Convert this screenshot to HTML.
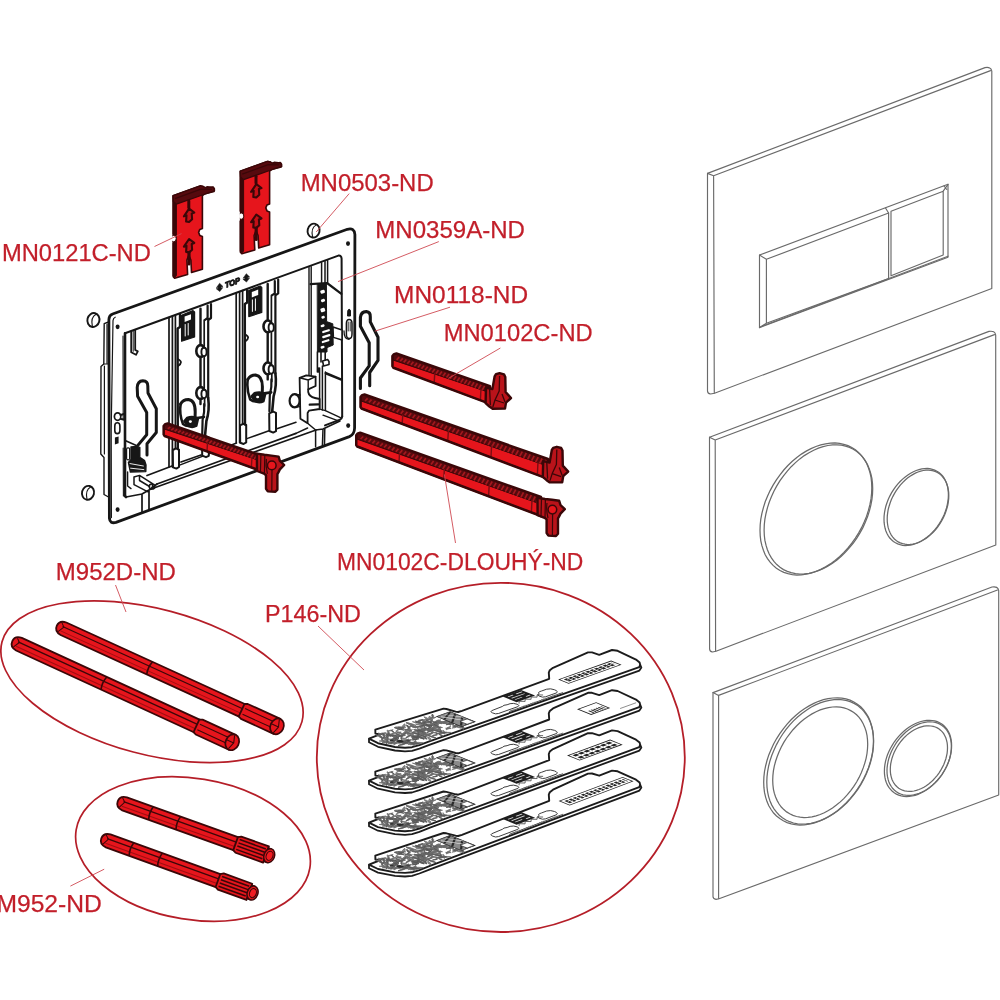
<!DOCTYPE html>
<html lang="cs"><head><meta charset="utf-8"><title>Spare parts</title>
<style>
html,body{margin:0;padding:0;background:#fff;}
body{width:1000px;height:1000px;overflow:hidden;}
svg{display:block;will-change:transform;filter:blur(0.45px)}
text{font-family:"Liberation Sans",sans-serif;}
</style></head><body>
<svg width="1000" height="1000" viewBox="0 0 1000 1000">
<rect width="1000" height="1000" fill="#fff"/>
<!-- sec_plates -->

<g fill="none" stroke="#6a6a6a" stroke-width="1.15" stroke-linejoin="round" stroke-linecap="round">
<path d="M707.5 173.4 L985 67.6 Q991 66.5 991.8 71 L991.8 288.5 L714.5 393.2 L710.5 394 Q707.5 393.5 707.5 391 Z"/>
<path d="M713.6 175.7 L990.5 70.6 M713.6 175.7 L714.3 393 M707.5 173.4 L713.6 175.7"/>
<path d="M759.5 255 L948 184.3 L948 257.2 L759.5 327.6 Z"/>
<path d="M759.5 255 L766.4 259.3 L766.4 323.3 L759.5 327.6 M766.4 259.3 L888.6 213 L888.6 278.6 L766.4 323.3"/>
<path d="M762.5 326 L948 256.2"/>
<path d="M885.5 208 L888.6 213 M891 211.2 L943.2 191.2 L943.2 255 L891 275.8 Z M943.2 191.2 L948 184.3 M944 186 L946.8 189.5"/>
<path d="M709.5 437.2 L989 331.4 Q995 330.4 995.7 335 L995.8 545 L716 651.2 L712.5 652 Q709.6 651.5 709.6 649 Z"/>
<path d="M715.2 440 L994.5 334.6 M715.2 440 L715.6 651 M709.5 437.2 L715.2 440"/>
<path d="M713 692.6 L992 587 Q998 586 998.7 590.5 L998.7 795 L719 898.8 L716 899.4 Q713 899 713 896.5 Z"/>
<path d="M718.6 695.4 L997.5 590 M718.6 695.4 L718.6 898.6 M713 692.6 L718.6 695.4"/>
</g>
<path d="M871.8 487.8 L871.6 493.3 L871.0 498.9 L869.9 504.7 L868.4 510.4 L866.6 516.2 L864.3 521.8 L861.7 527.4 L858.7 532.9 L855.4 538.2 L851.8 543.2 L848.0 548.0 L843.9 552.5 L839.5 556.7 L835.0 560.5 L830.4 563.9 L825.6 566.9 L820.8 569.4 L815.9 571.5 L811.0 573.1 L806.2 574.2 L801.4 574.9 L796.8 575.0 L792.3 574.6 L788.0 573.7 L783.8 572.4 L780.0 570.5 L776.4 568.2 L773.1 565.4 L770.1 562.2 L767.5 558.6 L765.2 554.7 L763.4 550.3 L761.9 545.7 L760.8 540.8 L760.2 535.6 L760.0 530.2 L760.2 524.7 L760.8 519.1 L761.9 513.3 L763.4 507.6 L765.2 501.8 L767.5 496.2 L770.1 490.6 L773.1 485.1 L776.4 479.8 L780.0 474.8 L783.8 470.0 L787.9 465.5 L792.3 461.3 L796.8 457.5 L801.4 454.1 L806.2 451.1 L811.0 448.6 L815.9 446.5 L820.8 444.9 L825.6 443.8 L830.4 443.1 L835.0 443.0 L839.5 443.4 L843.8 444.3 L848.0 445.6 L851.8 447.5 L855.4 449.8 L858.7 452.6 L861.7 455.8 L864.3 459.4 L866.6 463.3 L868.4 467.7 L869.9 472.3 L871.0 477.2 L871.6 482.4 Z" fill="none" stroke="#6a6a6a" stroke-width="1.25"/>
<path d="M872.7 488.8 L872.5 494.2 L871.9 499.7 L870.8 505.3 L869.4 510.9 L867.6 516.6 L865.4 522.1 L862.9 527.6 L860.0 532.9 L856.8 538.1 L853.3 543.0 L849.5 547.7 L845.5 552.1 L841.3 556.2 L837.0 559.9 L832.5 563.2 L827.8 566.1 L823.1 568.6 L818.4 570.6 L813.7 572.2 L809.0 573.3 L804.3 573.9 L799.8 574.0 L795.5 573.6 L791.2 572.7 L787.3 571.4 L783.5 569.6 L780.0 567.3 L776.8 564.6 L773.9 561.4 L771.4 557.9 L769.2 554.0 L767.4 549.7 L766.0 545.2 L764.9 540.4 L764.3 535.3 L764.1 530.0 L764.3 524.6 L764.9 519.1 L766.0 513.5 L767.4 507.9 L769.2 502.2 L771.4 496.7 L773.9 491.2 L776.8 485.9 L780.0 480.7 L783.5 475.8 L787.3 471.1 L791.2 466.7 L795.5 462.6 L799.8 458.9 L804.3 455.6 L809.0 452.7 L813.7 450.2 L818.4 448.2 L823.1 446.6 L827.8 445.5 L832.5 444.9 L837.0 444.8 L841.3 445.2 L845.5 446.1 L849.5 447.4 L853.3 449.2 L856.8 451.5 L860.0 454.2 L862.9 457.4 L865.4 460.9 L867.6 464.8 L869.4 469.1 L870.8 473.6 L871.9 478.4 L872.5 483.5 Z" fill="none" stroke="#6a6a6a" stroke-width="1.25"/>
<path d="M948.4 494.8 L948.3 498.0 L947.9 501.3 L947.3 504.6 L946.5 508.0 L945.4 511.3 L944.1 514.7 L942.6 517.9 L940.9 521.1 L939.0 524.2 L936.9 527.1 L934.7 529.9 L932.3 532.5 L929.8 534.9 L927.2 537.1 L924.5 539.1 L921.8 540.8 L919.0 542.3 L916.2 543.5 L913.4 544.4 L910.6 545.1 L907.9 545.4 L905.2 545.5 L902.6 545.3 L900.1 544.7 L897.7 543.9 L895.5 542.8 L893.4 541.5 L891.5 539.8 L889.8 538.0 L888.3 535.8 L887.0 533.5 L885.9 531.0 L885.1 528.3 L884.5 525.4 L884.1 522.4 L884.0 519.2 L884.1 516.0 L884.5 512.7 L885.1 509.4 L885.9 506.0 L887.0 502.7 L888.3 499.3 L889.8 496.1 L891.5 492.9 L893.4 489.8 L895.5 486.9 L897.7 484.1 L900.1 481.5 L902.6 479.1 L905.2 476.9 L907.9 474.9 L910.6 473.2 L913.4 471.7 L916.2 470.5 L919.0 469.6 L921.8 468.9 L924.5 468.6 L927.2 468.5 L929.8 468.7 L932.3 469.3 L934.7 470.1 L936.9 471.2 L939.0 472.5 L940.9 474.2 L942.6 476.0 L944.1 478.2 L945.4 480.5 L946.5 483.0 L947.3 485.7 L947.9 488.6 L948.3 491.6 Z" fill="none" stroke="#6a6a6a" stroke-width="1.25"/>
<path d="M948.8 495.6 L948.7 498.7 L948.3 501.9 L947.8 505.1 L946.9 508.4 L945.9 511.6 L944.7 514.8 L943.2 518.0 L941.6 521.0 L939.8 524.0 L937.8 526.8 L935.7 529.5 L933.4 532.0 L931.0 534.4 L928.5 536.5 L926.0 538.4 L923.3 540.0 L920.7 541.5 L918.0 542.6 L915.3 543.5 L912.7 544.1 L910.0 544.4 L907.5 544.5 L905.0 544.2 L902.6 543.7 L900.3 542.9 L898.2 541.9 L896.2 540.5 L894.4 539.0 L892.8 537.1 L891.3 535.1 L890.1 532.8 L889.1 530.4 L888.2 527.7 L887.7 525.0 L887.3 522.0 L887.2 519.0 L887.3 515.9 L887.7 512.7 L888.2 509.5 L889.1 506.2 L890.1 503.0 L891.3 499.8 L892.8 496.6 L894.4 493.6 L896.2 490.6 L898.2 487.8 L900.3 485.1 L902.6 482.6 L905.0 480.2 L907.5 478.1 L910.0 476.2 L912.7 474.6 L915.3 473.1 L918.0 472.0 L920.7 471.1 L923.3 470.5 L926.0 470.2 L928.5 470.1 L931.0 470.4 L933.4 470.9 L935.7 471.7 L937.8 472.7 L939.8 474.1 L941.6 475.6 L943.2 477.5 L944.7 479.5 L945.9 481.8 L946.9 484.2 L947.8 486.9 L948.3 489.6 L948.7 492.6 Z" fill="none" stroke="#6a6a6a" stroke-width="1.25"/>
<path d="M873.5 740.5 L873.3 745.9 L872.7 751.3 L871.6 756.8 L870.2 762.3 L868.4 767.9 L866.1 773.4 L863.6 778.8 L860.7 784.0 L857.4 789.1 L853.9 794.0 L850.1 798.6 L846.1 803.0 L841.8 807.0 L837.4 810.7 L832.8 814.0 L828.1 816.9 L823.4 819.4 L818.6 821.5 L813.8 823.1 L809.1 824.2 L804.4 824.8 L799.8 825.0 L795.4 824.7 L791.2 823.9 L787.1 822.6 L783.3 820.8 L779.8 818.6 L776.5 816.0 L773.6 813.0 L771.1 809.5 L768.8 805.7 L767.0 801.6 L765.6 797.1 L764.5 792.4 L763.9 787.4 L763.7 782.3 L763.9 776.9 L764.5 771.5 L765.6 766.0 L767.0 760.5 L768.8 754.9 L771.1 749.4 L773.6 744.0 L776.5 738.8 L779.8 733.7 L783.3 728.8 L787.1 724.2 L791.1 719.8 L795.4 715.8 L799.8 712.1 L804.4 708.8 L809.1 705.9 L813.8 703.4 L818.6 701.3 L823.4 699.7 L828.1 698.6 L832.8 698.0 L837.4 697.8 L841.8 698.1 L846.0 698.9 L850.1 700.2 L853.9 702.0 L857.4 704.2 L860.7 706.8 L863.6 709.8 L866.1 713.3 L868.4 717.1 L870.2 721.2 L871.6 725.7 L872.7 730.4 L873.3 735.4 Z" fill="none" stroke="#6a6a6a" stroke-width="1.25"/>
<path d="M873.6 741.5 L873.4 746.7 L872.8 752.0 L871.8 757.4 L870.4 762.9 L868.6 768.3 L866.4 773.7 L863.9 779.0 L861.1 784.1 L858.0 789.1 L854.5 793.9 L850.8 798.4 L846.9 802.7 L842.8 806.6 L838.5 810.2 L834.0 813.4 L829.5 816.3 L824.9 818.7 L820.2 820.7 L815.5 822.2 L810.9 823.3 L806.4 823.9 L801.9 824.1 L797.6 823.8 L793.5 823.0 L789.6 821.7 L785.9 820.0 L782.4 817.8 L779.3 815.2 L776.5 812.2 L774.0 808.8 L771.8 805.1 L770.0 801.0 L768.6 796.6 L767.6 792.0 L767.0 787.1 L766.8 782.1 L767.0 776.9 L767.6 771.6 L768.6 766.2 L770.0 760.7 L771.8 755.3 L774.0 749.9 L776.5 744.6 L779.3 739.5 L782.4 734.5 L785.9 729.7 L789.6 725.2 L793.5 720.9 L797.6 717.0 L801.9 713.4 L806.4 710.2 L810.9 707.3 L815.5 704.9 L820.2 702.9 L824.9 701.4 L829.5 700.3 L834.0 699.7 L838.5 699.5 L842.8 699.8 L846.9 700.6 L850.8 701.9 L854.5 703.6 L858.0 705.8 L861.1 708.4 L863.9 711.4 L866.4 714.8 L868.6 718.5 L870.4 722.6 L871.8 727.0 L872.8 731.6 L873.4 736.5 Z" fill="none" stroke="#6a6a6a" stroke-width="1.25"/>
<path d="M867.7 744.2 L867.5 748.8 L867.0 753.5 L866.1 758.3 L864.8 763.1 L863.2 767.9 L861.3 772.7 L859.1 777.4 L856.6 782.0 L853.8 786.4 L850.7 790.6 L847.4 794.7 L844.0 798.4 L840.3 801.9 L836.4 805.1 L832.5 808.0 L828.4 810.5 L824.3 812.7 L820.2 814.5 L816.1 815.8 L812.0 816.8 L807.9 817.4 L804.0 817.5 L800.1 817.2 L796.5 816.5 L793.0 815.4 L789.7 813.8 L786.6 811.9 L783.8 809.6 L781.3 807.0 L779.1 804.0 L777.2 800.6 L775.6 797.0 L774.3 793.2 L773.4 789.1 L772.9 784.7 L772.7 780.2 L772.9 775.6 L773.4 770.9 L774.3 766.1 L775.6 761.3 L777.2 756.5 L779.1 751.7 L781.3 747.0 L783.8 742.4 L786.6 738.0 L789.7 733.8 L793.0 729.7 L796.5 726.0 L800.1 722.5 L804.0 719.3 L807.9 716.4 L812.0 713.9 L816.1 711.7 L820.2 709.9 L824.3 708.6 L828.4 707.6 L832.5 707.0 L836.4 706.9 L840.3 707.2 L844.0 707.9 L847.4 709.0 L850.7 710.6 L853.8 712.5 L856.6 714.8 L859.1 717.4 L861.3 720.4 L863.2 723.8 L864.8 727.4 L866.1 731.2 L867.0 735.3 L867.5 739.7 Z" fill="none" stroke="#6a6a6a" stroke-width="1.25"/>
<path d="M951.6 745.6 L951.5 748.8 L951.1 752.1 L950.5 755.4 L949.6 758.7 L948.5 762.0 L947.1 765.3 L945.5 768.5 L943.7 771.7 L941.8 774.8 L939.6 777.7 L937.3 780.5 L934.8 783.1 L932.2 785.5 L929.5 787.8 L926.7 789.8 L923.8 791.5 L920.9 793.0 L918.0 794.3 L915.1 795.3 L912.2 796.0 L909.3 796.4 L906.5 796.5 L903.8 796.3 L901.2 795.9 L898.7 795.1 L896.4 794.1 L894.2 792.8 L892.3 791.3 L890.5 789.4 L888.9 787.4 L887.5 785.1 L886.4 782.7 L885.5 780.0 L884.9 777.2 L884.5 774.2 L884.4 771.2 L884.5 768.0 L884.9 764.7 L885.5 761.4 L886.4 758.1 L887.5 754.8 L888.9 751.5 L890.5 748.3 L892.3 745.1 L894.2 742.0 L896.4 739.1 L898.7 736.3 L901.2 733.7 L903.8 731.3 L906.5 729.0 L909.3 727.0 L912.2 725.3 L915.1 723.8 L918.0 722.5 L920.9 721.5 L923.8 720.8 L926.7 720.4 L929.5 720.3 L932.2 720.5 L934.8 720.9 L937.3 721.7 L939.6 722.7 L941.8 724.0 L943.7 725.5 L945.5 727.4 L947.1 729.4 L948.5 731.7 L949.6 734.1 L950.5 736.8 L951.1 739.6 L951.5 742.6 Z" fill="none" stroke="#6a6a6a" stroke-width="1.25"/>
<path d="M951.4 746.4 L951.3 749.4 L950.9 752.6 L950.3 755.8 L949.5 759.0 L948.4 762.2 L947.1 765.4 L945.6 768.5 L943.9 771.5 L942.0 774.5 L939.9 777.3 L937.7 780.0 L935.3 782.5 L932.8 784.9 L930.2 787.0 L927.5 789.0 L924.8 790.7 L922.0 792.1 L919.2 793.3 L916.4 794.2 L913.6 794.9 L910.9 795.3 L908.2 795.4 L905.6 795.2 L903.1 794.8 L900.7 794.0 L898.5 793.1 L896.4 791.8 L894.5 790.3 L892.8 788.5 L891.3 786.5 L890.0 784.4 L888.9 782.0 L888.1 779.4 L887.5 776.7 L887.1 773.8 L887.0 770.8 L887.1 767.8 L887.5 764.6 L888.1 761.4 L888.9 758.2 L890.0 755.0 L891.3 751.8 L892.8 748.7 L894.5 745.7 L896.4 742.7 L898.5 739.9 L900.7 737.2 L903.1 734.7 L905.6 732.3 L908.2 730.2 L910.9 728.2 L913.6 726.5 L916.4 725.1 L919.2 723.9 L922.0 723.0 L924.8 722.3 L927.5 721.9 L930.2 721.8 L932.8 722.0 L935.3 722.4 L937.7 723.2 L939.9 724.1 L942.0 725.4 L943.9 726.9 L945.6 728.7 L947.1 730.7 L948.4 732.8 L949.5 735.2 L950.3 737.8 L950.9 740.5 L951.3 743.4 Z" fill="none" stroke="#6a6a6a" stroke-width="1.25"/>
<path d="M947.5 747.7 L947.4 750.5 L947.1 753.3 L946.5 756.1 L945.8 759.0 L944.8 761.8 L943.7 764.7 L942.3 767.4 L940.8 770.2 L939.1 772.8 L937.3 775.3 L935.3 777.7 L933.2 780.0 L931.0 782.1 L928.7 784.0 L926.3 785.7 L923.9 787.2 L921.4 788.5 L918.9 789.5 L916.4 790.4 L913.9 791.0 L911.5 791.3 L909.1 791.4 L906.8 791.2 L904.6 790.8 L902.5 790.2 L900.5 789.3 L898.7 788.2 L897.0 786.8 L895.5 785.3 L894.1 783.5 L893.0 781.5 L892.0 779.4 L891.3 777.1 L890.7 774.7 L890.4 772.1 L890.3 769.5 L890.4 766.7 L890.7 763.9 L891.3 761.1 L892.0 758.2 L893.0 755.4 L894.1 752.5 L895.5 749.8 L897.0 747.0 L898.7 744.4 L900.5 741.9 L902.5 739.5 L904.6 737.2 L906.8 735.1 L909.1 733.2 L911.5 731.5 L913.9 730.0 L916.4 728.7 L918.9 727.7 L921.4 726.8 L923.9 726.2 L926.3 725.9 L928.7 725.8 L931.0 726.0 L933.2 726.4 L935.3 727.0 L937.3 727.9 L939.1 729.0 L940.8 730.4 L942.3 731.9 L943.7 733.7 L944.8 735.7 L945.8 737.8 L946.5 740.1 L947.1 742.5 L947.4 745.1 Z" fill="none" stroke="#6a6a6a" stroke-width="1.25"/>
<!-- sec_frame -->
<g fill="none" stroke="#161616" stroke-width="1.5" stroke-linecap="round" stroke-linejoin="round">
<path d="M108.5 322 L104.2 323.6 L103.8 364 L101 366.5 L100.8 454 L104 457.5 L104 494.5 L108.5 497" stroke-width="1.4"/>
<path d="M107 324.4 L107 363 M103.8 364 L108 364 M104.4 366 L104.4 454" stroke-width="1.2"/>
<path d="M113 320.6 Q113.2 318 115.2 317.2 M113 320.6 L111.2 430 L111.4 517.6" stroke-width="1.2"/>
<path d="M147 475.5 L172 466 M181 462 L201 455 M157 484 L296 433.4 M151 489 L316 430" stroke-width="1.7"/>
<path d="M142 494 L142 511.4 M149 490 L149 509 M142 494 L149 490 L157 484 M149 490 L151 489 M126 497 L142 494" stroke-width="1.7"/>
<path d="M179 465.4 L236.6 443 M247.6 438.4 L269 430.8 M276.2 429 L296 422.2"/>
<path d="M125 333.2 L338.4 255.6 Q341.4 255.2 341.6 258.6 L342.2 416.4" stroke-width="2"/>
<path d="M125 333.2 L125 496 L126 497" stroke-width="2.6"/>
<path d="M123 336 L123.2 420 M123.2 448 L123.4 496" stroke-width="1.1"/>
<path d="M131.2 331.5 L131.2 352.3 L136 354.8 L137.8 351.4 L135.2 350 L135.2 330" stroke-width="1.8"/>
<path d="M133.2 331 L133.2 351.4" stroke-width="1"/>
<path d="M169.0 317.6 L169.0 467.0 M172.4 316.4 L172.4 467.0 M175.4 315.2 L175.4 449.0" stroke-width="1.7"/>
<path d="M172.8 450.0 L173.0 467.4 L176.4 468.6 L179.0 467.0 L179.0 449.6 L176.0 448.4 Z" fill="#fff" stroke-width="2"/>
<path d="M180.0 315.0 L180.0 327.0 L177.6 328.6 L177.8 449.0" stroke-width="2.4"/>
<path d="M177.8 359.0 Q184.0 362.0 178.0 366.0" stroke-width="1.8"/>
<path d="M181.5 315.2 L193.0 310.6 L194.6 312.0 L194.6 337.0 L181.6 341.2 Z" fill="#161616" stroke-width="1.2"/>
<path d="M184.6 316.6 L191.0 314.2 L191.0 319.6 L184.6 322.0 Z" fill="#fff" stroke="none"/>
<path d="M185.2 324.5 L185.2 336.0 M188.2 323.5 L188.2 335.0" stroke="#fff" stroke-width="1"/>
<path d="M200.5 308.6 L200.5 345.0 M200.5 357.5 L200.5 387.0 M200.5 399.5 L200.5 404.0" stroke-width="2.4"/>
<path d="M204.2 320.0 L204.2 346.0 M204.2 357.5 L204.2 388.0 M204.6 399.0 L204.6 406.0" stroke-width="1.7"/>
<path d="M207.6 305.6 L207.6 318.0 L205.0 319.8 M211.0 304.2 L211.0 318.0 L208.2 320.0 L208.2 398.0" stroke-width="2.2"/>
<ellipse cx="200.6" cy="351.0" rx="4.3" ry="5.9" fill="#fff" stroke-width="2.6"/>
<ellipse cx="204.0" cy="352.0" rx="2.6" ry="4.2" fill="#fff" stroke-width="1.9"/>
<ellipse cx="200.6" cy="393.0" rx="4.3" ry="5.9" fill="#fff" stroke-width="2.6"/>
<ellipse cx="204.0" cy="394.0" rx="2.6" ry="4.2" fill="#fff" stroke-width="1.9"/>
<path d="M180.6 404.0 Q183.0 399.6 188.4 399.6 Q195.4 400.6 195.2 412.0 L195.0 420.0" stroke-width="3"/>
<path d="M180.6 404.0 Q179.0 414.0 183.0 424.0 Q188.0 428.0 194.0 424.0 L197.0 418.0 L204.0 417.0" stroke-width="2.6"/>
<path d="M184.0 421.0 Q189.0 430.0 196.6 426.0 L198.4 418.4 Q193.0 415.4 187.0 417.6 Z" fill="#161616" stroke-width="1.8"/>
<ellipse cx="190.4" cy="421.6" rx="1.5" ry="1.3" fill="#fff" stroke="none"/>
<path d="M208.2 398.0 Q209.8 410.0 206.4 421.0 L205.0 436.0" stroke-width="2.6"/>
<path d="M204.2 404.0 Q204.8 412.0 202.6 420.0 L202.2 436.0" stroke-width="2.2"/>
<path d="M202.0 438.0 L202.2 455.6 L206.0 457.2 L208.8 455.8 L208.8 437.4 L206.0 436.2 Z" fill="#fff" stroke-width="2"/>
<path d="M236.2 293.0 L236.2 442.4 M239.6 291.8 L239.6 442.4 M242.6 290.6 L242.6 424.4" stroke-width="1.7"/>
<path d="M240.0 425.4 L240.2 442.8 L243.6 444.0 L246.2 442.4 L246.2 425.0 L243.2 423.8 Z" fill="#fff" stroke-width="2"/>
<path d="M247.2 290.4 L247.2 302.4 L244.8 304.0 L245.0 424.4" stroke-width="2.4"/>
<path d="M245.0 334.4 Q251.2 337.4 245.2 341.4" stroke-width="1.8"/>
<path d="M248.7 290.6 L260.2 286.0 L261.8 287.4 L261.8 312.4 L248.8 316.6 Z" fill="#161616" stroke-width="1.2"/>
<path d="M251.8 292.0 L258.2 289.6 L258.2 295.0 L251.8 297.4 Z" fill="#fff" stroke="none"/>
<path d="M252.4 299.9 L252.4 311.4 M255.4 298.9 L255.4 310.4" stroke="#fff" stroke-width="1"/>
<path d="M267.7 284.0 L267.7 320.4 M267.7 332.9 L267.7 362.4 M267.7 374.9 L267.7 379.4" stroke-width="2.4"/>
<path d="M271.4 295.4 L271.4 321.4 M271.4 332.9 L271.4 363.4 M271.8 374.4 L271.8 381.4" stroke-width="1.7"/>
<path d="M274.8 281.0 L274.8 293.4 L272.2 295.2 M278.2 279.6 L278.2 293.4 L275.4 295.4 L275.4 373.4" stroke-width="2.2"/>
<ellipse cx="267.8" cy="326.4" rx="4.3" ry="5.9" fill="#fff" stroke-width="2.6"/>
<ellipse cx="271.2" cy="327.4" rx="2.6" ry="4.2" fill="#fff" stroke-width="1.9"/>
<ellipse cx="267.8" cy="368.4" rx="4.3" ry="5.9" fill="#fff" stroke-width="2.6"/>
<ellipse cx="271.2" cy="369.4" rx="2.6" ry="4.2" fill="#fff" stroke-width="1.9"/>
<path d="M247.8 379.4 Q250.2 375.0 255.6 375.0 Q262.6 376.0 262.4 387.4 L262.2 395.4" stroke-width="3"/>
<path d="M247.8 379.4 Q246.2 389.4 250.2 399.4 Q255.2 403.4 261.2 399.4 L264.2 393.4 L271.2 392.4" stroke-width="2.6"/>
<path d="M251.2 396.4 Q256.2 405.4 263.8 401.4 L265.6 393.8 Q260.2 390.8 254.2 393.0 Z" fill="#161616" stroke-width="1.8"/>
<ellipse cx="257.6" cy="397.0" rx="1.5" ry="1.3" fill="#fff" stroke="none"/>
<path d="M275.4 373.4 Q277.0 385.4 273.6 396.4 L272.2 411.4" stroke-width="2.6"/>
<path d="M271.4 379.4 Q272.0 387.4 269.8 395.4 L269.4 411.4" stroke-width="2.2"/>
<path d="M269.2 413.4 L269.4 431.0 L273.2 432.6 L276.0 431.2 L276.0 412.8 L273.2 411.6 Z" fill="#fff" stroke-width="2"/>
<path d="M309 267.4 L309 376 M311.2 266.6 L311.2 375.4" stroke-width="1.4"/>
<path d="M321.6 262.8 L321.6 283 M325 261.6 L325 283 M327.6 260.6 L327.6 283.4" stroke-width="1.5"/>
<path d="M310.6 284.2 L327 283 L341.4 293.8" stroke-width="2.2"/>
<path d="M317.6 284 L326.4 283.4 L326.6 321.6 L332.8 323.8 L333.2 345 L327 347.6 L327 352 L317.8 352 Z" fill="#161616" stroke-width="1"/>
<rect x="320.4" y="290" width="4.4" height="3.4" rx="1" fill="#fff" stroke="none" transform="rotate(-18 322.59999999999997 291.7)"/>
<rect x="321" y="299" width="4" height="3" rx="1" fill="#fff" stroke="none" transform="rotate(-18 323.0 300.5)"/>
<rect x="320.6" y="308" width="4.4" height="4" rx="1" fill="#fff" stroke="none" transform="rotate(-18 322.8 310.0)"/>
<rect x="321.4" y="316" width="3.4" height="2.6" rx="1" fill="#fff" stroke="none" transform="rotate(-18 323.09999999999997 317.3)"/>
<rect x="320.6" y="324.6" width="4" height="2.4" rx="1" fill="#fff" stroke="none" transform="rotate(-18 322.6 325.8)"/>
<rect x="322" y="330" width="8" height="2.2" rx="1" fill="#fff" stroke="none" transform="rotate(-18 326.0 331.1)"/>
<rect x="322" y="335" width="8.6" height="2.2" rx="1" fill="#fff" stroke="none" transform="rotate(-18 326.3 336.1)"/>
<rect x="321.6" y="340" width="8" height="2.2" rx="1" fill="#fff" stroke="none" transform="rotate(-18 325.6 341.1)"/>
<rect x="320.6" y="346" width="4" height="2.4" rx="1" fill="#fff" stroke="none" transform="rotate(-18 322.6 347.2)"/>
<path d="M317.4 352 L317.4 372 M321 352 L321 362 M325.2 352 L325.2 360" stroke-width="1.6"/>
<path d="M333 327 L342 330 L342 340 L333.4 337.4 Z" fill="#fff" stroke-width="1.5"/>
<path d="M322.6 361 L327.6 359.6 L329 361.4 L329 364.6 L323.6 366 Z" fill="#fff" stroke-width="1.6"/>
<path d="M318.4 368 L318.4 372 M319.6 368 L319.6 409.4 M322.4 366 L322.4 410 M325.4 372 L325.4 410.6" stroke-width="1.5"/>
<path d="M325.9 373.2 L341.4 379.6" stroke-width="2.6"/>
<path d="M325.4 410.6 L340.4 417.6 M323 415.2 L339 421.2 M320.7 409.4 L325.4 410.6" stroke-width="1.4"/>
<path d="M347.9 310.4 Q349.2 307.6 350.5 310.4 L350.5 316 L347.9 316 Z" fill="#161616" stroke-width="1"/>
<path d="M346.4 323.6 Q346.4 319.4 349.2 319.4 Q352 319.4 352 323.6 L352 334 Q352 338.6 349.2 338.6 Q346.4 338.6 346.4 334 Z" stroke-width="1.5"/>
<path d="M348.2 322 L348.2 331 M350.2 322 L350.2 331" stroke-width="0.9"/>
<path d="M344 331 Q344 339 349 339.4" stroke-width="1.3"/>
<ellipse cx="117.6" cy="416.6" rx="3.2" ry="3.8" stroke-width="1.7"/><path d="M120.6 415 L124 414 M120.8 419 L124 419.6" stroke-width="2"/>
<path d="M114.8 426 Q114.8 422.8 117.3 422.8 Q119.9 422.8 119.9 426 L119.9 430.4 Q119.9 433.6 117.3 433.6 Q114.8 433.6 114.8 430.4 Z" stroke-width="1.6"/>
<path d="M114.9 437.4 L118.6 436.4 L118.6 443.2 L114.9 444.4 Z" fill="#161616" stroke="none"/>
<path d="M126.2 440.9 L135.8 445.2 L136 447" stroke-width="1.6"/>
<path d="M131 447 L136 446.4 L139.8 447.4 L139.8 457.4 L144.6 460.6 L146 465 L145.8 471.6 L130.4 472 L128.4 462.4 L131 459.6 Z" fill="#161616" stroke-width="1.4"/>
<path d="M130 463.6 L143.4 466 M130.6 468.2 L143.8 469.6" stroke="#fff" stroke-width="0.9"/>
<rect x="126.6" y="447.8" width="3" height="12" rx="1.2" fill="#fff" stroke-width="1.2"/>
<path d="M127.6 472 L127.6 486 L131 488.6" stroke-width="1.4"/>
<path d="M134 477 L139.5 475.4 L152.5 483.6 L152.5 488 M134 477 L134 484.6 L148 491.8 M139.5 475.4 L139.5 480.5 L149.5 486.5" />
<ellipse cx="152" cy="486.5" rx="2.8" ry="2.6"/>
<path d="M299.6 377.8 L306.3 375.4 L315.6 376.6 L315.6 386 L308.2 389.4 L308.2 392 Q309 396.6 315 398 L319.6 399 L319.6 409 L309 410.6 L307.6 413 L307.6 423.2 L300.4 418.8 Z" fill="#fff" stroke-width="1.8"/>
<path d="M299.6 377.8 L308.2 380 L315.6 376.6 M308.2 380 L308.2 389.4" stroke-width="1.4"/>
<path d="M309.8 404.6 L318.4 404.4" stroke-width="2.4"/>
<ellipse cx="294.6" cy="400.8" rx="5" ry="6.6" fill="#fff" stroke-width="2.2"/><path d="M294.6 394.2 L300 395 M294.6 407.4 L300 406.6" stroke-width="1.4"/>
<path d="M342.2 416.4 Q342 418.8 340 419.6 L325 425.4" stroke-width="2"/>
<path d="M315.6 430 L315.6 446.8 M323 429 L322.4 445.8 M324.8 428.4 L324.5 445.4 M307.6 423.2 L315.6 430 L323 429 L340 421"/>
<path d="M296 433.4 L307.6 428"/>
</g>
<path d="M108.9 319.5 Q109 315.4 112.6 314 L347.4 229.3 Q354.4 227.4 354.9 234.5 L354.6 428 Q354.4 434.6 349.4 436.6 L116 522.4 Q109.9 524 109.4 518.4 Z" fill="none" stroke="#161616" stroke-width="2.8" stroke-linejoin="round"/>
<ellipse cx="117.6" cy="326.8" rx="2" ry="2.4" fill="#161616"/>
<ellipse cx="348" cy="243.6" rx="2" ry="2.4" fill="#161616"/>
<ellipse cx="348.2" cy="425.6" rx="2" ry="2.4" fill="#161616"/>
<ellipse cx="117.6" cy="509.6" rx="2" ry="2.4" fill="#161616"/>
<ellipse cx="93.4" cy="320" rx="6" ry="7" fill="none" stroke="#161616" stroke-width="1.9" transform="rotate(14 93.4 320)"/>
<path d="M94.60000000000001 313.8 Q89.80000000000001 318 94.0 326.6" fill="none" stroke="#161616" stroke-width="1.1" transform="rotate(14 93.4 320)"/>
<ellipse cx="313.6" cy="230.6" rx="6" ry="7" fill="none" stroke="#161616" stroke-width="1.9" transform="rotate(14 313.6 230.6)"/>
<path d="M314.8 224.4 Q310.0 228.6 314.20000000000005 237.2" fill="none" stroke="#161616" stroke-width="1.1" transform="rotate(14 313.6 230.6)"/>
<ellipse cx="88" cy="492.8" rx="6" ry="7" fill="none" stroke="#161616" stroke-width="1.9" transform="rotate(14 88 492.8)"/>
<path d="M89.2 486.6 Q84.4 490.8 88.6 499.40000000000003" fill="none" stroke="#161616" stroke-width="1.1" transform="rotate(14 88 492.8)"/>
<text x="0" y="0" font-size="7.8" font-weight="700" font-style="italic" fill="#161616" stroke="#161616" stroke-width="0.9" stroke-linejoin="round" text-anchor="middle" transform="translate(232.9 285.4) rotate(-20) skewX(-10)">TOP</text>
<path d="M219.6 283.2 L223.0 286.5 L221.0 287.0 L221.2 288.0 L222.79999999999998 287.59999999999997 L219.79999999999998 291.59999999999997 L216.2 288.7 L218.2 288.29999999999995 L218.0 287.2 L216.4 287.7 Z" fill="#161616" stroke="#161616" stroke-width="0.5" stroke-linejoin="round"/>
<path d="M246.3 273.7 L249.70000000000002 277.0 L247.70000000000002 277.5 L247.9 278.5 L249.5 278.09999999999997 L246.5 282.09999999999997 L242.9 279.2 L244.9 278.79999999999995 L244.70000000000002 277.7 L243.10000000000002 278.2 Z" fill="#161616" stroke="#161616" stroke-width="0.5" stroke-linejoin="round"/>
<path d="M360.4 388.5 L360.4 378 L369.2 365.9 L369.2 342.8 L360.4 326.3 L360.4 317.5 Q361 311.5 366.4 311.6 Q370.6 312 370.3 317 L370.3 321.9 L378 337.3 L378 360.4 L369.7 372.5 L369.7 385.7" fill="none" stroke="#161616" stroke-width="3.1" stroke-linecap="round" stroke-linejoin="round"/>
<path d="M137 446.4 L146.7 434.8 L146.7 412.5 L137.6 396.2 L137.2 387.5 Q137.6 381 142.8 380.8 Q148 381.2 147.8 386 L148 393 L156.3 408.8 L156.3 432.5 L147 443.8 L147 455" fill="none" stroke="#161616" stroke-width="3" stroke-linecap="round" stroke-linejoin="round"/>
<!-- sec_red -->
<path d="M173.2 195.8 L199.7 186.2 L203.0 186.4 L205.0 188.2 L207.0 186.8 L213.6 187.6 L214.4 189.0 L214.0 191.4 L205.0 193.7 L202.4 195.6 L202.4 228.4 L199.8 229.4 L198.6 232.4 L199.8 235.4 L202.4 236.4 L202.4 269.2 L191.5 272.4 L190.9 260.0 L188.8 255.4 L186.9 260.0 L187.6 274.4 L174.6 278.2 L173.2 276.8 Z" fill="#e6151c" stroke="#3a0708" stroke-width="1.6" stroke-linejoin="round"/>
<path d="M173.0 195.6 L176.4 197.6 L176.4 275.6 L174.7 277.4 L173.0 276.0 Z" fill="#3a0708" stroke="#3a0708" stroke-width="1"/>
<path d="M173.0 195.6 L200.6 185.7 L206.2 187.8 L213.2 187.0 L214.6 190.8 L206.2 193.6 L202.4 195.0 L176.4 204.2 L173.4 201.6 Z" fill="#560a0e" stroke="#3a0708" stroke-width="1.3" stroke-linejoin="round"/>
<path d="M175 198.6 L201 189.2 L212 189.4" fill="none" stroke="#3a0708" stroke-width="1.2"/>
<ellipse cx="173.6" cy="238.6" rx="2.6" ry="3.2" fill="#fff" stroke="#3a0708" stroke-width="1"/>
<rect x="169" y="234.1" width="3.2" height="9" fill="#fff"/>
<path d="M189.1 208.6 L194.3 212.5 L191.7 213.5 L192.1 219.3 L189.1 222.0 L186.1 221.5 L186.5 215.3 L183.9 216.3 Z" fill="#c40f16" stroke="#3a0708" stroke-width="2.1" stroke-linejoin="round"/>
<path d="M189.1 239.0 L194.3 242.9 L191.7 243.9 L192.1 249.7 L189.1 252.4 L186.1 251.9 L186.5 245.7 L183.9 246.7 Z" fill="#c40f16" stroke="#3a0708" stroke-width="2.1" stroke-linejoin="round"/>
<path d="M188.8 200.8 L188.8 207.5" stroke="#3a0708" stroke-width="3" stroke-linecap="round"/>
<path d="M189 252.5 L189 264" stroke="#3a0708" stroke-width="3.2" stroke-linecap="round"/>
<path d="M240.4 171.3 L266.9 161.7 L270.2 161.9 L272.2 163.7 L274.2 162.3 L280.8 163.1 L281.6 164.5 L281.2 166.9 L272.2 169.2 L269.6 171.1 L269.6 203.9 L267.0 204.9 L265.8 207.9 L267.0 210.9 L269.6 211.9 L269.6 244.7 L258.7 247.9 L258.1 235.5 L256.0 230.9 L254.1 235.5 L254.8 249.9 L241.8 253.7 L240.4 252.3 Z" fill="#e6151c" stroke="#3a0708" stroke-width="1.6" stroke-linejoin="round"/>
<path d="M240.2 171.1 L243.6 173.1 L243.6 251.1 L241.9 252.9 L240.2 251.5 Z" fill="#3a0708" stroke="#3a0708" stroke-width="1"/>
<path d="M240.2 171.1 L267.8 161.2 L273.4 163.3 L280.4 162.5 L281.8 166.3 L273.4 169.1 L269.6 170.5 L243.6 179.7 L240.6 177.1 Z" fill="#560a0e" stroke="#3a0708" stroke-width="1.3" stroke-linejoin="round"/>
<path d="M242.2 174.1 L268.2 164.7 L279.2 164.9" fill="none" stroke="#3a0708" stroke-width="1.2"/>
<ellipse cx="241.20000000000002" cy="216.1" rx="2.6" ry="3.2" fill="#fff" stroke="#3a0708" stroke-width="1"/>
<rect x="236.60000000000002" y="211.6" width="3.2" height="9" fill="#fff"/>
<path d="M256.3 184.1 L261.5 188.0 L258.9 189.0 L259.3 194.8 L256.3 197.5 L253.3 197.0 L253.7 190.8 L251.1 191.8 Z" fill="#c40f16" stroke="#3a0708" stroke-width="2.1" stroke-linejoin="round"/>
<path d="M256.3 214.5 L261.5 218.4 L258.9 219.4 L259.3 225.2 L256.3 227.9 L253.3 227.4 L253.7 221.2 L251.1 222.2 Z" fill="#c40f16" stroke="#3a0708" stroke-width="2.1" stroke-linejoin="round"/>
<path d="M256.0 176.3 L256.0 183.0" stroke="#3a0708" stroke-width="3" stroke-linecap="round"/>
<path d="M256.2 228.0 L256.2 239.5" stroke="#3a0708" stroke-width="3.2" stroke-linecap="round"/>
<path d="M392.4 356.0 L394.0 354.1 L396.4 353.5 L490.0 386.2 L490.0 404.0 L393.4 367.8 L392.4 366.2 Z" fill="#560a0e" stroke="#3a0708" stroke-width="2.4" stroke-linejoin="round"/>
<path d="M393.4 360.2 L490.0 393.0 L490.0 403.2 L393.4 366.8 Z" fill="#e6151c"/>
<path d="M392.4 359.8 L490 392.6" stroke="#3a0708" stroke-width="1" fill="none"/>
<path d="M399.2 357.1 L396.6 359.9 M402.8 358.3 L400.2 361.1 M406.3 359.5 L403.7 362.4 M409.9 360.7 L407.3 363.7 M413.4 361.9 L410.8 364.9 M417.0 363.1 L414.4 366.2 M420.6 364.3 L418.0 367.5 M424.1 365.5 L421.5 368.7 M427.7 366.7 L425.1 370.0 M431.2 367.9 L428.6 371.2 M434.8 369.1 L432.2 372.5 M438.4 370.3 L435.8 373.8 M441.9 371.5 L439.3 375.0 M445.5 372.7 L442.9 376.3 M449.1 373.9 L446.5 377.5 M452.6 375.1 L450.0 378.8 M456.2 376.3 L453.6 380.1 M459.7 377.5 L457.1 381.3 M463.3 378.7 L460.7 382.6 M466.9 379.9 L464.3 383.9 M470.4 381.1 L467.8 385.1 M474.0 382.3 L471.4 386.4 M477.5 383.5 L474.9 387.6 M481.1 384.7 L478.5 388.9 M484.7 385.9 L482.1 390.2 M488.2 387.1 L485.6 391.4 " stroke="#a3181e" stroke-width="1.7" fill="none"/>
<path d="M434.8 373.0 L434.2 382.4" stroke="#7a0e13" stroke-width="1.4"/>
<path d="M481 388.6 L480.4 399.8" stroke="#7a0e13" stroke-width="1.4"/>
<path d="M392.7 356.5 L392.7 366.7" stroke="#3a0708" stroke-width="1.8"/>
<path d="M393.4 367.4 L490 403.6" stroke="#3a0708" stroke-width="2"/>
<path d="M486.0 387.5 L492.4 389.0 L494.6 376.4 L496.0 374.2 L499.6 373.2 L504.0 374.4 L505.3 377.0 L505.6 392.0 L511.0 398.0 L506.0 402.6 L505.0 408.6 L492.6 408.8 L489.4 406.6 L485.6 403.2 Z" fill="#b9131a" stroke="#3a0708" stroke-width="2.4" stroke-linejoin="round"/>
<path d="M499.6 376 L499.2 391 L495 400 L492.8 407 M489.6 389 L490.4 405 M502 394 L505 402 M495 400 L504 403" fill="none" stroke="#3a0708" stroke-width="1.3" stroke-linejoin="round"/>
<path d="M360.5 397.0 L362.1 395.1 L364.5 394.5 L548.0 459.0 L548.0 479.0 L361.5 408.6 L360.5 407.0 Z" fill="#560a0e" stroke="#3a0708" stroke-width="2.4" stroke-linejoin="round"/>
<path d="M361.5 401.2 L548.0 466.6 L548.0 478.2 L361.5 407.6 Z" fill="#e6151c"/>
<path d="M360.5 400.8 L548 466.2" stroke="#3a0708" stroke-width="1" fill="none"/>
<path d="M367.6 398.3 L365.0 401.0 M371.5 399.6 L368.9 402.4 M375.5 401.0 L372.9 403.8 M379.5 402.4 L376.9 405.3 M383.4 403.7 L380.8 406.7 M387.4 405.1 L384.8 408.1 M391.4 406.5 L388.8 409.5 M395.3 407.8 L392.7 410.9 M399.3 409.2 L396.7 412.4 M403.3 410.6 L400.7 413.8 M407.3 412.0 L404.7 415.2 M411.2 413.3 L408.6 416.6 M415.2 414.7 L412.6 418.1 M419.2 416.1 L416.6 419.5 M423.1 417.4 L420.5 420.9 M427.1 418.8 L424.5 422.3 M431.1 420.2 L428.5 423.7 M435.0 421.5 L432.4 425.2 M439.0 422.9 L436.4 426.6 M443.0 424.3 L440.4 428.0 M446.9 425.7 L444.3 429.4 M450.9 427.0 L448.3 430.9 M454.9 428.4 L452.3 432.3 M458.8 429.8 L456.2 433.7 M462.8 431.1 L460.2 435.1 M466.8 432.5 L464.2 436.5 M470.7 433.9 L468.1 438.0 M474.7 435.2 L472.1 439.4 M478.7 436.6 L476.1 440.8 M482.6 438.0 L480.0 442.2 M486.6 439.3 L484.0 443.6 M490.6 440.7 L488.0 445.1 M494.5 442.1 L491.9 446.5 M498.5 443.5 L495.9 447.9 M502.5 444.8 L499.9 449.3 M506.4 446.2 L503.8 450.8 M510.4 447.6 L507.8 452.2 M514.4 448.9 L511.8 453.6 M518.3 450.3 L515.7 455.0 M522.3 451.7 L519.7 456.4 M526.3 453.0 L523.7 457.9 M530.2 454.4 L527.6 459.3 M534.2 455.8 L531.6 460.7 M538.2 457.2 L535.6 462.1 M542.1 458.5 L539.5 463.6 M546.1 459.9 L543.5 465.0 " stroke="#a3181e" stroke-width="1.7" fill="none"/>
<path d="M402.8 414.6 L402.2 423.2" stroke="#7a0e13" stroke-width="1.4"/>
<path d="M448.4 430.5 L447.79999999999995 440.5" stroke="#7a0e13" stroke-width="1.4"/>
<path d="M491.6 445.5 L491.0 456.8" stroke="#7a0e13" stroke-width="1.4"/>
<path d="M538 461.7 L537.4 474.4" stroke="#7a0e13" stroke-width="1.4"/>
<path d="M360.8 397.5 L360.8 407.5" stroke="#3a0708" stroke-width="1.8"/>
<path d="M361.5 408.2 L548 478.6" stroke="#3a0708" stroke-width="2"/>
<path d="M543.2 461.1 L549.6 462.6 L551.8 450.0 L553.2 447.8 L556.8 446.8 L561.2 448.0 L562.5 450.6 L562.8 465.6 L568.2 471.6 L563.2 476.2 L562.2 482.2 L549.8 482.4 L546.6 480.2 L542.8 476.8 Z" fill="#b9131a" stroke="#3a0708" stroke-width="2.4" stroke-linejoin="round"/>
<path d="M556.8000000000001 449.6 L556.4 464.6 L552.2 473.6 L550.0 480.6 M546.8000000000001 462.6 L547.6 478.6 M559.2 467.6 L562.2 475.6 M552.2 473.6 L561.2 476.6" fill="none" stroke="#3a0708" stroke-width="1.3" stroke-linejoin="round"/>
<path d="M356.2 435.2 L357.8 433.3 L360.2 432.7 L541.0 497.0 L541.0 516.2 L357.2 446.6 L356.2 445.0 Z" fill="#560a0e" stroke="#3a0708" stroke-width="2.4" stroke-linejoin="round"/>
<path d="M357.2 439.2 L541.0 504.6 L541.0 515.4 L357.2 445.6 Z" fill="#e6151c"/>
<path d="M356.2 438.8 L541 504.2" stroke="#3a0708" stroke-width="1" fill="none"/>
<path d="M363.2 436.5 L360.6 439.0 M367.1 437.8 L364.5 440.4 M371.1 439.2 L368.5 441.8 M375.0 440.6 L372.4 443.3 M378.9 441.9 L376.3 444.7 M382.8 443.3 L380.2 446.1 M386.7 444.6 L384.1 447.5 M390.6 446.0 L388.0 448.9 M394.5 447.4 L391.9 450.4 M398.4 448.7 L395.8 451.8 M402.3 450.1 L399.7 453.2 M406.2 451.5 L403.6 454.6 M410.1 452.8 L407.5 456.1 M414.0 454.2 L411.4 457.5 M418.0 455.6 L415.4 458.9 M421.9 456.9 L419.3 460.3 M425.8 458.3 L423.2 461.7 M429.7 459.7 L427.1 463.2 M433.6 461.0 L431.0 464.6 M437.5 462.4 L434.9 466.0 M441.4 463.8 L438.8 467.4 M445.3 465.1 L442.7 468.9 M449.2 466.5 L446.6 470.3 M453.1 467.9 L450.5 471.7 M457.0 469.2 L454.4 473.1 M461.0 470.6 L458.4 474.5 M464.9 472.0 L462.3 476.0 M468.8 473.3 L466.2 477.4 M472.7 474.7 L470.1 478.8 M476.6 476.0 L474.0 480.2 M480.5 477.4 L477.9 481.6 M484.4 478.8 L481.8 483.1 M488.3 480.1 L485.7 484.5 M492.2 481.5 L489.6 485.9 M496.1 482.9 L493.5 487.3 M500.0 484.2 L497.4 488.8 M503.9 485.6 L501.3 490.2 M507.9 487.0 L505.3 491.6 M511.8 488.3 L509.2 493.0 M515.7 489.7 L513.1 494.4 M519.6 491.1 L517.0 495.9 M523.5 492.4 L520.9 497.3 M527.4 493.8 L524.8 498.7 M531.3 495.2 L528.7 500.1 M535.2 496.5 L532.6 501.6 M539.1 497.9 L536.5 503.0 " stroke="#a3181e" stroke-width="1.7" fill="none"/>
<path d="M399.6 453.2 L399.0 461.7" stroke="#7a0e13" stroke-width="1.4"/>
<path d="M444.4 469.0 L443.79999999999995 478.7" stroke="#7a0e13" stroke-width="1.4"/>
<path d="M489.2 484.9 L488.59999999999997 495.7" stroke="#7a0e13" stroke-width="1.4"/>
<path d="M532 500.0 L531.4 512.0" stroke="#7a0e13" stroke-width="1.4"/>
<path d="M356.5 435.7 L356.5 445.5" stroke="#3a0708" stroke-width="1.8"/>
<path d="M357.2 446.2 L541 515.8000000000001" stroke="#3a0708" stroke-width="2"/>
<path d="M537.5 497.8 L545.0 499.0 L552.0 499.8 L559.2 500.8 L560.5 505.0 L564.8 509.2 L560.5 513.6 L559.0 516.6 L558.0 518.4 L558.0 533.8 L556.0 536.0 L548.4 535.6 L546.6 533.0 L546.6 519.4 L544.6 517.8 L537.6 515.2 Z" fill="#b9131a" stroke="#3a0708" stroke-width="2.4" stroke-linejoin="round"/>
<circle cx="552.4" cy="509.6" r="4.3" fill="#e6151c" stroke="#3a0708" stroke-width="1.5"/>
<path d="M541.5 499 L541 516.5 M545.4 499.6 L545 517.6 M552.6 514 L552.4 535 M547 503 Q546 510 548 518" fill="none" stroke="#3a0708" stroke-width="1.2"/>
<path d="M163.6 426.0 L165.2 424.1 L167.6 423.5 L258.5 454.5 L258.5 470.2 L164.6 436.0 L163.6 434.4 Z" fill="#560a0e" stroke="#3a0708" stroke-width="2.4" stroke-linejoin="round"/>
<path d="M164.6 429.2 L258.5 460.6 L258.5 469.4 L164.6 435.0 Z" fill="#e6151c"/>
<path d="M163.6 428.8 L258.5 460.2" stroke="#3a0708" stroke-width="1" fill="none"/>
<path d="M170.3 427.1 L167.7 428.8 M173.8 428.2 L171.2 430.1 M177.2 429.4 L174.6 431.3 M180.7 430.5 L178.1 432.5 M184.2 431.6 L181.6 433.7 M187.6 432.8 L185.0 434.9 M191.1 433.9 L188.5 436.1 M194.5 435.0 L191.9 437.3 M198.0 436.2 L195.4 438.5 M201.4 437.3 L198.8 439.7 M204.9 438.4 L202.3 440.9 M208.4 439.6 L205.8 442.1 M211.8 440.7 L209.2 443.3 M215.3 441.8 L212.7 444.5 M218.7 443.0 L216.1 445.8 M222.2 444.1 L219.6 447.0 M225.6 445.2 L223.0 448.2 M229.1 446.4 L226.5 449.4 M232.6 447.5 L230.0 450.6 M236.0 448.7 L233.4 451.8 M239.5 449.8 L236.9 453.0 M242.9 450.9 L240.3 454.2 M246.4 452.1 L243.8 455.4 M249.8 453.2 L247.2 456.6 M253.3 454.3 L250.7 457.8 M256.8 455.5 L254.2 459.0 " stroke="#a3181e" stroke-width="1.7" fill="none"/>
<path d="M207.6 442.4 L207.0 450.7" stroke="#7a0e13" stroke-width="1.4"/>
<path d="M252 457.0 L251.4 467.0" stroke="#7a0e13" stroke-width="1.4"/>
<path d="M163.9 426.5 L163.9 434.9" stroke="#3a0708" stroke-width="1.8"/>
<path d="M164.6 435.59999999999997 L258.5 469.8" stroke="#3a0708" stroke-width="2"/>
<path d="M256.9 453.6 L264.4 454.8 L271.4 455.6 L278.6 456.6 L279.9 460.8 L284.2 465.0 L279.9 469.4 L278.4 472.4 L277.4 474.2 L277.4 489.6 L275.4 491.8 L267.8 491.4 L266.0 488.8 L266.0 475.2 L264.0 473.6 L257.0 471.0 Z" fill="#b9131a" stroke="#3a0708" stroke-width="2.4" stroke-linejoin="round"/>
<circle cx="271.79999999999995" cy="465.40000000000003" r="4.3" fill="#e6151c" stroke="#3a0708" stroke-width="1.5"/>
<path d="M260.9 454.8 L260.4 472.3 M264.79999999999995 455.40000000000003 L264.4 473.40000000000003 M272.0 469.8 L271.79999999999995 490.8 M266.4 458.8 Q265.4 465.8 267.4 473.8" fill="none" stroke="#3a0708" stroke-width="1.2"/>
<!-- sec_rods -->
<ellipse cx="152" cy="681.7" rx="155.2" ry="72.8" transform="rotate(14.9 152 681.7)" fill="none" stroke="#b51e28" stroke-width="1.7"/>
<ellipse cx="193" cy="849" rx="118.4" ry="70.6" transform="rotate(9.3 193 849)" fill="none" stroke="#b51e28" stroke-width="1.7"/>
<g transform="translate(60 627.2) rotate(24.56)" stroke-linejoin="round">
<path d="M3.8 -6.9 L201.20423494797518 -6.9 L201.20423494797518 6.9 L3.8 6.9 Q-3.5 6.2 -3.5 0 Q-3.5 -6.2 3.8 -6.9 Z" fill="#e6151c" stroke="#3a0708" stroke-width="1.8"/>
<path d="M2.1 -1.7 L201.20423494797518 -1.7" stroke="#3a0708" stroke-width="1.3" fill="none"/>
<path d="M2.1 3.1 L201.20423494797518 3.1" stroke="#a00d12" stroke-width="1" fill="none"/>
<path d="M0 -4.8 L3.5 -1.7 L0 4.8" stroke="#3a0708" stroke-width="1" fill="none"/>
<path d="M98.5131117559485 -6.9 Q96.3131117559485 0 98.5131117559485 6.9" stroke="#3a0708" stroke-width="1.6" fill="none"/>
<path d="M199.70423494797518 -6.9 L202.70423494797518 -8.2 L238.58644253393777 -8.2 L238.58644253393777 8.2 L202.70423494797518 8.2 L199.70423494797518 6.9 Z" fill="#e6151c" stroke="#3a0708" stroke-width="1.8"/>
<path d="M202.20423494797518 -2.9 L238.58644253393777 -2.9 M202.20423494797518 3.3 L238.58644253393777 3.3" stroke="#3a0708" stroke-width="1.1" fill="none"/>
<ellipse cx="238.58644253393777" cy="0" rx="6.6" ry="8.2" fill="#e6151c" stroke="#3a0708" stroke-width="1.7"/>
<path d="M232.4 0 L240.2 0 M237.8 -7.4 L240.2 0 L237.8 7.4" stroke="#3a0708" stroke-width="1.1" fill="none"/>
</g>
<g transform="translate(15.5 642.6) rotate(24.70)" stroke-linejoin="round">
<path d="M3.8 -6.9 L200.6544966011228 -6.9 L200.6544966011228 6.9 L3.8 6.9 Q-3.5 6.2 -3.5 0 Q-3.5 -6.2 3.8 -6.9 Z" fill="#e6151c" stroke="#3a0708" stroke-width="1.8"/>
<path d="M2.1 -1.7 L200.6544966011228 -1.7" stroke="#3a0708" stroke-width="1.3" fill="none"/>
<path d="M2.1 3.1 L200.6544966011228 3.1" stroke="#a00d12" stroke-width="1" fill="none"/>
<path d="M0 -4.8 L3.5 -1.7 L0 4.8" stroke="#3a0708" stroke-width="1" fill="none"/>
<path d="M97.30368739287324 -6.9 Q95.10368739287324 0 97.30368739287324 6.9" stroke="#3a0708" stroke-width="1.6" fill="none"/>
<path d="M199.1544966011228 -6.9 L202.1544966011228 -8.2 L238.58644253393777 -8.2 L238.58644253393777 8.2 L202.1544966011228 8.2 L199.1544966011228 6.9 Z" fill="#e6151c" stroke="#3a0708" stroke-width="1.8"/>
<path d="M201.6544966011228 -2.9 L238.58644253393777 -2.9 M201.6544966011228 3.3 L238.58644253393777 3.3" stroke="#3a0708" stroke-width="1.1" fill="none"/>
<ellipse cx="238.58644253393777" cy="0" rx="6.6" ry="8.2" fill="#e6151c" stroke="#3a0708" stroke-width="1.7"/>
<path d="M232.4 0 L240.2 0 M237.8 -7.4 L240.2 0 L237.8 7.4" stroke="#3a0708" stroke-width="1.1" fill="none"/>
</g>
<g transform="translate(121 802.6) rotate(19.70)" stroke-linejoin="round">
<path d="M3.8 -6.9 L123.20947522004954 -6.9 L123.20947522004954 6.9 L3.8 6.9 Q-3.5 6.2 -3.5 0 Q-3.5 -6.2 3.8 -6.9 Z" fill="#e6151c" stroke="#3a0708" stroke-width="1.8"/>
<path d="M2.1 -1.7 L123.20947522004954 -1.7" stroke="#3a0708" stroke-width="1.3" fill="none"/>
<path d="M2.1 3.1 L123.20947522004954 3.1" stroke="#a00d12" stroke-width="1" fill="none"/>
<path d="M0 -4.8 L3.5 -1.7 L0 4.8" stroke="#3a0708" stroke-width="1" fill="none"/>
<path d="M31.864519453461085 -6.9 Q29.664519453461086 0 31.864519453461085 6.9" stroke="#3a0708" stroke-width="1.6" fill="none"/>
<path d="M60.86123215611069 -6.9 Q58.661232156110685 0 60.86123215611069 6.9" stroke="#3a0708" stroke-width="1.6" fill="none"/>
<path d="M121.70947522004954 -6.9 L124.70947522004954 -8.6 L154.01184402506192 -8.6 L154.01184402506192 8.6 L124.70947522004954 8.6 L121.70947522004954 6.9 Z" fill="#e6151c" stroke="#3a0708" stroke-width="1.8"/>
<path d="M124.20947522004954 -5.2 L152.01184402506192 -5.2 M124.20947522004954 -1.7 L152.01184402506192 -1.7 M124.20947522004954 1.7 L152.01184402506192 1.7 M124.20947522004954 5.2 L152.01184402506192 5.2 " stroke="#3a0708" stroke-width="1.5" fill="none"/>
<path d="M154.01184402506192 -7.1 L157.01184402506192 -7.1 L157.01184402506192 7.1 L154.01184402506192 7.1 Z" fill="#e6151c" stroke="#3a0708" stroke-width="1.5"/>
<ellipse cx="157.41184402506192" cy="0" rx="5.3" ry="7.2" fill="#e6151c" stroke="#3a0708" stroke-width="1.5"/>
<ellipse cx="157.81184402506193" cy="0" rx="3.3" ry="4.7" fill="#f01c22" stroke="#3a0708" stroke-width="1"/>
</g>
<g transform="translate(104.6 839.6) rotate(19.85)" stroke-linejoin="round">
<path d="M3.8 -6.9 L122.04110950675597 -6.9 L122.04110950675597 6.9 L3.8 6.9 Q-3.5 6.2 -3.5 0 Q-3.5 -6.2 3.8 -6.9 Z" fill="#e6151c" stroke="#3a0708" stroke-width="1.8"/>
<path d="M2.1 -1.7 L122.04110950675597 -1.7" stroke="#3a0708" stroke-width="1.3" fill="none"/>
<path d="M2.1 3.1 L122.04110950675597 3.1" stroke="#a00d12" stroke-width="1" fill="none"/>
<path d="M0 -4.8 L3.5 -1.7 L0 4.8" stroke="#3a0708" stroke-width="1" fill="none"/>
<path d="M28.571852443270114 -6.9 Q26.371852443270114 0 28.571852443270114 6.9" stroke="#3a0708" stroke-width="1.6" fill="none"/>
<path d="M58.94936098890301 -6.9 Q56.74936098890301 0 58.94936098890301 6.9" stroke="#3a0708" stroke-width="1.6" fill="none"/>
<path d="M120.54110950675597 -6.9 L123.54110950675597 -8.6 L153.90562896021706 -8.6 L153.90562896021706 8.6 L123.54110950675597 8.6 L120.54110950675597 6.9 Z" fill="#e6151c" stroke="#3a0708" stroke-width="1.8"/>
<path d="M123.04110950675597 -5.2 L151.90562896021706 -5.2 M123.04110950675597 -1.7 L151.90562896021706 -1.7 M123.04110950675597 1.7 L151.90562896021706 1.7 M123.04110950675597 5.2 L151.90562896021706 5.2 " stroke="#3a0708" stroke-width="1.5" fill="none"/>
<path d="M153.90562896021706 -7.1 L156.90562896021706 -7.1 L156.90562896021706 7.1 L153.90562896021706 7.1 Z" fill="#e6151c" stroke="#3a0708" stroke-width="1.5"/>
<ellipse cx="157.30562896021706" cy="0" rx="5.3" ry="7.2" fill="#e6151c" stroke="#3a0708" stroke-width="1.5"/>
<ellipse cx="157.70562896021707" cy="0" rx="3.3" ry="4.7" fill="#f01c22" stroke="#3a0708" stroke-width="1"/>
</g>
<!-- sec_cards -->
<ellipse cx="500.8" cy="757.4" rx="184" ry="174.6" fill="none" stroke="#b51e28" stroke-width="1.8"/>
<path d="M369.0 738.7 L369.0 742.3 L378.0 746.8 L395.0 750.5 L405.0 751.3 L412.0 750.8 L419.4 748.6 L430.0 744.6 L639.4 670.6 L641.4 667.6 L640.2 665.0" fill="#fff" stroke="#1c1c1c" stroke-width="1.8" stroke-linejoin="round"/>
<path d="M375.3 729.7 L443.5 708.6 L446.4 709.0 L455.6 711.6 L458.2 712.0 L462.0 710.8 L549.2 678.8 L548.8 672.6 L549.8 670.2 L553.0 667.8 L588.0 652.4 L592.0 652.4 L599.2 654.8 L612.0 650.0 L617.6 650.8 L636.0 659.6 L639.6 662.6 L640.2 665.0 L639.2 667.2 L430.0 741.2 L419.4 745.2 L412.0 747.2 L405.0 747.7 L395.0 747.0 L378.0 743.2 L369.0 738.7 L380.6 734.2 L375.4 733.6 Z" fill="#fff" stroke="#1c1c1c" stroke-width="1.9" stroke-linejoin="round"/>
<g transform="matrix(1 -0.3550 1 0.404 399.1 752.2)">
<path d="M33.2 -20.2 Q31.6 -16.0 34.0 -12.2 Q35.6 -16.4 33.2 -20.2 Z M37.1 -17.6 Q35.9 -15.4 36.9 -13.1 Q38.1 -15.3 37.1 -17.6 Z M43.2 -10.9 Q43.6 -8.6 45.6 -7.6 Q45.2 -9.8 43.2 -10.9 Z M8.1 -9.2 Q11.3 -7.0 15.0 -8.3 Q11.8 -10.4 8.1 -9.2 Z M67.1 -7.2 Q64.3 -4.7 64.7 -0.9 Q67.5 -3.5 67.1 -7.2 Z M12.6 -33.1 Q15.3 -31.0 18.6 -32.0 Q15.9 -34.1 12.6 -33.1 Z M17.4 -27.6 Q16.7 -25.6 17.8 -23.9 Q18.5 -25.8 17.4 -27.6 Z M34.2 -10.5 Q31.5 -8.4 31.6 -5.0 Q34.2 -7.1 34.2 -10.5 Z M34.6 -15.3 Q35.4 -12.2 38.3 -10.9 Q37.6 -14.1 34.6 -15.3 Z M69.2 -6.2 Q65.3 -4.3 64.5 -0.1 Q68.4 -2.0 69.2 -6.2 Z M22.8 -26.7 Q25.0 -24.9 27.7 -25.6 Q25.5 -27.3 22.8 -26.7 Z M51.4 -24.6 Q50.9 -20.3 54.1 -17.4 Q54.5 -21.7 51.4 -24.6 Z M63.0 -8.7 Q63.9 -6.9 65.9 -6.5 Q65.0 -8.3 63.0 -8.7 Z M60.2 -22.8 Q59.6 -18.2 62.8 -15.0 Q63.5 -19.6 60.2 -22.8 Z M8.0 -16.9 Q9.1 -12.9 12.9 -11.4 Q11.8 -15.3 8.0 -16.9 Z M14.3 -25.9 Q9.9 -24.5 8.3 -20.2 Q12.7 -21.5 14.3 -25.9 Z M11.2 -26.0 Q13.0 -24.6 15.2 -25.2 Q13.4 -26.6 11.2 -26.0 Z M54.1 -30.8 Q53.1 -27.4 55.1 -24.6 Q56.2 -27.9 54.1 -30.8 Z M18.6 -12.9 Q16.7 -11.5 16.7 -9.1 Q18.6 -10.6 18.6 -12.9 Z M11.6 -22.1 Q12.2 -19.6 14.6 -18.6 Q14.0 -21.1 11.6 -22.1 Z M67.6 -9.8 Q64.8 -10.1 62.9 -8.0 Q65.7 -7.7 67.6 -9.8 Z M20.5 -24.6 Q17.1 -22.0 17.2 -17.7 Q20.6 -20.3 20.5 -24.6 Z M17.1 -28.4 Q17.4 -24.3 20.9 -22.1 Q20.6 -26.2 17.1 -28.4 Z M24.6 -32.7 Q23.1 -31.1 23.6 -28.8 Q25.1 -30.5 24.6 -32.7 Z M20.4 -17.6 Q19.5 -14.8 21.2 -12.3 Q22.2 -15.2 20.4 -17.6 Z M67.4 -19.8 Q63.9 -19.9 61.6 -17.2 Q65.2 -17.0 67.4 -19.8 Z M20.5 -30.5 Q16.1 -30.0 13.8 -26.2 Q18.2 -26.7 20.5 -30.5 Z M24.7 -28.0 Q20.9 -29.1 17.7 -26.6 Q21.6 -25.5 24.7 -28.0 Z M19.2 -8.2 Q16.1 -5.1 16.7 -0.8 Q19.8 -3.9 19.2 -8.2 Z M33.6 -30.1 Q31.6 -30.8 29.8 -29.7 Q31.8 -28.9 33.6 -30.1 Z M22.6 -13.1 Q19.9 -12.9 18.5 -10.6 Q21.2 -10.8 22.6 -13.1 Z M43.8 -25.9 Q41.5 -24.9 41.0 -22.5 Q43.2 -23.5 43.8 -25.9 Z M13.0 -27.6 Q9.5 -27.6 7.4 -24.7 Q10.9 -24.7 13.0 -27.6 Z M40.3 -27.0 Q42.3 -23.0 46.7 -22.2 Q44.7 -26.2 40.3 -27.0 Z M32.3 -33.2 Q32.2 -30.7 34.1 -29.1 Q34.2 -31.6 32.3 -33.2 Z M43.4 -29.9 Q40.5 -30.3 38.4 -28.2 Q41.4 -27.8 43.4 -29.9 Z M66.7 -16.6 Q64.1 -13.7 64.9 -10.0 Q67.5 -12.8 66.7 -16.6 Z M16.3 -32.5 Q14.3 -32.8 12.8 -31.4 Q14.8 -31.1 16.3 -32.5 Z M49.5 -5.8 Q47.9 -4.5 48.0 -2.4 Q49.6 -3.7 49.5 -5.8 Z M38.0 -11.1 Q35.4 -12.4 32.9 -11.1 Q35.4 -9.8 38.0 -11.1 Z M14.0 -17.7 Q10.0 -18.3 7.2 -15.5 Q11.1 -14.9 14.0 -17.7 Z M54.5 -12.9 Q50.5 -13.7 47.4 -10.9 Q51.5 -10.1 54.5 -12.9 Z M31.1 -14.0 Q26.7 -14.3 23.8 -10.9 Q28.2 -10.6 31.1 -14.0 Z M32.3 -13.1 Q29.6 -9.7 30.6 -5.5 Q33.3 -8.8 32.3 -13.1 Z M45.2 -24.5 Q42.6 -22.1 43.0 -18.5 Q45.6 -21.0 45.2 -24.5 Z M14.8 -15.4 Q10.1 -15.8 7.0 -12.3 Q11.7 -11.9 14.8 -15.4 Z M51.3 -24.8 Q48.7 -21.8 49.5 -17.9 Q52.1 -20.9 51.3 -24.8 Z M34.3 -9.3 Q32.2 -8.6 31.5 -6.4 Q33.6 -7.1 34.3 -9.3 Z M5.6 -16.9 Q6.8 -13.9 10.0 -13.0 Q8.8 -16.1 5.6 -16.9 Z M51.8 -18.9 Q48.2 -19.7 45.4 -17.3 Q49.0 -16.5 51.8 -18.9 Z M22.9 -34.8 Q20.5 -33.3 20.3 -30.5 Q22.7 -32.0 22.9 -34.8 Z M20.3 -31.4 Q16.6 -28.9 16.4 -24.4 Q20.1 -27.0 20.3 -31.4 Z M34.2 -8.5 Q31.8 -6.9 31.7 -4.0 Q34.1 -5.6 34.2 -8.5 Z M21.7 -21.1 Q17.6 -21.9 14.5 -19.1 Q18.6 -18.3 21.7 -21.1 Z M58.0 -24.1 Q58.4 -20.6 61.4 -18.8 Q61.0 -22.3 58.0 -24.1 Z M17.7 -19.8 Q13.4 -19.8 10.9 -16.4 Q15.2 -16.4 17.7 -19.8 Z M47.3 -5.7 Q48.8 -3.4 51.5 -3.3 Q50.0 -5.6 47.3 -5.7 Z M32.9 -27.0 Q32.4 -24.4 34.1 -22.5 Q34.6 -25.1 32.9 -27.0 Z M46.4 -19.4 Q43.6 -19.3 41.9 -16.9 Q44.8 -17.1 46.4 -19.4 Z M63.9 -19.6 Q65.8 -18.4 67.9 -19.2 Q66.0 -20.4 63.9 -19.6 Z M60.0 -35.2 Q57.5 -32.1 58.5 -28.3 Q61.0 -31.4 60.0 -35.2 Z M23.2 -10.0 Q24.5 -8.4 26.5 -8.5 Q25.2 -10.1 23.2 -10.0 Z M31.0 -34.8 Q32.5 -30.9 36.5 -29.7 Q35.0 -33.7 31.0 -34.8 Z M14.0 -34.9 Q13.0 -31.3 15.1 -28.3 Q16.2 -31.9 14.0 -34.9 Z M48.1 -13.8 Q44.2 -15.2 40.7 -12.9 Q44.7 -11.5 48.1 -13.8 Z M45.3 -28.6 Q47.0 -25.8 50.2 -25.5 Q48.5 -28.3 45.3 -28.6 Z M3.7 -20.7 Q5.7 -17.3 9.6 -17.0 Q7.6 -20.3 3.7 -20.7 Z M22.8 -26.1 Q20.9 -22.7 22.4 -19.2 Q24.3 -22.5 22.8 -26.1 Z M45.7 -12.0 Q42.6 -11.4 41.3 -8.6 Q44.3 -9.2 45.7 -12.0 Z M63.9 -33.5 Q59.7 -31.7 58.7 -27.3 Q62.8 -29.1 63.9 -33.5 Z M17.1 -20.3 Q13.5 -21.0 10.8 -18.5 Q14.4 -17.8 17.1 -20.3 Z M32.1 -18.3 Q27.8 -17.5 25.8 -13.6 Q30.2 -14.4 32.1 -18.3 Z M60.9 -21.1 Q62.6 -17.7 66.3 -17.1 Q64.6 -20.4 60.9 -21.1 Z M52.1 -11.0 Q48.7 -9.5 47.9 -5.9 Q51.3 -7.4 52.1 -11.0 Z M23.2 -6.3 Q18.9 -8.1 14.9 -5.7 Q19.2 -3.9 23.2 -6.3 Z M41.2 -10.0 Q38.4 -10.5 36.3 -8.6 Q39.1 -8.0 41.2 -10.0 Z M57.8 -24.5 Q57.2 -22.4 58.6 -20.6 Q59.2 -22.7 57.8 -24.5 Z M36.6 -10.2 Q39.4 -8.5 42.5 -9.7 Q39.7 -11.4 36.6 -10.2 Z M52.2 -33.0 Q54.4 -29.5 58.5 -29.2 Q56.3 -32.7 52.2 -33.0 Z M24.5 -10.3 Q26.0 -8.4 28.3 -8.4 Q26.9 -10.3 24.5 -10.3 Z M39.6 -14.5 Q35.9 -12.4 35.4 -8.1 Q39.1 -10.2 39.6 -14.5 Z M59.8 -19.3 Q63.1 -16.3 67.6 -17.1 Q64.2 -20.2 59.8 -19.3 Z M21.2 -19.1 Q18.6 -18.0 17.9 -15.3 Q20.4 -16.4 21.2 -19.1 Z M45.7 -21.1 Q43.1 -17.7 44.3 -13.6 Q46.8 -17.0 45.7 -21.1 Z M28.7 -22.7 Q24.4 -23.4 21.4 -20.4 Q25.6 -19.7 28.7 -22.7 Z M19.0 -11.6 Q16.6 -7.6 18.4 -3.4 Q20.8 -7.3 19.0 -11.6 Z M41.0 -30.1 Q39.4 -27.0 40.9 -23.9 Q42.5 -27.0 41.0 -30.1 Z M43.1 -36.3 Q40.9 -32.3 42.7 -28.0 Q45.0 -32.1 43.1 -36.3 Z M30.3 -12.1 Q28.9 -8.9 30.5 -5.8 Q32.0 -9.0 30.3 -12.1 Z M47.3 -34.0 Q46.7 -30.6 49.0 -28.0 Q49.6 -31.4 47.3 -34.0 Z M64.2 -7.7 Q63.2 -5.2 64.6 -2.9 Q65.6 -5.4 64.2 -7.7 Z M17.3 -21.1 Q13.2 -21.8 10.2 -18.8 Q14.3 -18.2 17.3 -21.1 Z M35.9 -25.6 Q34.0 -23.9 34.3 -21.4 Q36.1 -23.1 35.9 -25.6 Z M58.8 -29.4 Q62.3 -27.3 66.1 -28.9 Q62.6 -30.9 58.8 -29.4 Z M16.0 -29.1 Q16.4 -25.3 19.7 -23.3 Q19.3 -27.1 16.0 -29.1 Z M29.0 -15.9 Q26.9 -15.1 26.3 -12.9 Q28.4 -13.7 29.0 -15.9 Z M11.5 -19.1 Q12.8 -16.7 15.4 -16.3 Q14.2 -18.7 11.5 -19.1 Z M37.6 -22.5 Q37.1 -19.5 39.1 -17.3 Q39.7 -20.3 37.6 -22.5 Z M39.2 -30.3 Q37.2 -28.7 37.4 -26.1 Q39.3 -27.7 39.2 -30.3 Z M46.3 -20.7 Q43.1 -17.8 43.6 -13.5 Q46.8 -16.5 46.3 -20.7 Z M61.2 -28.0 Q57.3 -27.5 55.3 -24.0 Q59.3 -24.5 61.2 -28.0 Z M63.5 -24.1 Q60.8 -24.8 58.6 -22.9 Q61.4 -22.3 63.5 -24.1 Z M15.7 -4.7 Q18.5 -1.3 22.9 -1.4 Q20.1 -4.8 15.7 -4.7 Z M18.3 -11.9 Q20.2 -10.0 22.9 -10.5 Q21.0 -12.4 18.3 -11.9 Z M53.4 -21.8 Q56.0 -18.6 60.2 -18.9 Q57.5 -22.1 53.4 -21.8 Z M29.1 -13.5 Q30.0 -11.7 32.1 -11.4 Q31.1 -13.2 29.1 -13.5 Z M43.8 -7.1 Q46.9 -3.7 51.5 -4.2 Q48.4 -7.6 43.8 -7.1 Z M38.5 -12.8 Q35.6 -11.1 35.2 -7.7 Q38.1 -9.4 38.5 -12.8 Z M15.5 -31.1 Q17.4 -29.9 19.6 -30.6 Q17.6 -31.9 15.5 -31.1 Z M36.8 -19.0 Q38.9 -16.1 42.5 -16.1 Q40.4 -19.0 36.8 -19.0 Z M21.1 -27.0 Q17.2 -28.8 13.4 -26.8 Q17.3 -25.0 21.1 -27.0 Z M64.5 -30.4 Q62.4 -31.1 60.6 -29.8 Q62.7 -29.2 64.5 -30.4 Z M33.9 -12.6 Q32.9 -9.9 34.5 -7.5 Q35.5 -10.2 33.9 -12.6 Z M34.2 -20.2 Q37.4 -18.5 40.7 -20.0 Q37.5 -21.7 34.2 -20.2 Z M48.4 -9.9 Q47.7 -7.5 49.1 -5.5 Q49.9 -7.8 48.4 -9.9 Z M49.1 -22.0 Q50.5 -19.9 53.1 -19.7 Q51.7 -21.8 49.1 -22.0 Z M40.5 -34.8 Q36.1 -34.1 34.1 -30.2 Q38.4 -30.9 40.5 -34.8 Z M48.0 -10.3 Q47.4 -6.7 50.0 -4.0 Q50.6 -7.7 48.0 -10.3 Z M46.0 -20.3 Q41.4 -19.6 39.2 -15.5 Q43.8 -16.2 46.0 -20.3 Z M24.5 -8.0 Q20.6 -7.0 19.0 -3.4 Q22.9 -4.3 24.5 -8.0 Z M59.4 -22.3 Q55.0 -22.7 52.0 -19.4 Q56.4 -19.0 59.4 -22.3 Z M47.3 -13.5 Q46.6 -9.5 49.4 -6.5 Q50.1 -10.5 47.3 -13.5 Z M49.8 -33.5 Q48.8 -30.8 50.3 -28.3 Q51.4 -31.0 49.8 -33.5 Z M7.9 -25.4 Q5.1 -23.0 5.4 -19.2 Q8.2 -21.7 7.9 -25.4 Z M18.5 -7.6 Q18.7 -3.8 21.8 -1.7 Q21.6 -5.5 18.5 -7.6 Z M45.2 -18.8 Q44.8 -15.4 47.3 -13.0 Q47.7 -16.4 45.2 -18.8 Z M69.5 -16.1 Q65.8 -15.0 64.4 -11.4 Q68.2 -12.5 69.5 -16.1 Z M68.0 -34.7 Q64.6 -33.4 63.6 -29.9 Q67.0 -31.2 68.0 -34.7 Z M20.1 -22.1 Q21.1 -20.2 23.2 -19.8 Q22.2 -21.7 20.1 -22.1 Z M31.2 -30.7 Q28.6 -31.2 26.6 -29.3 Q29.3 -28.9 31.2 -30.7 Z M40.4 -21.8 Q37.5 -18.2 38.7 -13.7 Q41.6 -17.3 40.4 -21.8 Z M63.1 -14.7 Q66.3 -12.0 70.3 -13.0 Q67.1 -15.7 63.1 -14.7 Z M44.3 -10.6 Q42.2 -11.2 40.6 -9.8 Q42.7 -9.3 44.3 -10.6 Z M15.7 -21.1 Q14.7 -18.8 15.8 -16.6 Q16.9 -18.9 15.7 -21.1 Z M42.3 -35.2 Q41.3 -30.7 44.3 -27.3 Q45.3 -31.7 42.3 -35.2 Z M36.5 -17.2 Q37.1 -14.2 39.8 -13.0 Q39.2 -15.9 36.5 -17.2 Z M47.5 -18.1 Q45.0 -17.0 44.4 -14.3 Q46.9 -15.4 47.5 -18.1 Z M21.7 -32.9 Q23.9 -31.4 26.4 -32.3 Q24.2 -33.8 21.7 -32.9 Z M18.1 -11.2 Q15.1 -11.7 13.0 -9.5 Q16.0 -9.1 18.1 -11.2 Z M55.8 -32.2 Q51.3 -33.6 47.5 -30.8 Q52.0 -29.4 55.8 -32.2 Z M29.2 -21.5 Q30.8 -17.2 35.2 -15.8 Q33.6 -20.2 29.2 -21.5 Z M37.6 -8.4 Q36.2 -4.7 38.3 -1.4 Q39.7 -5.1 37.6 -8.4 Z M62.7 -9.6 Q65.1 -7.0 68.7 -7.3 Q66.3 -10.0 62.7 -9.6 Z M41.8 -19.7 Q43.9 -18.2 46.3 -19.0 Q44.3 -20.5 41.8 -19.7 Z M39.7 -31.7 Q37.0 -30.0 36.8 -26.8 Q39.5 -28.5 39.7 -31.7 Z M33.0 -28.2 Q32.2 -24.7 34.6 -22.0 Q35.3 -25.5 33.0 -28.2 Z M57.6 -17.7 Q53.1 -19.2 49.3 -16.5 Q53.8 -15.0 57.6 -17.7 Z M52.7 -26.5 Q50.4 -26.8 48.8 -25.2 Q51.1 -24.9 52.7 -26.5 Z M52.1 -16.3 Q52.8 -13.4 55.6 -12.2 Q54.8 -15.1 52.1 -16.3 Z M49.1 -19.0 Q46.3 -16.7 46.5 -13.1 Q49.3 -15.4 49.1 -19.0 Z M54.3 -27.5 Q51.9 -28.5 49.6 -27.2 Q52.0 -26.1 54.3 -27.5 Z M60.0 -7.0 Q61.7 -5.7 63.7 -6.3 Q62.0 -7.6 60.0 -7.0 Z M19.4 -21.3 Q22.0 -18.7 25.7 -19.2 Q23.0 -21.8 19.4 -21.3 Z M40.1 -32.5 Q38.2 -31.4 38.0 -29.1 Q39.9 -30.3 40.1 -32.5 Z M39.4 -16.8 Q38.2 -14.0 39.8 -11.4 Q40.9 -14.2 39.4 -16.8 Z M22.0 -24.4 Q18.0 -24.3 15.7 -20.9 Q19.7 -21.1 22.0 -24.4 Z M12.0 -32.9 Q8.8 -30.1 9.1 -25.9 Q12.3 -28.7 12.0 -32.9 Z M51.0 -28.6 Q51.9 -25.6 54.8 -24.6 Q53.9 -27.6 51.0 -28.6 Z M58.8 -22.0 Q55.3 -23.6 52.0 -21.8 Q55.5 -20.2 58.8 -22.0 Z M29.3 -17.4 Q25.4 -18.3 22.4 -15.7 Q26.3 -14.8 29.3 -17.4 Z M34.0 -22.7 Q31.7 -22.9 30.2 -21.1 Q32.5 -21.0 34.0 -22.7 Z M10.6 -33.7 Q9.2 -30.4 10.9 -27.4 Q12.4 -30.6 10.6 -33.7 Z M44.2 -24.9 Q47.4 -22.3 51.4 -23.2 Q48.2 -25.8 44.2 -24.9 Z M17.9 -14.8 Q18.2 -12.6 20.2 -11.5 Q19.8 -13.7 17.9 -14.8 Z M48.0 -13.3 Q49.7 -11.1 52.5 -11.1 Q50.8 -13.3 48.0 -13.3 Z M25.3 -12.2 Q27.3 -10.0 30.3 -10.3 Q28.3 -12.5 25.3 -12.2 Z M53.2 -16.7 Q48.9 -17.9 45.3 -15.2 Q49.6 -14.0 53.2 -16.7 Z M59.6 -22.9 Q60.2 -18.8 63.9 -16.8 Q63.2 -20.9 59.6 -22.9 Z M29.2 -22.3 Q24.7 -22.9 21.6 -19.7 Q26.0 -19.1 29.2 -22.3 Z M20.0 -24.6 Q19.9 -21.6 22.3 -19.7 Q22.4 -22.7 20.0 -24.6 Z M30.6 -23.6 Q29.0 -21.6 29.7 -19.2 Q31.2 -21.1 30.6 -23.6 Z M55.4 -20.5 Q52.8 -17.2 53.9 -13.0 Q56.5 -16.4 55.4 -20.5 Z M14.3 -13.3 Q15.3 -9.0 19.3 -7.2 Q18.3 -11.5 14.3 -13.3 Z M8.0 -20.6 Q5.8 -17.9 6.7 -14.5 Q8.9 -17.2 8.0 -20.6 Z M61.3 -14.2 Q64.6 -11.6 68.6 -12.7 Q65.3 -15.3 61.3 -14.2 Z M37.4 -9.9 Q39.1 -8.4 41.3 -8.9 Q39.6 -10.3 37.4 -9.9 Z M51.8 -7.9 Q50.0 -6.4 50.1 -4.2 Q51.9 -5.6 51.8 -7.9 Z M12.4 -13.0 Q13.6 -9.4 17.2 -8.3 Q15.9 -11.8 12.4 -13.0 Z M21.7 -12.1 Q18.4 -11.2 17.2 -8.0 Q20.5 -8.9 21.7 -12.1 Z M32.2 -26.4 Q28.3 -23.9 27.9 -19.3 Q31.8 -21.8 32.2 -26.4 Z M38.3 -19.7 Q34.7 -18.0 34.0 -14.1 Q37.5 -15.8 38.3 -19.7 Z M63.7 -24.0 Q60.2 -21.6 59.9 -17.4 Q63.5 -19.7 63.7 -24.0 Z M61.6 -10.1 Q57.4 -10.6 54.5 -7.5 Q58.7 -7.0 61.6 -10.1 Z M66.3 -16.2 Q63.2 -14.7 62.6 -11.4 Q65.6 -12.9 66.3 -16.2 Z M52.4 -21.6 Q54.3 -19.1 57.5 -19.1 Q55.6 -21.6 52.4 -21.6 Z M48.9 -4.6 Q50.5 -2.1 53.6 -1.9 Q51.9 -4.4 48.9 -4.6 Z M21.0 -20.5 Q18.3 -21.5 16.0 -20.0 Q18.6 -19.0 21.0 -20.5 Z M10.5 -25.6 Q8.7 -24.2 8.7 -21.9 Q10.5 -23.3 10.5 -25.6 Z M53.1 -29.6 Q52.4 -27.5 53.6 -25.7 Q54.3 -27.7 53.1 -29.6 Z M39.8 -6.4 Q41.3 -4.8 43.4 -5.1 Q41.9 -6.6 39.8 -6.4 Z M18.7 -28.3 Q16.3 -27.2 15.8 -24.6 Q18.2 -25.7 18.7 -28.3 Z M40.9 -28.0 Q41.4 -25.6 43.7 -24.5 Q43.1 -27.0 40.9 -28.0 Z M16.9 -12.8 Q15.3 -10.5 16.1 -7.8 Q17.8 -10.1 16.9 -12.8 Z M58.1 -19.5 Q55.4 -19.8 53.6 -17.8 Q56.3 -17.5 58.1 -19.5 Z M64.9 -23.2 Q61.6 -24.3 58.7 -22.3 Q62.0 -21.2 64.9 -23.2 Z M37.3 -26.7 Q35.3 -27.3 33.5 -26.1 Q35.6 -25.4 37.3 -26.7 Z M55.0 -24.5 Q53.4 -21.5 54.7 -18.4 Q56.4 -21.4 55.0 -24.5 Z M20.3 -5.6 Q21.6 -2.1 25.2 -1.0 Q23.9 -4.5 20.3 -5.6 Z M8.8 -20.4 Q5.9 -19.9 4.5 -17.2 Q7.5 -17.7 8.8 -20.4 Z M47.6 -15.8 Q49.0 -13.9 51.4 -13.8 Q50.0 -15.8 47.6 -15.8 Z M25.8 -29.1 Q23.7 -25.3 25.4 -21.3 Q27.6 -25.1 25.8 -29.1 Z M45.1 -5.6 Q43.6 -3.3 44.6 -0.8 Q46.1 -3.1 45.1 -5.6 Z M16.7 -10.8 Q14.7 -10.7 13.7 -8.9 Q15.7 -9.1 16.7 -10.8 Z M56.3 -9.8 Q56.9 -7.7 58.9 -6.8 Q58.4 -9.0 56.3 -9.8 Z M49.4 -33.0 Q48.2 -29.9 50.0 -27.1 Q51.2 -30.2 49.4 -33.0 Z M62.1 -18.5 Q62.7 -14.3 66.5 -12.3 Q65.9 -16.5 62.1 -18.5 Z M50.3 -21.6 Q53.6 -18.6 58.0 -19.4 Q54.7 -22.4 50.3 -21.6 Z M56.7 -29.8 Q54.9 -26.9 56.2 -23.7 Q58.0 -26.6 56.7 -29.8 Z M14.2 -10.1 Q14.6 -7.3 17.0 -5.9 Q16.7 -8.8 14.2 -10.1 Z M12.5 -26.1 Q9.5 -24.7 8.8 -21.5 Q11.8 -22.9 12.5 -26.1 Z M27.3 -14.3 Q27.0 -12.1 28.6 -10.4 Q28.9 -12.7 27.3 -14.3 Z M35.9 -7.3 Q32.5 -4.9 32.4 -0.6 Q35.8 -3.1 35.9 -7.3 Z M4.2 -24.1 Q5.6 -20.4 9.3 -19.3 Q7.9 -23.0 4.2 -24.1 Z M42.2 -19.3 Q40.4 -20.2 38.6 -19.2 Q40.4 -18.3 42.2 -19.3 Z M52.8 -29.4 Q53.5 -25.8 56.8 -24.2 Q56.1 -27.8 52.8 -29.4 Z M27.7 -19.0 Q27.8 -16.2 30.2 -14.6 Q30.0 -17.4 27.7 -19.0 Z M28.0 -14.4 Q29.2 -12.0 31.9 -11.6 Q30.6 -14.0 28.0 -14.4 Z M51.4 -27.1 Q48.6 -23.5 49.8 -19.1 Q52.6 -22.7 51.4 -27.1 Z M46.5 -24.1 Q49.6 -21.2 53.8 -22.0 Q50.7 -24.9 46.5 -24.1 Z M16.7 -32.9 Q13.2 -31.2 12.5 -27.4 Q15.9 -29.1 16.7 -32.9 Z M18.1 -24.6 Q15.1 -21.5 15.9 -17.3 Q18.8 -20.4 18.1 -24.6 Z M9.5 -27.0 Q11.1 -25.2 13.5 -25.4 Q11.9 -27.2 9.5 -27.0 Z M29.9 -34.7 Q28.9 -30.4 31.7 -26.9 Q32.8 -31.3 29.9 -34.7 Z M40.3 -15.5 Q36.2 -15.1 34.1 -11.6 Q38.2 -12.0 40.3 -15.5 Z M26.8 -23.2 Q29.5 -21.7 32.3 -22.9 Q29.6 -24.5 26.8 -23.2 Z M33.7 -14.6 Q29.2 -13.6 27.2 -9.5 Q31.7 -10.4 33.7 -14.6 Z M45.3 -16.3 Q45.5 -14.3 47.2 -13.2 Q47.1 -15.2 45.3 -16.3 Z " fill="#8e8e8e" stroke="#6a6a6a" stroke-width="0.6"/>
<path d="M33.2 -20.2 L34.0 -12.2 M8.1 -9.2 L15.0 -8.3 M17.4 -27.6 L17.8 -23.9 M69.2 -6.2 L64.5 -0.1 M63.0 -8.7 L65.9 -6.5 M14.3 -25.9 L8.3 -20.2 M18.6 -12.9 L16.7 -9.1 M20.5 -24.6 L17.2 -17.7 M24.6 -32.7 L23.6 -28.8 M20.5 -30.5 L13.8 -26.2 M33.6 -30.1 L29.8 -29.7 M13.0 -27.6 L7.4 -24.7 M32.3 -33.2 L34.1 -29.1 M16.3 -32.5 L12.8 -31.4 M14.0 -17.7 L7.2 -15.5 M32.3 -13.1 L30.6 -5.5 M51.3 -24.8 L49.5 -17.9 M51.8 -18.9 L45.4 -17.3 M34.2 -8.5 L31.7 -4.0 M17.7 -19.8 L10.9 -16.4 M46.4 -19.4 L41.9 -16.9 M23.2 -10.0 L26.5 -8.5 M48.1 -13.8 L40.7 -12.9 M22.8 -26.1 L22.4 -19.2 M17.1 -20.3 L10.8 -18.5 M52.1 -11.0 L47.9 -5.9 M57.8 -24.5 L58.6 -20.6 M24.5 -10.3 L28.3 -8.4 M21.2 -19.1 L17.9 -15.3 M19.0 -11.6 L18.4 -3.4 M30.3 -12.1 L30.5 -5.8 M17.3 -21.1 L10.2 -18.8 M16.0 -29.1 L19.7 -23.3 M37.6 -22.5 L39.1 -17.3 M61.2 -28.0 L55.3 -24.0 M18.3 -11.9 L22.9 -10.5 M43.8 -7.1 L51.5 -4.2 M36.8 -19.0 L42.5 -16.1 M33.9 -12.6 L34.5 -7.5 M49.1 -22.0 L53.1 -19.7 M46.0 -20.3 L39.2 -15.5 M47.3 -13.5 L49.4 -6.5 M18.5 -7.6 L21.8 -1.7 M68.0 -34.7 L63.6 -29.9 M40.4 -21.8 L38.7 -13.7 M15.7 -21.1 L15.8 -16.6 M47.5 -18.1 L44.4 -14.3 M55.8 -32.2 L47.5 -30.8 M37.6 -8.4 L38.3 -1.4 M39.7 -31.7 L36.8 -26.8 M52.7 -26.5 L48.8 -25.2 M54.3 -27.5 L49.6 -27.2 M40.1 -32.5 L38.0 -29.1 M12.0 -32.9 L9.1 -25.9 M29.3 -17.4 L22.4 -15.7 M44.2 -24.9 L51.4 -23.2 M25.3 -12.2 L30.3 -10.3 M29.2 -22.3 L21.6 -19.7 M55.4 -20.5 L53.9 -13.0 M61.3 -14.2 L68.6 -12.7 M12.4 -13.0 L17.2 -8.3 M38.3 -19.7 L34.0 -14.1 M66.3 -16.2 L62.6 -11.4 M21.0 -20.5 L16.0 -20.0 M39.8 -6.4 L43.4 -5.1 M16.9 -12.8 L16.1 -7.8 M37.3 -26.7 L33.5 -26.1 M8.8 -20.4 L4.5 -17.2 M45.1 -5.6 L44.6 -0.8 M49.4 -33.0 L50.0 -27.1 M56.7 -29.8 L56.2 -23.7 M27.3 -14.3 L28.6 -10.4 M42.2 -19.3 L38.6 -19.2 M28.0 -14.4 L31.9 -11.6 M16.7 -32.9 L12.5 -27.4 M29.9 -34.7 L31.7 -26.9 M33.7 -14.6 L27.2 -9.5 " fill="none" stroke="#555" stroke-width="0.7"/>
<path d="M40 -30 L46 -6 M30 -20 L56 -14 M34 -10 L52 -26 M33 -27 L53 -8" stroke="#666" stroke-width="0.9" fill="none"/>
<circle cx="15" cy="-14" r="2.4" fill="#2a2a2a"/><circle cx="11.5" cy="-19" r="1.5" fill="#333"/><circle cx="20" cy="-11" r="1.3" fill="#444"/>
<path d="M67 -29.5 L80.5 -29.5 L80.5 -4.5 L67 -4.5 Z" fill="#8a8a8a" stroke="#222" stroke-width="0.9"/>
<path d="M67 -22 L80 -29 M67 -14 L80 -24 M68 -6 L80 -17 M72 -5 L80 -11" stroke="#2a2a2a" stroke-width="1.6" fill="none"/>
<path d="M69 -27 L78 -8 M74 -28 L80 -16" stroke="#eee" stroke-width="0.9" fill="none"/>
<path d="M73 -12 L80 -12 L80 -5 L73 -5 Z" fill="#fff" stroke="#333" stroke-width="0.6"/>
<path d="M104 -4.5 q-3 0 -2.5 -3.5 q0 -3.5 4 -3.5 l10 -0.5 q2 -1.5 4.5 0 l3 0 q3 0.5 3 4 q0 3.5 -3.5 3.5 Z" fill="#fff" stroke="#333" stroke-width="0.8"/>
<path d="M151 -4.5 q-3 0 -2.5 -4 q0 -3 3 -3 q1 -3 5 -2.5 l5 0 q3.5 0.5 3.5 4.5 q0 4.5 -3.5 5 Z" fill="#fff" stroke="#333" stroke-width="0.8"/>
<path d="M128.5 -25 L147 -25 L147 -11 L128.5 -11 Z" fill="#1e1e1e"/>
<path d="M131 -22 L136 -22 M139 -22 L145 -22 M131 -18.5 L144 -18.5 M131 -15 L138 -15 M141 -14 L145 -14" stroke="#e4e4e4" stroke-width="1.1"/>
<path d="M128 -8 l3 -3 l3 3 l3 -3 l3 3 l3 -3 l3 3 l3 -3 l3 3 M112 -2 L166 -2" stroke="#444" stroke-width="0.7" fill="none"/>
<path d="M114 -2.2 L164 -2.2" stroke="#444" stroke-width="1.6" stroke-dasharray="0.6 1.6" fill="none"/>
<path d="M181 -21 L233 -21 L233 -11.5 L181 -11.5 Z" fill="#fff" stroke="#222" stroke-width="1"/>
<path d="M183.5 -16.2 L231 -16.2" stroke="#222" stroke-width="5.4" stroke-dasharray="3 1.3"/>
<path d="M183.5 -16.2 L231 -16.2" stroke="#fff" stroke-width="1.2" stroke-dasharray="0.9 3.4" stroke-dashoffset="-1"/>
</g>
<path d="M369.0 780.7 L369.0 784.3 L378.0 788.7 L395.0 792.3 L405.0 793.0 L412.0 792.5 L419.4 790.2 L430.0 786.2 L639.4 710.6 L641.4 707.6 L640.2 705.0" fill="#fff" stroke="#1c1c1c" stroke-width="1.8" stroke-linejoin="round"/>
<path d="M375.3 771.7 L443.5 750.1 L446.4 750.4 L455.6 753.0 L458.2 753.3 L462.0 752.1 L549.2 719.5 L548.8 713.3 L549.8 710.9 L553.0 708.4 L588.0 692.8 L592.0 692.8 L599.2 695.1 L612.0 690.2 L617.6 691.0 L636.0 699.6 L639.6 702.6 L640.2 705.0 L639.2 707.2 L430.0 782.8 L419.4 786.8 L412.0 788.9 L405.0 789.4 L395.0 788.8 L378.0 785.1 L369.0 780.7 L380.6 776.1 L375.4 775.6 Z" fill="#fff" stroke="#1c1c1c" stroke-width="1.9" stroke-linejoin="round"/>
<g transform="matrix(1 -0.3624 1 0.404 399.1 794.0)">
<path d="M33.2 -20.2 Q31.6 -16.0 34.0 -12.2 Q35.6 -16.4 33.2 -20.2 Z M37.1 -17.6 Q35.9 -15.4 36.9 -13.1 Q38.1 -15.3 37.1 -17.6 Z M43.2 -10.9 Q43.6 -8.6 45.6 -7.6 Q45.2 -9.8 43.2 -10.9 Z M8.1 -9.2 Q11.3 -7.0 15.0 -8.3 Q11.8 -10.4 8.1 -9.2 Z M67.1 -7.2 Q64.3 -4.7 64.7 -0.9 Q67.5 -3.5 67.1 -7.2 Z M12.6 -33.1 Q15.3 -31.0 18.6 -32.0 Q15.9 -34.1 12.6 -33.1 Z M17.4 -27.6 Q16.7 -25.6 17.8 -23.9 Q18.5 -25.8 17.4 -27.6 Z M34.2 -10.5 Q31.5 -8.4 31.6 -5.0 Q34.2 -7.1 34.2 -10.5 Z M34.6 -15.3 Q35.4 -12.2 38.3 -10.9 Q37.6 -14.1 34.6 -15.3 Z M69.2 -6.2 Q65.3 -4.3 64.5 -0.1 Q68.4 -2.0 69.2 -6.2 Z M22.8 -26.7 Q25.0 -24.9 27.7 -25.6 Q25.5 -27.3 22.8 -26.7 Z M51.4 -24.6 Q50.9 -20.3 54.1 -17.4 Q54.5 -21.7 51.4 -24.6 Z M63.0 -8.7 Q63.9 -6.9 65.9 -6.5 Q65.0 -8.3 63.0 -8.7 Z M60.2 -22.8 Q59.6 -18.2 62.8 -15.0 Q63.5 -19.6 60.2 -22.8 Z M8.0 -16.9 Q9.1 -12.9 12.9 -11.4 Q11.8 -15.3 8.0 -16.9 Z M14.3 -25.9 Q9.9 -24.5 8.3 -20.2 Q12.7 -21.5 14.3 -25.9 Z M11.2 -26.0 Q13.0 -24.6 15.2 -25.2 Q13.4 -26.6 11.2 -26.0 Z M54.1 -30.8 Q53.1 -27.4 55.1 -24.6 Q56.2 -27.9 54.1 -30.8 Z M18.6 -12.9 Q16.7 -11.5 16.7 -9.1 Q18.6 -10.6 18.6 -12.9 Z M11.6 -22.1 Q12.2 -19.6 14.6 -18.6 Q14.0 -21.1 11.6 -22.1 Z M67.6 -9.8 Q64.8 -10.1 62.9 -8.0 Q65.7 -7.7 67.6 -9.8 Z M20.5 -24.6 Q17.1 -22.0 17.2 -17.7 Q20.6 -20.3 20.5 -24.6 Z M17.1 -28.4 Q17.4 -24.3 20.9 -22.1 Q20.6 -26.2 17.1 -28.4 Z M24.6 -32.7 Q23.1 -31.1 23.6 -28.8 Q25.1 -30.5 24.6 -32.7 Z M20.4 -17.6 Q19.5 -14.8 21.2 -12.3 Q22.2 -15.2 20.4 -17.6 Z M67.4 -19.8 Q63.9 -19.9 61.6 -17.2 Q65.2 -17.0 67.4 -19.8 Z M20.5 -30.5 Q16.1 -30.0 13.8 -26.2 Q18.2 -26.7 20.5 -30.5 Z M24.7 -28.0 Q20.9 -29.1 17.7 -26.6 Q21.6 -25.5 24.7 -28.0 Z M19.2 -8.2 Q16.1 -5.1 16.7 -0.8 Q19.8 -3.9 19.2 -8.2 Z M33.6 -30.1 Q31.6 -30.8 29.8 -29.7 Q31.8 -28.9 33.6 -30.1 Z M22.6 -13.1 Q19.9 -12.9 18.5 -10.6 Q21.2 -10.8 22.6 -13.1 Z M43.8 -25.9 Q41.5 -24.9 41.0 -22.5 Q43.2 -23.5 43.8 -25.9 Z M13.0 -27.6 Q9.5 -27.6 7.4 -24.7 Q10.9 -24.7 13.0 -27.6 Z M40.3 -27.0 Q42.3 -23.0 46.7 -22.2 Q44.7 -26.2 40.3 -27.0 Z M32.3 -33.2 Q32.2 -30.7 34.1 -29.1 Q34.2 -31.6 32.3 -33.2 Z M43.4 -29.9 Q40.5 -30.3 38.4 -28.2 Q41.4 -27.8 43.4 -29.9 Z M66.7 -16.6 Q64.1 -13.7 64.9 -10.0 Q67.5 -12.8 66.7 -16.6 Z M16.3 -32.5 Q14.3 -32.8 12.8 -31.4 Q14.8 -31.1 16.3 -32.5 Z M49.5 -5.8 Q47.9 -4.5 48.0 -2.4 Q49.6 -3.7 49.5 -5.8 Z M38.0 -11.1 Q35.4 -12.4 32.9 -11.1 Q35.4 -9.8 38.0 -11.1 Z M14.0 -17.7 Q10.0 -18.3 7.2 -15.5 Q11.1 -14.9 14.0 -17.7 Z M54.5 -12.9 Q50.5 -13.7 47.4 -10.9 Q51.5 -10.1 54.5 -12.9 Z M31.1 -14.0 Q26.7 -14.3 23.8 -10.9 Q28.2 -10.6 31.1 -14.0 Z M32.3 -13.1 Q29.6 -9.7 30.6 -5.5 Q33.3 -8.8 32.3 -13.1 Z M45.2 -24.5 Q42.6 -22.1 43.0 -18.5 Q45.6 -21.0 45.2 -24.5 Z M14.8 -15.4 Q10.1 -15.8 7.0 -12.3 Q11.7 -11.9 14.8 -15.4 Z M51.3 -24.8 Q48.7 -21.8 49.5 -17.9 Q52.1 -20.9 51.3 -24.8 Z M34.3 -9.3 Q32.2 -8.6 31.5 -6.4 Q33.6 -7.1 34.3 -9.3 Z M5.6 -16.9 Q6.8 -13.9 10.0 -13.0 Q8.8 -16.1 5.6 -16.9 Z M51.8 -18.9 Q48.2 -19.7 45.4 -17.3 Q49.0 -16.5 51.8 -18.9 Z M22.9 -34.8 Q20.5 -33.3 20.3 -30.5 Q22.7 -32.0 22.9 -34.8 Z M20.3 -31.4 Q16.6 -28.9 16.4 -24.4 Q20.1 -27.0 20.3 -31.4 Z M34.2 -8.5 Q31.8 -6.9 31.7 -4.0 Q34.1 -5.6 34.2 -8.5 Z M21.7 -21.1 Q17.6 -21.9 14.5 -19.1 Q18.6 -18.3 21.7 -21.1 Z M58.0 -24.1 Q58.4 -20.6 61.4 -18.8 Q61.0 -22.3 58.0 -24.1 Z M17.7 -19.8 Q13.4 -19.8 10.9 -16.4 Q15.2 -16.4 17.7 -19.8 Z M47.3 -5.7 Q48.8 -3.4 51.5 -3.3 Q50.0 -5.6 47.3 -5.7 Z M32.9 -27.0 Q32.4 -24.4 34.1 -22.5 Q34.6 -25.1 32.9 -27.0 Z M46.4 -19.4 Q43.6 -19.3 41.9 -16.9 Q44.8 -17.1 46.4 -19.4 Z M63.9 -19.6 Q65.8 -18.4 67.9 -19.2 Q66.0 -20.4 63.9 -19.6 Z M60.0 -35.2 Q57.5 -32.1 58.5 -28.3 Q61.0 -31.4 60.0 -35.2 Z M23.2 -10.0 Q24.5 -8.4 26.5 -8.5 Q25.2 -10.1 23.2 -10.0 Z M31.0 -34.8 Q32.5 -30.9 36.5 -29.7 Q35.0 -33.7 31.0 -34.8 Z M14.0 -34.9 Q13.0 -31.3 15.1 -28.3 Q16.2 -31.9 14.0 -34.9 Z M48.1 -13.8 Q44.2 -15.2 40.7 -12.9 Q44.7 -11.5 48.1 -13.8 Z M45.3 -28.6 Q47.0 -25.8 50.2 -25.5 Q48.5 -28.3 45.3 -28.6 Z M3.7 -20.7 Q5.7 -17.3 9.6 -17.0 Q7.6 -20.3 3.7 -20.7 Z M22.8 -26.1 Q20.9 -22.7 22.4 -19.2 Q24.3 -22.5 22.8 -26.1 Z M45.7 -12.0 Q42.6 -11.4 41.3 -8.6 Q44.3 -9.2 45.7 -12.0 Z M63.9 -33.5 Q59.7 -31.7 58.7 -27.3 Q62.8 -29.1 63.9 -33.5 Z M17.1 -20.3 Q13.5 -21.0 10.8 -18.5 Q14.4 -17.8 17.1 -20.3 Z M32.1 -18.3 Q27.8 -17.5 25.8 -13.6 Q30.2 -14.4 32.1 -18.3 Z M60.9 -21.1 Q62.6 -17.7 66.3 -17.1 Q64.6 -20.4 60.9 -21.1 Z M52.1 -11.0 Q48.7 -9.5 47.9 -5.9 Q51.3 -7.4 52.1 -11.0 Z M23.2 -6.3 Q18.9 -8.1 14.9 -5.7 Q19.2 -3.9 23.2 -6.3 Z M41.2 -10.0 Q38.4 -10.5 36.3 -8.6 Q39.1 -8.0 41.2 -10.0 Z M57.8 -24.5 Q57.2 -22.4 58.6 -20.6 Q59.2 -22.7 57.8 -24.5 Z M36.6 -10.2 Q39.4 -8.5 42.5 -9.7 Q39.7 -11.4 36.6 -10.2 Z M52.2 -33.0 Q54.4 -29.5 58.5 -29.2 Q56.3 -32.7 52.2 -33.0 Z M24.5 -10.3 Q26.0 -8.4 28.3 -8.4 Q26.9 -10.3 24.5 -10.3 Z M39.6 -14.5 Q35.9 -12.4 35.4 -8.1 Q39.1 -10.2 39.6 -14.5 Z M59.8 -19.3 Q63.1 -16.3 67.6 -17.1 Q64.2 -20.2 59.8 -19.3 Z M21.2 -19.1 Q18.6 -18.0 17.9 -15.3 Q20.4 -16.4 21.2 -19.1 Z M45.7 -21.1 Q43.1 -17.7 44.3 -13.6 Q46.8 -17.0 45.7 -21.1 Z M28.7 -22.7 Q24.4 -23.4 21.4 -20.4 Q25.6 -19.7 28.7 -22.7 Z M19.0 -11.6 Q16.6 -7.6 18.4 -3.4 Q20.8 -7.3 19.0 -11.6 Z M41.0 -30.1 Q39.4 -27.0 40.9 -23.9 Q42.5 -27.0 41.0 -30.1 Z M43.1 -36.3 Q40.9 -32.3 42.7 -28.0 Q45.0 -32.1 43.1 -36.3 Z M30.3 -12.1 Q28.9 -8.9 30.5 -5.8 Q32.0 -9.0 30.3 -12.1 Z M47.3 -34.0 Q46.7 -30.6 49.0 -28.0 Q49.6 -31.4 47.3 -34.0 Z M64.2 -7.7 Q63.2 -5.2 64.6 -2.9 Q65.6 -5.4 64.2 -7.7 Z M17.3 -21.1 Q13.2 -21.8 10.2 -18.8 Q14.3 -18.2 17.3 -21.1 Z M35.9 -25.6 Q34.0 -23.9 34.3 -21.4 Q36.1 -23.1 35.9 -25.6 Z M58.8 -29.4 Q62.3 -27.3 66.1 -28.9 Q62.6 -30.9 58.8 -29.4 Z M16.0 -29.1 Q16.4 -25.3 19.7 -23.3 Q19.3 -27.1 16.0 -29.1 Z M29.0 -15.9 Q26.9 -15.1 26.3 -12.9 Q28.4 -13.7 29.0 -15.9 Z M11.5 -19.1 Q12.8 -16.7 15.4 -16.3 Q14.2 -18.7 11.5 -19.1 Z M37.6 -22.5 Q37.1 -19.5 39.1 -17.3 Q39.7 -20.3 37.6 -22.5 Z M39.2 -30.3 Q37.2 -28.7 37.4 -26.1 Q39.3 -27.7 39.2 -30.3 Z M46.3 -20.7 Q43.1 -17.8 43.6 -13.5 Q46.8 -16.5 46.3 -20.7 Z M61.2 -28.0 Q57.3 -27.5 55.3 -24.0 Q59.3 -24.5 61.2 -28.0 Z M63.5 -24.1 Q60.8 -24.8 58.6 -22.9 Q61.4 -22.3 63.5 -24.1 Z M15.7 -4.7 Q18.5 -1.3 22.9 -1.4 Q20.1 -4.8 15.7 -4.7 Z M18.3 -11.9 Q20.2 -10.0 22.9 -10.5 Q21.0 -12.4 18.3 -11.9 Z M53.4 -21.8 Q56.0 -18.6 60.2 -18.9 Q57.5 -22.1 53.4 -21.8 Z M29.1 -13.5 Q30.0 -11.7 32.1 -11.4 Q31.1 -13.2 29.1 -13.5 Z M43.8 -7.1 Q46.9 -3.7 51.5 -4.2 Q48.4 -7.6 43.8 -7.1 Z M38.5 -12.8 Q35.6 -11.1 35.2 -7.7 Q38.1 -9.4 38.5 -12.8 Z M15.5 -31.1 Q17.4 -29.9 19.6 -30.6 Q17.6 -31.9 15.5 -31.1 Z M36.8 -19.0 Q38.9 -16.1 42.5 -16.1 Q40.4 -19.0 36.8 -19.0 Z M21.1 -27.0 Q17.2 -28.8 13.4 -26.8 Q17.3 -25.0 21.1 -27.0 Z M64.5 -30.4 Q62.4 -31.1 60.6 -29.8 Q62.7 -29.2 64.5 -30.4 Z M33.9 -12.6 Q32.9 -9.9 34.5 -7.5 Q35.5 -10.2 33.9 -12.6 Z M34.2 -20.2 Q37.4 -18.5 40.7 -20.0 Q37.5 -21.7 34.2 -20.2 Z M48.4 -9.9 Q47.7 -7.5 49.1 -5.5 Q49.9 -7.8 48.4 -9.9 Z M49.1 -22.0 Q50.5 -19.9 53.1 -19.7 Q51.7 -21.8 49.1 -22.0 Z M40.5 -34.8 Q36.1 -34.1 34.1 -30.2 Q38.4 -30.9 40.5 -34.8 Z M48.0 -10.3 Q47.4 -6.7 50.0 -4.0 Q50.6 -7.7 48.0 -10.3 Z M46.0 -20.3 Q41.4 -19.6 39.2 -15.5 Q43.8 -16.2 46.0 -20.3 Z M24.5 -8.0 Q20.6 -7.0 19.0 -3.4 Q22.9 -4.3 24.5 -8.0 Z M59.4 -22.3 Q55.0 -22.7 52.0 -19.4 Q56.4 -19.0 59.4 -22.3 Z M47.3 -13.5 Q46.6 -9.5 49.4 -6.5 Q50.1 -10.5 47.3 -13.5 Z M49.8 -33.5 Q48.8 -30.8 50.3 -28.3 Q51.4 -31.0 49.8 -33.5 Z M7.9 -25.4 Q5.1 -23.0 5.4 -19.2 Q8.2 -21.7 7.9 -25.4 Z M18.5 -7.6 Q18.7 -3.8 21.8 -1.7 Q21.6 -5.5 18.5 -7.6 Z M45.2 -18.8 Q44.8 -15.4 47.3 -13.0 Q47.7 -16.4 45.2 -18.8 Z M69.5 -16.1 Q65.8 -15.0 64.4 -11.4 Q68.2 -12.5 69.5 -16.1 Z M68.0 -34.7 Q64.6 -33.4 63.6 -29.9 Q67.0 -31.2 68.0 -34.7 Z M20.1 -22.1 Q21.1 -20.2 23.2 -19.8 Q22.2 -21.7 20.1 -22.1 Z M31.2 -30.7 Q28.6 -31.2 26.6 -29.3 Q29.3 -28.9 31.2 -30.7 Z M40.4 -21.8 Q37.5 -18.2 38.7 -13.7 Q41.6 -17.3 40.4 -21.8 Z M63.1 -14.7 Q66.3 -12.0 70.3 -13.0 Q67.1 -15.7 63.1 -14.7 Z M44.3 -10.6 Q42.2 -11.2 40.6 -9.8 Q42.7 -9.3 44.3 -10.6 Z M15.7 -21.1 Q14.7 -18.8 15.8 -16.6 Q16.9 -18.9 15.7 -21.1 Z M42.3 -35.2 Q41.3 -30.7 44.3 -27.3 Q45.3 -31.7 42.3 -35.2 Z M36.5 -17.2 Q37.1 -14.2 39.8 -13.0 Q39.2 -15.9 36.5 -17.2 Z M47.5 -18.1 Q45.0 -17.0 44.4 -14.3 Q46.9 -15.4 47.5 -18.1 Z M21.7 -32.9 Q23.9 -31.4 26.4 -32.3 Q24.2 -33.8 21.7 -32.9 Z M18.1 -11.2 Q15.1 -11.7 13.0 -9.5 Q16.0 -9.1 18.1 -11.2 Z M55.8 -32.2 Q51.3 -33.6 47.5 -30.8 Q52.0 -29.4 55.8 -32.2 Z M29.2 -21.5 Q30.8 -17.2 35.2 -15.8 Q33.6 -20.2 29.2 -21.5 Z M37.6 -8.4 Q36.2 -4.7 38.3 -1.4 Q39.7 -5.1 37.6 -8.4 Z M62.7 -9.6 Q65.1 -7.0 68.7 -7.3 Q66.3 -10.0 62.7 -9.6 Z M41.8 -19.7 Q43.9 -18.2 46.3 -19.0 Q44.3 -20.5 41.8 -19.7 Z M39.7 -31.7 Q37.0 -30.0 36.8 -26.8 Q39.5 -28.5 39.7 -31.7 Z M33.0 -28.2 Q32.2 -24.7 34.6 -22.0 Q35.3 -25.5 33.0 -28.2 Z M57.6 -17.7 Q53.1 -19.2 49.3 -16.5 Q53.8 -15.0 57.6 -17.7 Z M52.7 -26.5 Q50.4 -26.8 48.8 -25.2 Q51.1 -24.9 52.7 -26.5 Z M52.1 -16.3 Q52.8 -13.4 55.6 -12.2 Q54.8 -15.1 52.1 -16.3 Z M49.1 -19.0 Q46.3 -16.7 46.5 -13.1 Q49.3 -15.4 49.1 -19.0 Z M54.3 -27.5 Q51.9 -28.5 49.6 -27.2 Q52.0 -26.1 54.3 -27.5 Z M60.0 -7.0 Q61.7 -5.7 63.7 -6.3 Q62.0 -7.6 60.0 -7.0 Z M19.4 -21.3 Q22.0 -18.7 25.7 -19.2 Q23.0 -21.8 19.4 -21.3 Z M40.1 -32.5 Q38.2 -31.4 38.0 -29.1 Q39.9 -30.3 40.1 -32.5 Z M39.4 -16.8 Q38.2 -14.0 39.8 -11.4 Q40.9 -14.2 39.4 -16.8 Z M22.0 -24.4 Q18.0 -24.3 15.7 -20.9 Q19.7 -21.1 22.0 -24.4 Z M12.0 -32.9 Q8.8 -30.1 9.1 -25.9 Q12.3 -28.7 12.0 -32.9 Z M51.0 -28.6 Q51.9 -25.6 54.8 -24.6 Q53.9 -27.6 51.0 -28.6 Z M58.8 -22.0 Q55.3 -23.6 52.0 -21.8 Q55.5 -20.2 58.8 -22.0 Z M29.3 -17.4 Q25.4 -18.3 22.4 -15.7 Q26.3 -14.8 29.3 -17.4 Z M34.0 -22.7 Q31.7 -22.9 30.2 -21.1 Q32.5 -21.0 34.0 -22.7 Z M10.6 -33.7 Q9.2 -30.4 10.9 -27.4 Q12.4 -30.6 10.6 -33.7 Z M44.2 -24.9 Q47.4 -22.3 51.4 -23.2 Q48.2 -25.8 44.2 -24.9 Z M17.9 -14.8 Q18.2 -12.6 20.2 -11.5 Q19.8 -13.7 17.9 -14.8 Z M48.0 -13.3 Q49.7 -11.1 52.5 -11.1 Q50.8 -13.3 48.0 -13.3 Z M25.3 -12.2 Q27.3 -10.0 30.3 -10.3 Q28.3 -12.5 25.3 -12.2 Z M53.2 -16.7 Q48.9 -17.9 45.3 -15.2 Q49.6 -14.0 53.2 -16.7 Z M59.6 -22.9 Q60.2 -18.8 63.9 -16.8 Q63.2 -20.9 59.6 -22.9 Z M29.2 -22.3 Q24.7 -22.9 21.6 -19.7 Q26.0 -19.1 29.2 -22.3 Z M20.0 -24.6 Q19.9 -21.6 22.3 -19.7 Q22.4 -22.7 20.0 -24.6 Z M30.6 -23.6 Q29.0 -21.6 29.7 -19.2 Q31.2 -21.1 30.6 -23.6 Z M55.4 -20.5 Q52.8 -17.2 53.9 -13.0 Q56.5 -16.4 55.4 -20.5 Z M14.3 -13.3 Q15.3 -9.0 19.3 -7.2 Q18.3 -11.5 14.3 -13.3 Z M8.0 -20.6 Q5.8 -17.9 6.7 -14.5 Q8.9 -17.2 8.0 -20.6 Z M61.3 -14.2 Q64.6 -11.6 68.6 -12.7 Q65.3 -15.3 61.3 -14.2 Z M37.4 -9.9 Q39.1 -8.4 41.3 -8.9 Q39.6 -10.3 37.4 -9.9 Z M51.8 -7.9 Q50.0 -6.4 50.1 -4.2 Q51.9 -5.6 51.8 -7.9 Z M12.4 -13.0 Q13.6 -9.4 17.2 -8.3 Q15.9 -11.8 12.4 -13.0 Z M21.7 -12.1 Q18.4 -11.2 17.2 -8.0 Q20.5 -8.9 21.7 -12.1 Z M32.2 -26.4 Q28.3 -23.9 27.9 -19.3 Q31.8 -21.8 32.2 -26.4 Z M38.3 -19.7 Q34.7 -18.0 34.0 -14.1 Q37.5 -15.8 38.3 -19.7 Z M63.7 -24.0 Q60.2 -21.6 59.9 -17.4 Q63.5 -19.7 63.7 -24.0 Z M61.6 -10.1 Q57.4 -10.6 54.5 -7.5 Q58.7 -7.0 61.6 -10.1 Z M66.3 -16.2 Q63.2 -14.7 62.6 -11.4 Q65.6 -12.9 66.3 -16.2 Z M52.4 -21.6 Q54.3 -19.1 57.5 -19.1 Q55.6 -21.6 52.4 -21.6 Z M48.9 -4.6 Q50.5 -2.1 53.6 -1.9 Q51.9 -4.4 48.9 -4.6 Z M21.0 -20.5 Q18.3 -21.5 16.0 -20.0 Q18.6 -19.0 21.0 -20.5 Z M10.5 -25.6 Q8.7 -24.2 8.7 -21.9 Q10.5 -23.3 10.5 -25.6 Z M53.1 -29.6 Q52.4 -27.5 53.6 -25.7 Q54.3 -27.7 53.1 -29.6 Z M39.8 -6.4 Q41.3 -4.8 43.4 -5.1 Q41.9 -6.6 39.8 -6.4 Z M18.7 -28.3 Q16.3 -27.2 15.8 -24.6 Q18.2 -25.7 18.7 -28.3 Z M40.9 -28.0 Q41.4 -25.6 43.7 -24.5 Q43.1 -27.0 40.9 -28.0 Z M16.9 -12.8 Q15.3 -10.5 16.1 -7.8 Q17.8 -10.1 16.9 -12.8 Z M58.1 -19.5 Q55.4 -19.8 53.6 -17.8 Q56.3 -17.5 58.1 -19.5 Z M64.9 -23.2 Q61.6 -24.3 58.7 -22.3 Q62.0 -21.2 64.9 -23.2 Z M37.3 -26.7 Q35.3 -27.3 33.5 -26.1 Q35.6 -25.4 37.3 -26.7 Z M55.0 -24.5 Q53.4 -21.5 54.7 -18.4 Q56.4 -21.4 55.0 -24.5 Z M20.3 -5.6 Q21.6 -2.1 25.2 -1.0 Q23.9 -4.5 20.3 -5.6 Z M8.8 -20.4 Q5.9 -19.9 4.5 -17.2 Q7.5 -17.7 8.8 -20.4 Z M47.6 -15.8 Q49.0 -13.9 51.4 -13.8 Q50.0 -15.8 47.6 -15.8 Z M25.8 -29.1 Q23.7 -25.3 25.4 -21.3 Q27.6 -25.1 25.8 -29.1 Z M45.1 -5.6 Q43.6 -3.3 44.6 -0.8 Q46.1 -3.1 45.1 -5.6 Z M16.7 -10.8 Q14.7 -10.7 13.7 -8.9 Q15.7 -9.1 16.7 -10.8 Z M56.3 -9.8 Q56.9 -7.7 58.9 -6.8 Q58.4 -9.0 56.3 -9.8 Z M49.4 -33.0 Q48.2 -29.9 50.0 -27.1 Q51.2 -30.2 49.4 -33.0 Z M62.1 -18.5 Q62.7 -14.3 66.5 -12.3 Q65.9 -16.5 62.1 -18.5 Z M50.3 -21.6 Q53.6 -18.6 58.0 -19.4 Q54.7 -22.4 50.3 -21.6 Z M56.7 -29.8 Q54.9 -26.9 56.2 -23.7 Q58.0 -26.6 56.7 -29.8 Z M14.2 -10.1 Q14.6 -7.3 17.0 -5.9 Q16.7 -8.8 14.2 -10.1 Z M12.5 -26.1 Q9.5 -24.7 8.8 -21.5 Q11.8 -22.9 12.5 -26.1 Z M27.3 -14.3 Q27.0 -12.1 28.6 -10.4 Q28.9 -12.7 27.3 -14.3 Z M35.9 -7.3 Q32.5 -4.9 32.4 -0.6 Q35.8 -3.1 35.9 -7.3 Z M4.2 -24.1 Q5.6 -20.4 9.3 -19.3 Q7.9 -23.0 4.2 -24.1 Z M42.2 -19.3 Q40.4 -20.2 38.6 -19.2 Q40.4 -18.3 42.2 -19.3 Z M52.8 -29.4 Q53.5 -25.8 56.8 -24.2 Q56.1 -27.8 52.8 -29.4 Z M27.7 -19.0 Q27.8 -16.2 30.2 -14.6 Q30.0 -17.4 27.7 -19.0 Z M28.0 -14.4 Q29.2 -12.0 31.9 -11.6 Q30.6 -14.0 28.0 -14.4 Z M51.4 -27.1 Q48.6 -23.5 49.8 -19.1 Q52.6 -22.7 51.4 -27.1 Z M46.5 -24.1 Q49.6 -21.2 53.8 -22.0 Q50.7 -24.9 46.5 -24.1 Z M16.7 -32.9 Q13.2 -31.2 12.5 -27.4 Q15.9 -29.1 16.7 -32.9 Z M18.1 -24.6 Q15.1 -21.5 15.9 -17.3 Q18.8 -20.4 18.1 -24.6 Z M9.5 -27.0 Q11.1 -25.2 13.5 -25.4 Q11.9 -27.2 9.5 -27.0 Z M29.9 -34.7 Q28.9 -30.4 31.7 -26.9 Q32.8 -31.3 29.9 -34.7 Z M40.3 -15.5 Q36.2 -15.1 34.1 -11.6 Q38.2 -12.0 40.3 -15.5 Z M26.8 -23.2 Q29.5 -21.7 32.3 -22.9 Q29.6 -24.5 26.8 -23.2 Z M33.7 -14.6 Q29.2 -13.6 27.2 -9.5 Q31.7 -10.4 33.7 -14.6 Z M45.3 -16.3 Q45.5 -14.3 47.2 -13.2 Q47.1 -15.2 45.3 -16.3 Z " fill="#8e8e8e" stroke="#6a6a6a" stroke-width="0.6"/>
<path d="M33.2 -20.2 L34.0 -12.2 M8.1 -9.2 L15.0 -8.3 M17.4 -27.6 L17.8 -23.9 M69.2 -6.2 L64.5 -0.1 M63.0 -8.7 L65.9 -6.5 M14.3 -25.9 L8.3 -20.2 M18.6 -12.9 L16.7 -9.1 M20.5 -24.6 L17.2 -17.7 M24.6 -32.7 L23.6 -28.8 M20.5 -30.5 L13.8 -26.2 M33.6 -30.1 L29.8 -29.7 M13.0 -27.6 L7.4 -24.7 M32.3 -33.2 L34.1 -29.1 M16.3 -32.5 L12.8 -31.4 M14.0 -17.7 L7.2 -15.5 M32.3 -13.1 L30.6 -5.5 M51.3 -24.8 L49.5 -17.9 M51.8 -18.9 L45.4 -17.3 M34.2 -8.5 L31.7 -4.0 M17.7 -19.8 L10.9 -16.4 M46.4 -19.4 L41.9 -16.9 M23.2 -10.0 L26.5 -8.5 M48.1 -13.8 L40.7 -12.9 M22.8 -26.1 L22.4 -19.2 M17.1 -20.3 L10.8 -18.5 M52.1 -11.0 L47.9 -5.9 M57.8 -24.5 L58.6 -20.6 M24.5 -10.3 L28.3 -8.4 M21.2 -19.1 L17.9 -15.3 M19.0 -11.6 L18.4 -3.4 M30.3 -12.1 L30.5 -5.8 M17.3 -21.1 L10.2 -18.8 M16.0 -29.1 L19.7 -23.3 M37.6 -22.5 L39.1 -17.3 M61.2 -28.0 L55.3 -24.0 M18.3 -11.9 L22.9 -10.5 M43.8 -7.1 L51.5 -4.2 M36.8 -19.0 L42.5 -16.1 M33.9 -12.6 L34.5 -7.5 M49.1 -22.0 L53.1 -19.7 M46.0 -20.3 L39.2 -15.5 M47.3 -13.5 L49.4 -6.5 M18.5 -7.6 L21.8 -1.7 M68.0 -34.7 L63.6 -29.9 M40.4 -21.8 L38.7 -13.7 M15.7 -21.1 L15.8 -16.6 M47.5 -18.1 L44.4 -14.3 M55.8 -32.2 L47.5 -30.8 M37.6 -8.4 L38.3 -1.4 M39.7 -31.7 L36.8 -26.8 M52.7 -26.5 L48.8 -25.2 M54.3 -27.5 L49.6 -27.2 M40.1 -32.5 L38.0 -29.1 M12.0 -32.9 L9.1 -25.9 M29.3 -17.4 L22.4 -15.7 M44.2 -24.9 L51.4 -23.2 M25.3 -12.2 L30.3 -10.3 M29.2 -22.3 L21.6 -19.7 M55.4 -20.5 L53.9 -13.0 M61.3 -14.2 L68.6 -12.7 M12.4 -13.0 L17.2 -8.3 M38.3 -19.7 L34.0 -14.1 M66.3 -16.2 L62.6 -11.4 M21.0 -20.5 L16.0 -20.0 M39.8 -6.4 L43.4 -5.1 M16.9 -12.8 L16.1 -7.8 M37.3 -26.7 L33.5 -26.1 M8.8 -20.4 L4.5 -17.2 M45.1 -5.6 L44.6 -0.8 M49.4 -33.0 L50.0 -27.1 M56.7 -29.8 L56.2 -23.7 M27.3 -14.3 L28.6 -10.4 M42.2 -19.3 L38.6 -19.2 M28.0 -14.4 L31.9 -11.6 M16.7 -32.9 L12.5 -27.4 M29.9 -34.7 L31.7 -26.9 M33.7 -14.6 L27.2 -9.5 " fill="none" stroke="#555" stroke-width="0.7"/>
<path d="M40 -30 L46 -6 M30 -20 L56 -14 M34 -10 L52 -26 M33 -27 L53 -8" stroke="#666" stroke-width="0.9" fill="none"/>
<circle cx="15" cy="-14" r="2.4" fill="#2a2a2a"/><circle cx="11.5" cy="-19" r="1.5" fill="#333"/><circle cx="20" cy="-11" r="1.3" fill="#444"/>
<path d="M67 -29.5 L80.5 -29.5 L80.5 -4.5 L67 -4.5 Z" fill="#8a8a8a" stroke="#222" stroke-width="0.9"/>
<path d="M67 -22 L80 -29 M67 -14 L80 -24 M68 -6 L80 -17 M72 -5 L80 -11" stroke="#2a2a2a" stroke-width="1.6" fill="none"/>
<path d="M69 -27 L78 -8 M74 -28 L80 -16" stroke="#eee" stroke-width="0.9" fill="none"/>
<path d="M73 -12 L80 -12 L80 -5 L73 -5 Z" fill="#fff" stroke="#333" stroke-width="0.6"/>
<path d="M104 -4.5 q-3 0 -2.5 -3.5 q0 -3.5 4 -3.5 l10 -0.5 q2 -1.5 4.5 0 l3 0 q3 0.5 3 4 q0 3.5 -3.5 3.5 Z" fill="#fff" stroke="#333" stroke-width="0.8"/>
<path d="M151 -4.5 q-3 0 -2.5 -4 q0 -3 3 -3 q1 -3 5 -2.5 l5 0 q3.5 0.5 3.5 4.5 q0 4.5 -3.5 5 Z" fill="#fff" stroke="#333" stroke-width="0.8"/>
<path d="M128.5 -25 L147 -25 L147 -11 L128.5 -11 Z" fill="#1e1e1e"/>
<path d="M131 -22 L136 -22 M139 -22 L145 -22 M131 -18.5 L144 -18.5 M131 -15 L138 -15 M141 -14 L145 -14" stroke="#e4e4e4" stroke-width="1.1"/>
<path d="M128 -8 l3 -3 l3 3 l3 -3 l3 3 l3 -3 l3 3 l3 -3 l3 3 M112 -2 L166 -2" stroke="#444" stroke-width="0.7" fill="none"/>
<path d="M114 -2.2 L164 -2.2" stroke="#444" stroke-width="1.6" stroke-dasharray="0.6 1.6" fill="none"/>
<path d="M205 -26 L223 -26 L223 -13 L205 -13 Z" fill="#fff" stroke="#222" stroke-width="1.1"/>
<path d="M208 -16.5 L221 -16.5" stroke="#222" stroke-width="5" stroke-dasharray="1.3 1.1"/>
<path d="M228 -7 L244 -7" stroke="#777" stroke-width="0.7"/>
</g>
<path d="M369.0 822.7 L369.0 826.3 L378.0 830.7 L395.0 834.1 L405.0 834.8 L412.0 834.2 L419.4 831.9 L430.0 827.7 L639.4 750.6 L641.4 747.6 L640.2 745.0" fill="#fff" stroke="#1c1c1c" stroke-width="1.8" stroke-linejoin="round"/>
<path d="M375.3 813.6 L443.5 791.5 L446.4 791.9 L455.6 794.3 L458.2 794.7 L462.0 793.4 L549.2 760.1 L548.8 754.0 L549.8 751.5 L553.0 749.1 L588.0 733.2 L592.0 733.1 L599.2 735.4 L612.0 730.4 L617.6 731.1 L636.0 739.7 L639.6 742.6 L640.2 745.0 L639.2 747.2 L430.0 824.3 L419.4 828.5 L412.0 830.6 L405.0 831.2 L395.0 830.6 L378.0 827.1 L369.0 822.7 L380.6 818.0 L375.4 817.5 Z" fill="#fff" stroke="#1c1c1c" stroke-width="1.9" stroke-linejoin="round"/>
<g transform="matrix(1 -0.3698 1 0.404 399.1 835.8)">
<path d="M33.2 -20.2 Q31.6 -16.0 34.0 -12.2 Q35.6 -16.4 33.2 -20.2 Z M37.1 -17.6 Q35.9 -15.4 36.9 -13.1 Q38.1 -15.3 37.1 -17.6 Z M43.2 -10.9 Q43.6 -8.6 45.6 -7.6 Q45.2 -9.8 43.2 -10.9 Z M8.1 -9.2 Q11.3 -7.0 15.0 -8.3 Q11.8 -10.4 8.1 -9.2 Z M67.1 -7.2 Q64.3 -4.7 64.7 -0.9 Q67.5 -3.5 67.1 -7.2 Z M12.6 -33.1 Q15.3 -31.0 18.6 -32.0 Q15.9 -34.1 12.6 -33.1 Z M17.4 -27.6 Q16.7 -25.6 17.8 -23.9 Q18.5 -25.8 17.4 -27.6 Z M34.2 -10.5 Q31.5 -8.4 31.6 -5.0 Q34.2 -7.1 34.2 -10.5 Z M34.6 -15.3 Q35.4 -12.2 38.3 -10.9 Q37.6 -14.1 34.6 -15.3 Z M69.2 -6.2 Q65.3 -4.3 64.5 -0.1 Q68.4 -2.0 69.2 -6.2 Z M22.8 -26.7 Q25.0 -24.9 27.7 -25.6 Q25.5 -27.3 22.8 -26.7 Z M51.4 -24.6 Q50.9 -20.3 54.1 -17.4 Q54.5 -21.7 51.4 -24.6 Z M63.0 -8.7 Q63.9 -6.9 65.9 -6.5 Q65.0 -8.3 63.0 -8.7 Z M60.2 -22.8 Q59.6 -18.2 62.8 -15.0 Q63.5 -19.6 60.2 -22.8 Z M8.0 -16.9 Q9.1 -12.9 12.9 -11.4 Q11.8 -15.3 8.0 -16.9 Z M14.3 -25.9 Q9.9 -24.5 8.3 -20.2 Q12.7 -21.5 14.3 -25.9 Z M11.2 -26.0 Q13.0 -24.6 15.2 -25.2 Q13.4 -26.6 11.2 -26.0 Z M54.1 -30.8 Q53.1 -27.4 55.1 -24.6 Q56.2 -27.9 54.1 -30.8 Z M18.6 -12.9 Q16.7 -11.5 16.7 -9.1 Q18.6 -10.6 18.6 -12.9 Z M11.6 -22.1 Q12.2 -19.6 14.6 -18.6 Q14.0 -21.1 11.6 -22.1 Z M67.6 -9.8 Q64.8 -10.1 62.9 -8.0 Q65.7 -7.7 67.6 -9.8 Z M20.5 -24.6 Q17.1 -22.0 17.2 -17.7 Q20.6 -20.3 20.5 -24.6 Z M17.1 -28.4 Q17.4 -24.3 20.9 -22.1 Q20.6 -26.2 17.1 -28.4 Z M24.6 -32.7 Q23.1 -31.1 23.6 -28.8 Q25.1 -30.5 24.6 -32.7 Z M20.4 -17.6 Q19.5 -14.8 21.2 -12.3 Q22.2 -15.2 20.4 -17.6 Z M67.4 -19.8 Q63.9 -19.9 61.6 -17.2 Q65.2 -17.0 67.4 -19.8 Z M20.5 -30.5 Q16.1 -30.0 13.8 -26.2 Q18.2 -26.7 20.5 -30.5 Z M24.7 -28.0 Q20.9 -29.1 17.7 -26.6 Q21.6 -25.5 24.7 -28.0 Z M19.2 -8.2 Q16.1 -5.1 16.7 -0.8 Q19.8 -3.9 19.2 -8.2 Z M33.6 -30.1 Q31.6 -30.8 29.8 -29.7 Q31.8 -28.9 33.6 -30.1 Z M22.6 -13.1 Q19.9 -12.9 18.5 -10.6 Q21.2 -10.8 22.6 -13.1 Z M43.8 -25.9 Q41.5 -24.9 41.0 -22.5 Q43.2 -23.5 43.8 -25.9 Z M13.0 -27.6 Q9.5 -27.6 7.4 -24.7 Q10.9 -24.7 13.0 -27.6 Z M40.3 -27.0 Q42.3 -23.0 46.7 -22.2 Q44.7 -26.2 40.3 -27.0 Z M32.3 -33.2 Q32.2 -30.7 34.1 -29.1 Q34.2 -31.6 32.3 -33.2 Z M43.4 -29.9 Q40.5 -30.3 38.4 -28.2 Q41.4 -27.8 43.4 -29.9 Z M66.7 -16.6 Q64.1 -13.7 64.9 -10.0 Q67.5 -12.8 66.7 -16.6 Z M16.3 -32.5 Q14.3 -32.8 12.8 -31.4 Q14.8 -31.1 16.3 -32.5 Z M49.5 -5.8 Q47.9 -4.5 48.0 -2.4 Q49.6 -3.7 49.5 -5.8 Z M38.0 -11.1 Q35.4 -12.4 32.9 -11.1 Q35.4 -9.8 38.0 -11.1 Z M14.0 -17.7 Q10.0 -18.3 7.2 -15.5 Q11.1 -14.9 14.0 -17.7 Z M54.5 -12.9 Q50.5 -13.7 47.4 -10.9 Q51.5 -10.1 54.5 -12.9 Z M31.1 -14.0 Q26.7 -14.3 23.8 -10.9 Q28.2 -10.6 31.1 -14.0 Z M32.3 -13.1 Q29.6 -9.7 30.6 -5.5 Q33.3 -8.8 32.3 -13.1 Z M45.2 -24.5 Q42.6 -22.1 43.0 -18.5 Q45.6 -21.0 45.2 -24.5 Z M14.8 -15.4 Q10.1 -15.8 7.0 -12.3 Q11.7 -11.9 14.8 -15.4 Z M51.3 -24.8 Q48.7 -21.8 49.5 -17.9 Q52.1 -20.9 51.3 -24.8 Z M34.3 -9.3 Q32.2 -8.6 31.5 -6.4 Q33.6 -7.1 34.3 -9.3 Z M5.6 -16.9 Q6.8 -13.9 10.0 -13.0 Q8.8 -16.1 5.6 -16.9 Z M51.8 -18.9 Q48.2 -19.7 45.4 -17.3 Q49.0 -16.5 51.8 -18.9 Z M22.9 -34.8 Q20.5 -33.3 20.3 -30.5 Q22.7 -32.0 22.9 -34.8 Z M20.3 -31.4 Q16.6 -28.9 16.4 -24.4 Q20.1 -27.0 20.3 -31.4 Z M34.2 -8.5 Q31.8 -6.9 31.7 -4.0 Q34.1 -5.6 34.2 -8.5 Z M21.7 -21.1 Q17.6 -21.9 14.5 -19.1 Q18.6 -18.3 21.7 -21.1 Z M58.0 -24.1 Q58.4 -20.6 61.4 -18.8 Q61.0 -22.3 58.0 -24.1 Z M17.7 -19.8 Q13.4 -19.8 10.9 -16.4 Q15.2 -16.4 17.7 -19.8 Z M47.3 -5.7 Q48.8 -3.4 51.5 -3.3 Q50.0 -5.6 47.3 -5.7 Z M32.9 -27.0 Q32.4 -24.4 34.1 -22.5 Q34.6 -25.1 32.9 -27.0 Z M46.4 -19.4 Q43.6 -19.3 41.9 -16.9 Q44.8 -17.1 46.4 -19.4 Z M63.9 -19.6 Q65.8 -18.4 67.9 -19.2 Q66.0 -20.4 63.9 -19.6 Z M60.0 -35.2 Q57.5 -32.1 58.5 -28.3 Q61.0 -31.4 60.0 -35.2 Z M23.2 -10.0 Q24.5 -8.4 26.5 -8.5 Q25.2 -10.1 23.2 -10.0 Z M31.0 -34.8 Q32.5 -30.9 36.5 -29.7 Q35.0 -33.7 31.0 -34.8 Z M14.0 -34.9 Q13.0 -31.3 15.1 -28.3 Q16.2 -31.9 14.0 -34.9 Z M48.1 -13.8 Q44.2 -15.2 40.7 -12.9 Q44.7 -11.5 48.1 -13.8 Z M45.3 -28.6 Q47.0 -25.8 50.2 -25.5 Q48.5 -28.3 45.3 -28.6 Z M3.7 -20.7 Q5.7 -17.3 9.6 -17.0 Q7.6 -20.3 3.7 -20.7 Z M22.8 -26.1 Q20.9 -22.7 22.4 -19.2 Q24.3 -22.5 22.8 -26.1 Z M45.7 -12.0 Q42.6 -11.4 41.3 -8.6 Q44.3 -9.2 45.7 -12.0 Z M63.9 -33.5 Q59.7 -31.7 58.7 -27.3 Q62.8 -29.1 63.9 -33.5 Z M17.1 -20.3 Q13.5 -21.0 10.8 -18.5 Q14.4 -17.8 17.1 -20.3 Z M32.1 -18.3 Q27.8 -17.5 25.8 -13.6 Q30.2 -14.4 32.1 -18.3 Z M60.9 -21.1 Q62.6 -17.7 66.3 -17.1 Q64.6 -20.4 60.9 -21.1 Z M52.1 -11.0 Q48.7 -9.5 47.9 -5.9 Q51.3 -7.4 52.1 -11.0 Z M23.2 -6.3 Q18.9 -8.1 14.9 -5.7 Q19.2 -3.9 23.2 -6.3 Z M41.2 -10.0 Q38.4 -10.5 36.3 -8.6 Q39.1 -8.0 41.2 -10.0 Z M57.8 -24.5 Q57.2 -22.4 58.6 -20.6 Q59.2 -22.7 57.8 -24.5 Z M36.6 -10.2 Q39.4 -8.5 42.5 -9.7 Q39.7 -11.4 36.6 -10.2 Z M52.2 -33.0 Q54.4 -29.5 58.5 -29.2 Q56.3 -32.7 52.2 -33.0 Z M24.5 -10.3 Q26.0 -8.4 28.3 -8.4 Q26.9 -10.3 24.5 -10.3 Z M39.6 -14.5 Q35.9 -12.4 35.4 -8.1 Q39.1 -10.2 39.6 -14.5 Z M59.8 -19.3 Q63.1 -16.3 67.6 -17.1 Q64.2 -20.2 59.8 -19.3 Z M21.2 -19.1 Q18.6 -18.0 17.9 -15.3 Q20.4 -16.4 21.2 -19.1 Z M45.7 -21.1 Q43.1 -17.7 44.3 -13.6 Q46.8 -17.0 45.7 -21.1 Z M28.7 -22.7 Q24.4 -23.4 21.4 -20.4 Q25.6 -19.7 28.7 -22.7 Z M19.0 -11.6 Q16.6 -7.6 18.4 -3.4 Q20.8 -7.3 19.0 -11.6 Z M41.0 -30.1 Q39.4 -27.0 40.9 -23.9 Q42.5 -27.0 41.0 -30.1 Z M43.1 -36.3 Q40.9 -32.3 42.7 -28.0 Q45.0 -32.1 43.1 -36.3 Z M30.3 -12.1 Q28.9 -8.9 30.5 -5.8 Q32.0 -9.0 30.3 -12.1 Z M47.3 -34.0 Q46.7 -30.6 49.0 -28.0 Q49.6 -31.4 47.3 -34.0 Z M64.2 -7.7 Q63.2 -5.2 64.6 -2.9 Q65.6 -5.4 64.2 -7.7 Z M17.3 -21.1 Q13.2 -21.8 10.2 -18.8 Q14.3 -18.2 17.3 -21.1 Z M35.9 -25.6 Q34.0 -23.9 34.3 -21.4 Q36.1 -23.1 35.9 -25.6 Z M58.8 -29.4 Q62.3 -27.3 66.1 -28.9 Q62.6 -30.9 58.8 -29.4 Z M16.0 -29.1 Q16.4 -25.3 19.7 -23.3 Q19.3 -27.1 16.0 -29.1 Z M29.0 -15.9 Q26.9 -15.1 26.3 -12.9 Q28.4 -13.7 29.0 -15.9 Z M11.5 -19.1 Q12.8 -16.7 15.4 -16.3 Q14.2 -18.7 11.5 -19.1 Z M37.6 -22.5 Q37.1 -19.5 39.1 -17.3 Q39.7 -20.3 37.6 -22.5 Z M39.2 -30.3 Q37.2 -28.7 37.4 -26.1 Q39.3 -27.7 39.2 -30.3 Z M46.3 -20.7 Q43.1 -17.8 43.6 -13.5 Q46.8 -16.5 46.3 -20.7 Z M61.2 -28.0 Q57.3 -27.5 55.3 -24.0 Q59.3 -24.5 61.2 -28.0 Z M63.5 -24.1 Q60.8 -24.8 58.6 -22.9 Q61.4 -22.3 63.5 -24.1 Z M15.7 -4.7 Q18.5 -1.3 22.9 -1.4 Q20.1 -4.8 15.7 -4.7 Z M18.3 -11.9 Q20.2 -10.0 22.9 -10.5 Q21.0 -12.4 18.3 -11.9 Z M53.4 -21.8 Q56.0 -18.6 60.2 -18.9 Q57.5 -22.1 53.4 -21.8 Z M29.1 -13.5 Q30.0 -11.7 32.1 -11.4 Q31.1 -13.2 29.1 -13.5 Z M43.8 -7.1 Q46.9 -3.7 51.5 -4.2 Q48.4 -7.6 43.8 -7.1 Z M38.5 -12.8 Q35.6 -11.1 35.2 -7.7 Q38.1 -9.4 38.5 -12.8 Z M15.5 -31.1 Q17.4 -29.9 19.6 -30.6 Q17.6 -31.9 15.5 -31.1 Z M36.8 -19.0 Q38.9 -16.1 42.5 -16.1 Q40.4 -19.0 36.8 -19.0 Z M21.1 -27.0 Q17.2 -28.8 13.4 -26.8 Q17.3 -25.0 21.1 -27.0 Z M64.5 -30.4 Q62.4 -31.1 60.6 -29.8 Q62.7 -29.2 64.5 -30.4 Z M33.9 -12.6 Q32.9 -9.9 34.5 -7.5 Q35.5 -10.2 33.9 -12.6 Z M34.2 -20.2 Q37.4 -18.5 40.7 -20.0 Q37.5 -21.7 34.2 -20.2 Z M48.4 -9.9 Q47.7 -7.5 49.1 -5.5 Q49.9 -7.8 48.4 -9.9 Z M49.1 -22.0 Q50.5 -19.9 53.1 -19.7 Q51.7 -21.8 49.1 -22.0 Z M40.5 -34.8 Q36.1 -34.1 34.1 -30.2 Q38.4 -30.9 40.5 -34.8 Z M48.0 -10.3 Q47.4 -6.7 50.0 -4.0 Q50.6 -7.7 48.0 -10.3 Z M46.0 -20.3 Q41.4 -19.6 39.2 -15.5 Q43.8 -16.2 46.0 -20.3 Z M24.5 -8.0 Q20.6 -7.0 19.0 -3.4 Q22.9 -4.3 24.5 -8.0 Z M59.4 -22.3 Q55.0 -22.7 52.0 -19.4 Q56.4 -19.0 59.4 -22.3 Z M47.3 -13.5 Q46.6 -9.5 49.4 -6.5 Q50.1 -10.5 47.3 -13.5 Z M49.8 -33.5 Q48.8 -30.8 50.3 -28.3 Q51.4 -31.0 49.8 -33.5 Z M7.9 -25.4 Q5.1 -23.0 5.4 -19.2 Q8.2 -21.7 7.9 -25.4 Z M18.5 -7.6 Q18.7 -3.8 21.8 -1.7 Q21.6 -5.5 18.5 -7.6 Z M45.2 -18.8 Q44.8 -15.4 47.3 -13.0 Q47.7 -16.4 45.2 -18.8 Z M69.5 -16.1 Q65.8 -15.0 64.4 -11.4 Q68.2 -12.5 69.5 -16.1 Z M68.0 -34.7 Q64.6 -33.4 63.6 -29.9 Q67.0 -31.2 68.0 -34.7 Z M20.1 -22.1 Q21.1 -20.2 23.2 -19.8 Q22.2 -21.7 20.1 -22.1 Z M31.2 -30.7 Q28.6 -31.2 26.6 -29.3 Q29.3 -28.9 31.2 -30.7 Z M40.4 -21.8 Q37.5 -18.2 38.7 -13.7 Q41.6 -17.3 40.4 -21.8 Z M63.1 -14.7 Q66.3 -12.0 70.3 -13.0 Q67.1 -15.7 63.1 -14.7 Z M44.3 -10.6 Q42.2 -11.2 40.6 -9.8 Q42.7 -9.3 44.3 -10.6 Z M15.7 -21.1 Q14.7 -18.8 15.8 -16.6 Q16.9 -18.9 15.7 -21.1 Z M42.3 -35.2 Q41.3 -30.7 44.3 -27.3 Q45.3 -31.7 42.3 -35.2 Z M36.5 -17.2 Q37.1 -14.2 39.8 -13.0 Q39.2 -15.9 36.5 -17.2 Z M47.5 -18.1 Q45.0 -17.0 44.4 -14.3 Q46.9 -15.4 47.5 -18.1 Z M21.7 -32.9 Q23.9 -31.4 26.4 -32.3 Q24.2 -33.8 21.7 -32.9 Z M18.1 -11.2 Q15.1 -11.7 13.0 -9.5 Q16.0 -9.1 18.1 -11.2 Z M55.8 -32.2 Q51.3 -33.6 47.5 -30.8 Q52.0 -29.4 55.8 -32.2 Z M29.2 -21.5 Q30.8 -17.2 35.2 -15.8 Q33.6 -20.2 29.2 -21.5 Z M37.6 -8.4 Q36.2 -4.7 38.3 -1.4 Q39.7 -5.1 37.6 -8.4 Z M62.7 -9.6 Q65.1 -7.0 68.7 -7.3 Q66.3 -10.0 62.7 -9.6 Z M41.8 -19.7 Q43.9 -18.2 46.3 -19.0 Q44.3 -20.5 41.8 -19.7 Z M39.7 -31.7 Q37.0 -30.0 36.8 -26.8 Q39.5 -28.5 39.7 -31.7 Z M33.0 -28.2 Q32.2 -24.7 34.6 -22.0 Q35.3 -25.5 33.0 -28.2 Z M57.6 -17.7 Q53.1 -19.2 49.3 -16.5 Q53.8 -15.0 57.6 -17.7 Z M52.7 -26.5 Q50.4 -26.8 48.8 -25.2 Q51.1 -24.9 52.7 -26.5 Z M52.1 -16.3 Q52.8 -13.4 55.6 -12.2 Q54.8 -15.1 52.1 -16.3 Z M49.1 -19.0 Q46.3 -16.7 46.5 -13.1 Q49.3 -15.4 49.1 -19.0 Z M54.3 -27.5 Q51.9 -28.5 49.6 -27.2 Q52.0 -26.1 54.3 -27.5 Z M60.0 -7.0 Q61.7 -5.7 63.7 -6.3 Q62.0 -7.6 60.0 -7.0 Z M19.4 -21.3 Q22.0 -18.7 25.7 -19.2 Q23.0 -21.8 19.4 -21.3 Z M40.1 -32.5 Q38.2 -31.4 38.0 -29.1 Q39.9 -30.3 40.1 -32.5 Z M39.4 -16.8 Q38.2 -14.0 39.8 -11.4 Q40.9 -14.2 39.4 -16.8 Z M22.0 -24.4 Q18.0 -24.3 15.7 -20.9 Q19.7 -21.1 22.0 -24.4 Z M12.0 -32.9 Q8.8 -30.1 9.1 -25.9 Q12.3 -28.7 12.0 -32.9 Z M51.0 -28.6 Q51.9 -25.6 54.8 -24.6 Q53.9 -27.6 51.0 -28.6 Z M58.8 -22.0 Q55.3 -23.6 52.0 -21.8 Q55.5 -20.2 58.8 -22.0 Z M29.3 -17.4 Q25.4 -18.3 22.4 -15.7 Q26.3 -14.8 29.3 -17.4 Z M34.0 -22.7 Q31.7 -22.9 30.2 -21.1 Q32.5 -21.0 34.0 -22.7 Z M10.6 -33.7 Q9.2 -30.4 10.9 -27.4 Q12.4 -30.6 10.6 -33.7 Z M44.2 -24.9 Q47.4 -22.3 51.4 -23.2 Q48.2 -25.8 44.2 -24.9 Z M17.9 -14.8 Q18.2 -12.6 20.2 -11.5 Q19.8 -13.7 17.9 -14.8 Z M48.0 -13.3 Q49.7 -11.1 52.5 -11.1 Q50.8 -13.3 48.0 -13.3 Z M25.3 -12.2 Q27.3 -10.0 30.3 -10.3 Q28.3 -12.5 25.3 -12.2 Z M53.2 -16.7 Q48.9 -17.9 45.3 -15.2 Q49.6 -14.0 53.2 -16.7 Z M59.6 -22.9 Q60.2 -18.8 63.9 -16.8 Q63.2 -20.9 59.6 -22.9 Z M29.2 -22.3 Q24.7 -22.9 21.6 -19.7 Q26.0 -19.1 29.2 -22.3 Z M20.0 -24.6 Q19.9 -21.6 22.3 -19.7 Q22.4 -22.7 20.0 -24.6 Z M30.6 -23.6 Q29.0 -21.6 29.7 -19.2 Q31.2 -21.1 30.6 -23.6 Z M55.4 -20.5 Q52.8 -17.2 53.9 -13.0 Q56.5 -16.4 55.4 -20.5 Z M14.3 -13.3 Q15.3 -9.0 19.3 -7.2 Q18.3 -11.5 14.3 -13.3 Z M8.0 -20.6 Q5.8 -17.9 6.7 -14.5 Q8.9 -17.2 8.0 -20.6 Z M61.3 -14.2 Q64.6 -11.6 68.6 -12.7 Q65.3 -15.3 61.3 -14.2 Z M37.4 -9.9 Q39.1 -8.4 41.3 -8.9 Q39.6 -10.3 37.4 -9.9 Z M51.8 -7.9 Q50.0 -6.4 50.1 -4.2 Q51.9 -5.6 51.8 -7.9 Z M12.4 -13.0 Q13.6 -9.4 17.2 -8.3 Q15.9 -11.8 12.4 -13.0 Z M21.7 -12.1 Q18.4 -11.2 17.2 -8.0 Q20.5 -8.9 21.7 -12.1 Z M32.2 -26.4 Q28.3 -23.9 27.9 -19.3 Q31.8 -21.8 32.2 -26.4 Z M38.3 -19.7 Q34.7 -18.0 34.0 -14.1 Q37.5 -15.8 38.3 -19.7 Z M63.7 -24.0 Q60.2 -21.6 59.9 -17.4 Q63.5 -19.7 63.7 -24.0 Z M61.6 -10.1 Q57.4 -10.6 54.5 -7.5 Q58.7 -7.0 61.6 -10.1 Z M66.3 -16.2 Q63.2 -14.7 62.6 -11.4 Q65.6 -12.9 66.3 -16.2 Z M52.4 -21.6 Q54.3 -19.1 57.5 -19.1 Q55.6 -21.6 52.4 -21.6 Z M48.9 -4.6 Q50.5 -2.1 53.6 -1.9 Q51.9 -4.4 48.9 -4.6 Z M21.0 -20.5 Q18.3 -21.5 16.0 -20.0 Q18.6 -19.0 21.0 -20.5 Z M10.5 -25.6 Q8.7 -24.2 8.7 -21.9 Q10.5 -23.3 10.5 -25.6 Z M53.1 -29.6 Q52.4 -27.5 53.6 -25.7 Q54.3 -27.7 53.1 -29.6 Z M39.8 -6.4 Q41.3 -4.8 43.4 -5.1 Q41.9 -6.6 39.8 -6.4 Z M18.7 -28.3 Q16.3 -27.2 15.8 -24.6 Q18.2 -25.7 18.7 -28.3 Z M40.9 -28.0 Q41.4 -25.6 43.7 -24.5 Q43.1 -27.0 40.9 -28.0 Z M16.9 -12.8 Q15.3 -10.5 16.1 -7.8 Q17.8 -10.1 16.9 -12.8 Z M58.1 -19.5 Q55.4 -19.8 53.6 -17.8 Q56.3 -17.5 58.1 -19.5 Z M64.9 -23.2 Q61.6 -24.3 58.7 -22.3 Q62.0 -21.2 64.9 -23.2 Z M37.3 -26.7 Q35.3 -27.3 33.5 -26.1 Q35.6 -25.4 37.3 -26.7 Z M55.0 -24.5 Q53.4 -21.5 54.7 -18.4 Q56.4 -21.4 55.0 -24.5 Z M20.3 -5.6 Q21.6 -2.1 25.2 -1.0 Q23.9 -4.5 20.3 -5.6 Z M8.8 -20.4 Q5.9 -19.9 4.5 -17.2 Q7.5 -17.7 8.8 -20.4 Z M47.6 -15.8 Q49.0 -13.9 51.4 -13.8 Q50.0 -15.8 47.6 -15.8 Z M25.8 -29.1 Q23.7 -25.3 25.4 -21.3 Q27.6 -25.1 25.8 -29.1 Z M45.1 -5.6 Q43.6 -3.3 44.6 -0.8 Q46.1 -3.1 45.1 -5.6 Z M16.7 -10.8 Q14.7 -10.7 13.7 -8.9 Q15.7 -9.1 16.7 -10.8 Z M56.3 -9.8 Q56.9 -7.7 58.9 -6.8 Q58.4 -9.0 56.3 -9.8 Z M49.4 -33.0 Q48.2 -29.9 50.0 -27.1 Q51.2 -30.2 49.4 -33.0 Z M62.1 -18.5 Q62.7 -14.3 66.5 -12.3 Q65.9 -16.5 62.1 -18.5 Z M50.3 -21.6 Q53.6 -18.6 58.0 -19.4 Q54.7 -22.4 50.3 -21.6 Z M56.7 -29.8 Q54.9 -26.9 56.2 -23.7 Q58.0 -26.6 56.7 -29.8 Z M14.2 -10.1 Q14.6 -7.3 17.0 -5.9 Q16.7 -8.8 14.2 -10.1 Z M12.5 -26.1 Q9.5 -24.7 8.8 -21.5 Q11.8 -22.9 12.5 -26.1 Z M27.3 -14.3 Q27.0 -12.1 28.6 -10.4 Q28.9 -12.7 27.3 -14.3 Z M35.9 -7.3 Q32.5 -4.9 32.4 -0.6 Q35.8 -3.1 35.9 -7.3 Z M4.2 -24.1 Q5.6 -20.4 9.3 -19.3 Q7.9 -23.0 4.2 -24.1 Z M42.2 -19.3 Q40.4 -20.2 38.6 -19.2 Q40.4 -18.3 42.2 -19.3 Z M52.8 -29.4 Q53.5 -25.8 56.8 -24.2 Q56.1 -27.8 52.8 -29.4 Z M27.7 -19.0 Q27.8 -16.2 30.2 -14.6 Q30.0 -17.4 27.7 -19.0 Z M28.0 -14.4 Q29.2 -12.0 31.9 -11.6 Q30.6 -14.0 28.0 -14.4 Z M51.4 -27.1 Q48.6 -23.5 49.8 -19.1 Q52.6 -22.7 51.4 -27.1 Z M46.5 -24.1 Q49.6 -21.2 53.8 -22.0 Q50.7 -24.9 46.5 -24.1 Z M16.7 -32.9 Q13.2 -31.2 12.5 -27.4 Q15.9 -29.1 16.7 -32.9 Z M18.1 -24.6 Q15.1 -21.5 15.9 -17.3 Q18.8 -20.4 18.1 -24.6 Z M9.5 -27.0 Q11.1 -25.2 13.5 -25.4 Q11.9 -27.2 9.5 -27.0 Z M29.9 -34.7 Q28.9 -30.4 31.7 -26.9 Q32.8 -31.3 29.9 -34.7 Z M40.3 -15.5 Q36.2 -15.1 34.1 -11.6 Q38.2 -12.0 40.3 -15.5 Z M26.8 -23.2 Q29.5 -21.7 32.3 -22.9 Q29.6 -24.5 26.8 -23.2 Z M33.7 -14.6 Q29.2 -13.6 27.2 -9.5 Q31.7 -10.4 33.7 -14.6 Z M45.3 -16.3 Q45.5 -14.3 47.2 -13.2 Q47.1 -15.2 45.3 -16.3 Z " fill="#8e8e8e" stroke="#6a6a6a" stroke-width="0.6"/>
<path d="M33.2 -20.2 L34.0 -12.2 M8.1 -9.2 L15.0 -8.3 M17.4 -27.6 L17.8 -23.9 M69.2 -6.2 L64.5 -0.1 M63.0 -8.7 L65.9 -6.5 M14.3 -25.9 L8.3 -20.2 M18.6 -12.9 L16.7 -9.1 M20.5 -24.6 L17.2 -17.7 M24.6 -32.7 L23.6 -28.8 M20.5 -30.5 L13.8 -26.2 M33.6 -30.1 L29.8 -29.7 M13.0 -27.6 L7.4 -24.7 M32.3 -33.2 L34.1 -29.1 M16.3 -32.5 L12.8 -31.4 M14.0 -17.7 L7.2 -15.5 M32.3 -13.1 L30.6 -5.5 M51.3 -24.8 L49.5 -17.9 M51.8 -18.9 L45.4 -17.3 M34.2 -8.5 L31.7 -4.0 M17.7 -19.8 L10.9 -16.4 M46.4 -19.4 L41.9 -16.9 M23.2 -10.0 L26.5 -8.5 M48.1 -13.8 L40.7 -12.9 M22.8 -26.1 L22.4 -19.2 M17.1 -20.3 L10.8 -18.5 M52.1 -11.0 L47.9 -5.9 M57.8 -24.5 L58.6 -20.6 M24.5 -10.3 L28.3 -8.4 M21.2 -19.1 L17.9 -15.3 M19.0 -11.6 L18.4 -3.4 M30.3 -12.1 L30.5 -5.8 M17.3 -21.1 L10.2 -18.8 M16.0 -29.1 L19.7 -23.3 M37.6 -22.5 L39.1 -17.3 M61.2 -28.0 L55.3 -24.0 M18.3 -11.9 L22.9 -10.5 M43.8 -7.1 L51.5 -4.2 M36.8 -19.0 L42.5 -16.1 M33.9 -12.6 L34.5 -7.5 M49.1 -22.0 L53.1 -19.7 M46.0 -20.3 L39.2 -15.5 M47.3 -13.5 L49.4 -6.5 M18.5 -7.6 L21.8 -1.7 M68.0 -34.7 L63.6 -29.9 M40.4 -21.8 L38.7 -13.7 M15.7 -21.1 L15.8 -16.6 M47.5 -18.1 L44.4 -14.3 M55.8 -32.2 L47.5 -30.8 M37.6 -8.4 L38.3 -1.4 M39.7 -31.7 L36.8 -26.8 M52.7 -26.5 L48.8 -25.2 M54.3 -27.5 L49.6 -27.2 M40.1 -32.5 L38.0 -29.1 M12.0 -32.9 L9.1 -25.9 M29.3 -17.4 L22.4 -15.7 M44.2 -24.9 L51.4 -23.2 M25.3 -12.2 L30.3 -10.3 M29.2 -22.3 L21.6 -19.7 M55.4 -20.5 L53.9 -13.0 M61.3 -14.2 L68.6 -12.7 M12.4 -13.0 L17.2 -8.3 M38.3 -19.7 L34.0 -14.1 M66.3 -16.2 L62.6 -11.4 M21.0 -20.5 L16.0 -20.0 M39.8 -6.4 L43.4 -5.1 M16.9 -12.8 L16.1 -7.8 M37.3 -26.7 L33.5 -26.1 M8.8 -20.4 L4.5 -17.2 M45.1 -5.6 L44.6 -0.8 M49.4 -33.0 L50.0 -27.1 M56.7 -29.8 L56.2 -23.7 M27.3 -14.3 L28.6 -10.4 M42.2 -19.3 L38.6 -19.2 M28.0 -14.4 L31.9 -11.6 M16.7 -32.9 L12.5 -27.4 M29.9 -34.7 L31.7 -26.9 M33.7 -14.6 L27.2 -9.5 " fill="none" stroke="#555" stroke-width="0.7"/>
<path d="M40 -30 L46 -6 M30 -20 L56 -14 M34 -10 L52 -26 M33 -27 L53 -8" stroke="#666" stroke-width="0.9" fill="none"/>
<circle cx="15" cy="-14" r="2.4" fill="#2a2a2a"/><circle cx="11.5" cy="-19" r="1.5" fill="#333"/><circle cx="20" cy="-11" r="1.3" fill="#444"/>
<path d="M67 -29.5 L80.5 -29.5 L80.5 -4.5 L67 -4.5 Z" fill="#8a8a8a" stroke="#222" stroke-width="0.9"/>
<path d="M67 -22 L80 -29 M67 -14 L80 -24 M68 -6 L80 -17 M72 -5 L80 -11" stroke="#2a2a2a" stroke-width="1.6" fill="none"/>
<path d="M69 -27 L78 -8 M74 -28 L80 -16" stroke="#eee" stroke-width="0.9" fill="none"/>
<path d="M73 -12 L80 -12 L80 -5 L73 -5 Z" fill="#fff" stroke="#333" stroke-width="0.6"/>
<path d="M104 -4.5 q-3 0 -2.5 -3.5 q0 -3.5 4 -3.5 l10 -0.5 q2 -1.5 4.5 0 l3 0 q3 0.5 3 4 q0 3.5 -3.5 3.5 Z" fill="#fff" stroke="#333" stroke-width="0.8"/>
<path d="M151 -4.5 q-3 0 -2.5 -4 q0 -3 3 -3 q1 -3 5 -2.5 l5 0 q3.5 0.5 3.5 4.5 q0 4.5 -3.5 5 Z" fill="#fff" stroke="#333" stroke-width="0.8"/>
<path d="M128.5 -25 L147 -25 L147 -11 L128.5 -11 Z" fill="#1e1e1e"/>
<path d="M131 -22 L136 -22 M139 -22 L145 -22 M131 -18.5 L144 -18.5 M131 -15 L138 -15 M141 -14 L145 -14" stroke="#e4e4e4" stroke-width="1.1"/>
<path d="M128 -8 l3 -3 l3 3 l3 -3 l3 3 l3 -3 l3 3 l3 -3 l3 3 M112 -2 L166 -2" stroke="#444" stroke-width="0.7" fill="none"/>
<path d="M114 -2.2 L164 -2.2" stroke="#444" stroke-width="1.6" stroke-dasharray="0.6 1.6" fill="none"/>
<path d="M192 -23 L234 -23 L234 -11.5 L192 -11.5 Z" fill="#fff" stroke="#222" stroke-width="1.1"/>
<path d="M194.5 -19.6 L232 -19.6 M194.5 -14.6 L232 -14.6" stroke="#222" stroke-width="3.2" stroke-dasharray="4 1.5"/>
</g>
<path d="M369.0 864.7 L369.0 868.3 L378.0 872.6 L395.0 875.9 L405.0 876.5 L412.0 875.9 L419.4 873.5 L430.0 869.3 L639.4 790.6 L641.4 787.6 L640.2 785.0" fill="#fff" stroke="#1c1c1c" stroke-width="1.8" stroke-linejoin="round"/>
<path d="M375.3 855.6 L443.5 833.0 L446.4 833.3 L455.6 835.7 L458.2 836.0 L462.0 834.8 L549.2 800.8 L548.8 794.6 L549.8 792.2 L553.0 789.7 L588.0 773.6 L592.0 773.5 L599.2 775.7 L612.0 770.6 L617.6 771.3 L636.0 779.7 L639.6 782.6 L640.2 785.0 L639.2 787.2 L430.0 865.9 L419.4 870.1 L412.0 872.3 L405.0 872.9 L395.0 872.4 L378.0 869.0 L369.0 864.7 L380.6 860.0 L375.4 859.5 Z" fill="#fff" stroke="#1c1c1c" stroke-width="1.9" stroke-linejoin="round"/>
<g transform="matrix(1 -0.3772 1 0.404 399.1 877.6)">
<path d="M33.2 -20.2 Q31.6 -16.0 34.0 -12.2 Q35.6 -16.4 33.2 -20.2 Z M37.1 -17.6 Q35.9 -15.4 36.9 -13.1 Q38.1 -15.3 37.1 -17.6 Z M43.2 -10.9 Q43.6 -8.6 45.6 -7.6 Q45.2 -9.8 43.2 -10.9 Z M8.1 -9.2 Q11.3 -7.0 15.0 -8.3 Q11.8 -10.4 8.1 -9.2 Z M67.1 -7.2 Q64.3 -4.7 64.7 -0.9 Q67.5 -3.5 67.1 -7.2 Z M12.6 -33.1 Q15.3 -31.0 18.6 -32.0 Q15.9 -34.1 12.6 -33.1 Z M17.4 -27.6 Q16.7 -25.6 17.8 -23.9 Q18.5 -25.8 17.4 -27.6 Z M34.2 -10.5 Q31.5 -8.4 31.6 -5.0 Q34.2 -7.1 34.2 -10.5 Z M34.6 -15.3 Q35.4 -12.2 38.3 -10.9 Q37.6 -14.1 34.6 -15.3 Z M69.2 -6.2 Q65.3 -4.3 64.5 -0.1 Q68.4 -2.0 69.2 -6.2 Z M22.8 -26.7 Q25.0 -24.9 27.7 -25.6 Q25.5 -27.3 22.8 -26.7 Z M51.4 -24.6 Q50.9 -20.3 54.1 -17.4 Q54.5 -21.7 51.4 -24.6 Z M63.0 -8.7 Q63.9 -6.9 65.9 -6.5 Q65.0 -8.3 63.0 -8.7 Z M60.2 -22.8 Q59.6 -18.2 62.8 -15.0 Q63.5 -19.6 60.2 -22.8 Z M8.0 -16.9 Q9.1 -12.9 12.9 -11.4 Q11.8 -15.3 8.0 -16.9 Z M14.3 -25.9 Q9.9 -24.5 8.3 -20.2 Q12.7 -21.5 14.3 -25.9 Z M11.2 -26.0 Q13.0 -24.6 15.2 -25.2 Q13.4 -26.6 11.2 -26.0 Z M54.1 -30.8 Q53.1 -27.4 55.1 -24.6 Q56.2 -27.9 54.1 -30.8 Z M18.6 -12.9 Q16.7 -11.5 16.7 -9.1 Q18.6 -10.6 18.6 -12.9 Z M11.6 -22.1 Q12.2 -19.6 14.6 -18.6 Q14.0 -21.1 11.6 -22.1 Z M67.6 -9.8 Q64.8 -10.1 62.9 -8.0 Q65.7 -7.7 67.6 -9.8 Z M20.5 -24.6 Q17.1 -22.0 17.2 -17.7 Q20.6 -20.3 20.5 -24.6 Z M17.1 -28.4 Q17.4 -24.3 20.9 -22.1 Q20.6 -26.2 17.1 -28.4 Z M24.6 -32.7 Q23.1 -31.1 23.6 -28.8 Q25.1 -30.5 24.6 -32.7 Z M20.4 -17.6 Q19.5 -14.8 21.2 -12.3 Q22.2 -15.2 20.4 -17.6 Z M67.4 -19.8 Q63.9 -19.9 61.6 -17.2 Q65.2 -17.0 67.4 -19.8 Z M20.5 -30.5 Q16.1 -30.0 13.8 -26.2 Q18.2 -26.7 20.5 -30.5 Z M24.7 -28.0 Q20.9 -29.1 17.7 -26.6 Q21.6 -25.5 24.7 -28.0 Z M19.2 -8.2 Q16.1 -5.1 16.7 -0.8 Q19.8 -3.9 19.2 -8.2 Z M33.6 -30.1 Q31.6 -30.8 29.8 -29.7 Q31.8 -28.9 33.6 -30.1 Z M22.6 -13.1 Q19.9 -12.9 18.5 -10.6 Q21.2 -10.8 22.6 -13.1 Z M43.8 -25.9 Q41.5 -24.9 41.0 -22.5 Q43.2 -23.5 43.8 -25.9 Z M13.0 -27.6 Q9.5 -27.6 7.4 -24.7 Q10.9 -24.7 13.0 -27.6 Z M40.3 -27.0 Q42.3 -23.0 46.7 -22.2 Q44.7 -26.2 40.3 -27.0 Z M32.3 -33.2 Q32.2 -30.7 34.1 -29.1 Q34.2 -31.6 32.3 -33.2 Z M43.4 -29.9 Q40.5 -30.3 38.4 -28.2 Q41.4 -27.8 43.4 -29.9 Z M66.7 -16.6 Q64.1 -13.7 64.9 -10.0 Q67.5 -12.8 66.7 -16.6 Z M16.3 -32.5 Q14.3 -32.8 12.8 -31.4 Q14.8 -31.1 16.3 -32.5 Z M49.5 -5.8 Q47.9 -4.5 48.0 -2.4 Q49.6 -3.7 49.5 -5.8 Z M38.0 -11.1 Q35.4 -12.4 32.9 -11.1 Q35.4 -9.8 38.0 -11.1 Z M14.0 -17.7 Q10.0 -18.3 7.2 -15.5 Q11.1 -14.9 14.0 -17.7 Z M54.5 -12.9 Q50.5 -13.7 47.4 -10.9 Q51.5 -10.1 54.5 -12.9 Z M31.1 -14.0 Q26.7 -14.3 23.8 -10.9 Q28.2 -10.6 31.1 -14.0 Z M32.3 -13.1 Q29.6 -9.7 30.6 -5.5 Q33.3 -8.8 32.3 -13.1 Z M45.2 -24.5 Q42.6 -22.1 43.0 -18.5 Q45.6 -21.0 45.2 -24.5 Z M14.8 -15.4 Q10.1 -15.8 7.0 -12.3 Q11.7 -11.9 14.8 -15.4 Z M51.3 -24.8 Q48.7 -21.8 49.5 -17.9 Q52.1 -20.9 51.3 -24.8 Z M34.3 -9.3 Q32.2 -8.6 31.5 -6.4 Q33.6 -7.1 34.3 -9.3 Z M5.6 -16.9 Q6.8 -13.9 10.0 -13.0 Q8.8 -16.1 5.6 -16.9 Z M51.8 -18.9 Q48.2 -19.7 45.4 -17.3 Q49.0 -16.5 51.8 -18.9 Z M22.9 -34.8 Q20.5 -33.3 20.3 -30.5 Q22.7 -32.0 22.9 -34.8 Z M20.3 -31.4 Q16.6 -28.9 16.4 -24.4 Q20.1 -27.0 20.3 -31.4 Z M34.2 -8.5 Q31.8 -6.9 31.7 -4.0 Q34.1 -5.6 34.2 -8.5 Z M21.7 -21.1 Q17.6 -21.9 14.5 -19.1 Q18.6 -18.3 21.7 -21.1 Z M58.0 -24.1 Q58.4 -20.6 61.4 -18.8 Q61.0 -22.3 58.0 -24.1 Z M17.7 -19.8 Q13.4 -19.8 10.9 -16.4 Q15.2 -16.4 17.7 -19.8 Z M47.3 -5.7 Q48.8 -3.4 51.5 -3.3 Q50.0 -5.6 47.3 -5.7 Z M32.9 -27.0 Q32.4 -24.4 34.1 -22.5 Q34.6 -25.1 32.9 -27.0 Z M46.4 -19.4 Q43.6 -19.3 41.9 -16.9 Q44.8 -17.1 46.4 -19.4 Z M63.9 -19.6 Q65.8 -18.4 67.9 -19.2 Q66.0 -20.4 63.9 -19.6 Z M60.0 -35.2 Q57.5 -32.1 58.5 -28.3 Q61.0 -31.4 60.0 -35.2 Z M23.2 -10.0 Q24.5 -8.4 26.5 -8.5 Q25.2 -10.1 23.2 -10.0 Z M31.0 -34.8 Q32.5 -30.9 36.5 -29.7 Q35.0 -33.7 31.0 -34.8 Z M14.0 -34.9 Q13.0 -31.3 15.1 -28.3 Q16.2 -31.9 14.0 -34.9 Z M48.1 -13.8 Q44.2 -15.2 40.7 -12.9 Q44.7 -11.5 48.1 -13.8 Z M45.3 -28.6 Q47.0 -25.8 50.2 -25.5 Q48.5 -28.3 45.3 -28.6 Z M3.7 -20.7 Q5.7 -17.3 9.6 -17.0 Q7.6 -20.3 3.7 -20.7 Z M22.8 -26.1 Q20.9 -22.7 22.4 -19.2 Q24.3 -22.5 22.8 -26.1 Z M45.7 -12.0 Q42.6 -11.4 41.3 -8.6 Q44.3 -9.2 45.7 -12.0 Z M63.9 -33.5 Q59.7 -31.7 58.7 -27.3 Q62.8 -29.1 63.9 -33.5 Z M17.1 -20.3 Q13.5 -21.0 10.8 -18.5 Q14.4 -17.8 17.1 -20.3 Z M32.1 -18.3 Q27.8 -17.5 25.8 -13.6 Q30.2 -14.4 32.1 -18.3 Z M60.9 -21.1 Q62.6 -17.7 66.3 -17.1 Q64.6 -20.4 60.9 -21.1 Z M52.1 -11.0 Q48.7 -9.5 47.9 -5.9 Q51.3 -7.4 52.1 -11.0 Z M23.2 -6.3 Q18.9 -8.1 14.9 -5.7 Q19.2 -3.9 23.2 -6.3 Z M41.2 -10.0 Q38.4 -10.5 36.3 -8.6 Q39.1 -8.0 41.2 -10.0 Z M57.8 -24.5 Q57.2 -22.4 58.6 -20.6 Q59.2 -22.7 57.8 -24.5 Z M36.6 -10.2 Q39.4 -8.5 42.5 -9.7 Q39.7 -11.4 36.6 -10.2 Z M52.2 -33.0 Q54.4 -29.5 58.5 -29.2 Q56.3 -32.7 52.2 -33.0 Z M24.5 -10.3 Q26.0 -8.4 28.3 -8.4 Q26.9 -10.3 24.5 -10.3 Z M39.6 -14.5 Q35.9 -12.4 35.4 -8.1 Q39.1 -10.2 39.6 -14.5 Z M59.8 -19.3 Q63.1 -16.3 67.6 -17.1 Q64.2 -20.2 59.8 -19.3 Z M21.2 -19.1 Q18.6 -18.0 17.9 -15.3 Q20.4 -16.4 21.2 -19.1 Z M45.7 -21.1 Q43.1 -17.7 44.3 -13.6 Q46.8 -17.0 45.7 -21.1 Z M28.7 -22.7 Q24.4 -23.4 21.4 -20.4 Q25.6 -19.7 28.7 -22.7 Z M19.0 -11.6 Q16.6 -7.6 18.4 -3.4 Q20.8 -7.3 19.0 -11.6 Z M41.0 -30.1 Q39.4 -27.0 40.9 -23.9 Q42.5 -27.0 41.0 -30.1 Z M43.1 -36.3 Q40.9 -32.3 42.7 -28.0 Q45.0 -32.1 43.1 -36.3 Z M30.3 -12.1 Q28.9 -8.9 30.5 -5.8 Q32.0 -9.0 30.3 -12.1 Z M47.3 -34.0 Q46.7 -30.6 49.0 -28.0 Q49.6 -31.4 47.3 -34.0 Z M64.2 -7.7 Q63.2 -5.2 64.6 -2.9 Q65.6 -5.4 64.2 -7.7 Z M17.3 -21.1 Q13.2 -21.8 10.2 -18.8 Q14.3 -18.2 17.3 -21.1 Z M35.9 -25.6 Q34.0 -23.9 34.3 -21.4 Q36.1 -23.1 35.9 -25.6 Z M58.8 -29.4 Q62.3 -27.3 66.1 -28.9 Q62.6 -30.9 58.8 -29.4 Z M16.0 -29.1 Q16.4 -25.3 19.7 -23.3 Q19.3 -27.1 16.0 -29.1 Z M29.0 -15.9 Q26.9 -15.1 26.3 -12.9 Q28.4 -13.7 29.0 -15.9 Z M11.5 -19.1 Q12.8 -16.7 15.4 -16.3 Q14.2 -18.7 11.5 -19.1 Z M37.6 -22.5 Q37.1 -19.5 39.1 -17.3 Q39.7 -20.3 37.6 -22.5 Z M39.2 -30.3 Q37.2 -28.7 37.4 -26.1 Q39.3 -27.7 39.2 -30.3 Z M46.3 -20.7 Q43.1 -17.8 43.6 -13.5 Q46.8 -16.5 46.3 -20.7 Z M61.2 -28.0 Q57.3 -27.5 55.3 -24.0 Q59.3 -24.5 61.2 -28.0 Z M63.5 -24.1 Q60.8 -24.8 58.6 -22.9 Q61.4 -22.3 63.5 -24.1 Z M15.7 -4.7 Q18.5 -1.3 22.9 -1.4 Q20.1 -4.8 15.7 -4.7 Z M18.3 -11.9 Q20.2 -10.0 22.9 -10.5 Q21.0 -12.4 18.3 -11.9 Z M53.4 -21.8 Q56.0 -18.6 60.2 -18.9 Q57.5 -22.1 53.4 -21.8 Z M29.1 -13.5 Q30.0 -11.7 32.1 -11.4 Q31.1 -13.2 29.1 -13.5 Z M43.8 -7.1 Q46.9 -3.7 51.5 -4.2 Q48.4 -7.6 43.8 -7.1 Z M38.5 -12.8 Q35.6 -11.1 35.2 -7.7 Q38.1 -9.4 38.5 -12.8 Z M15.5 -31.1 Q17.4 -29.9 19.6 -30.6 Q17.6 -31.9 15.5 -31.1 Z M36.8 -19.0 Q38.9 -16.1 42.5 -16.1 Q40.4 -19.0 36.8 -19.0 Z M21.1 -27.0 Q17.2 -28.8 13.4 -26.8 Q17.3 -25.0 21.1 -27.0 Z M64.5 -30.4 Q62.4 -31.1 60.6 -29.8 Q62.7 -29.2 64.5 -30.4 Z M33.9 -12.6 Q32.9 -9.9 34.5 -7.5 Q35.5 -10.2 33.9 -12.6 Z M34.2 -20.2 Q37.4 -18.5 40.7 -20.0 Q37.5 -21.7 34.2 -20.2 Z M48.4 -9.9 Q47.7 -7.5 49.1 -5.5 Q49.9 -7.8 48.4 -9.9 Z M49.1 -22.0 Q50.5 -19.9 53.1 -19.7 Q51.7 -21.8 49.1 -22.0 Z M40.5 -34.8 Q36.1 -34.1 34.1 -30.2 Q38.4 -30.9 40.5 -34.8 Z M48.0 -10.3 Q47.4 -6.7 50.0 -4.0 Q50.6 -7.7 48.0 -10.3 Z M46.0 -20.3 Q41.4 -19.6 39.2 -15.5 Q43.8 -16.2 46.0 -20.3 Z M24.5 -8.0 Q20.6 -7.0 19.0 -3.4 Q22.9 -4.3 24.5 -8.0 Z M59.4 -22.3 Q55.0 -22.7 52.0 -19.4 Q56.4 -19.0 59.4 -22.3 Z M47.3 -13.5 Q46.6 -9.5 49.4 -6.5 Q50.1 -10.5 47.3 -13.5 Z M49.8 -33.5 Q48.8 -30.8 50.3 -28.3 Q51.4 -31.0 49.8 -33.5 Z M7.9 -25.4 Q5.1 -23.0 5.4 -19.2 Q8.2 -21.7 7.9 -25.4 Z M18.5 -7.6 Q18.7 -3.8 21.8 -1.7 Q21.6 -5.5 18.5 -7.6 Z M45.2 -18.8 Q44.8 -15.4 47.3 -13.0 Q47.7 -16.4 45.2 -18.8 Z M69.5 -16.1 Q65.8 -15.0 64.4 -11.4 Q68.2 -12.5 69.5 -16.1 Z M68.0 -34.7 Q64.6 -33.4 63.6 -29.9 Q67.0 -31.2 68.0 -34.7 Z M20.1 -22.1 Q21.1 -20.2 23.2 -19.8 Q22.2 -21.7 20.1 -22.1 Z M31.2 -30.7 Q28.6 -31.2 26.6 -29.3 Q29.3 -28.9 31.2 -30.7 Z M40.4 -21.8 Q37.5 -18.2 38.7 -13.7 Q41.6 -17.3 40.4 -21.8 Z M63.1 -14.7 Q66.3 -12.0 70.3 -13.0 Q67.1 -15.7 63.1 -14.7 Z M44.3 -10.6 Q42.2 -11.2 40.6 -9.8 Q42.7 -9.3 44.3 -10.6 Z M15.7 -21.1 Q14.7 -18.8 15.8 -16.6 Q16.9 -18.9 15.7 -21.1 Z M42.3 -35.2 Q41.3 -30.7 44.3 -27.3 Q45.3 -31.7 42.3 -35.2 Z M36.5 -17.2 Q37.1 -14.2 39.8 -13.0 Q39.2 -15.9 36.5 -17.2 Z M47.5 -18.1 Q45.0 -17.0 44.4 -14.3 Q46.9 -15.4 47.5 -18.1 Z M21.7 -32.9 Q23.9 -31.4 26.4 -32.3 Q24.2 -33.8 21.7 -32.9 Z M18.1 -11.2 Q15.1 -11.7 13.0 -9.5 Q16.0 -9.1 18.1 -11.2 Z M55.8 -32.2 Q51.3 -33.6 47.5 -30.8 Q52.0 -29.4 55.8 -32.2 Z M29.2 -21.5 Q30.8 -17.2 35.2 -15.8 Q33.6 -20.2 29.2 -21.5 Z M37.6 -8.4 Q36.2 -4.7 38.3 -1.4 Q39.7 -5.1 37.6 -8.4 Z M62.7 -9.6 Q65.1 -7.0 68.7 -7.3 Q66.3 -10.0 62.7 -9.6 Z M41.8 -19.7 Q43.9 -18.2 46.3 -19.0 Q44.3 -20.5 41.8 -19.7 Z M39.7 -31.7 Q37.0 -30.0 36.8 -26.8 Q39.5 -28.5 39.7 -31.7 Z M33.0 -28.2 Q32.2 -24.7 34.6 -22.0 Q35.3 -25.5 33.0 -28.2 Z M57.6 -17.7 Q53.1 -19.2 49.3 -16.5 Q53.8 -15.0 57.6 -17.7 Z M52.7 -26.5 Q50.4 -26.8 48.8 -25.2 Q51.1 -24.9 52.7 -26.5 Z M52.1 -16.3 Q52.8 -13.4 55.6 -12.2 Q54.8 -15.1 52.1 -16.3 Z M49.1 -19.0 Q46.3 -16.7 46.5 -13.1 Q49.3 -15.4 49.1 -19.0 Z M54.3 -27.5 Q51.9 -28.5 49.6 -27.2 Q52.0 -26.1 54.3 -27.5 Z M60.0 -7.0 Q61.7 -5.7 63.7 -6.3 Q62.0 -7.6 60.0 -7.0 Z M19.4 -21.3 Q22.0 -18.7 25.7 -19.2 Q23.0 -21.8 19.4 -21.3 Z M40.1 -32.5 Q38.2 -31.4 38.0 -29.1 Q39.9 -30.3 40.1 -32.5 Z M39.4 -16.8 Q38.2 -14.0 39.8 -11.4 Q40.9 -14.2 39.4 -16.8 Z M22.0 -24.4 Q18.0 -24.3 15.7 -20.9 Q19.7 -21.1 22.0 -24.4 Z M12.0 -32.9 Q8.8 -30.1 9.1 -25.9 Q12.3 -28.7 12.0 -32.9 Z M51.0 -28.6 Q51.9 -25.6 54.8 -24.6 Q53.9 -27.6 51.0 -28.6 Z M58.8 -22.0 Q55.3 -23.6 52.0 -21.8 Q55.5 -20.2 58.8 -22.0 Z M29.3 -17.4 Q25.4 -18.3 22.4 -15.7 Q26.3 -14.8 29.3 -17.4 Z M34.0 -22.7 Q31.7 -22.9 30.2 -21.1 Q32.5 -21.0 34.0 -22.7 Z M10.6 -33.7 Q9.2 -30.4 10.9 -27.4 Q12.4 -30.6 10.6 -33.7 Z M44.2 -24.9 Q47.4 -22.3 51.4 -23.2 Q48.2 -25.8 44.2 -24.9 Z M17.9 -14.8 Q18.2 -12.6 20.2 -11.5 Q19.8 -13.7 17.9 -14.8 Z M48.0 -13.3 Q49.7 -11.1 52.5 -11.1 Q50.8 -13.3 48.0 -13.3 Z M25.3 -12.2 Q27.3 -10.0 30.3 -10.3 Q28.3 -12.5 25.3 -12.2 Z M53.2 -16.7 Q48.9 -17.9 45.3 -15.2 Q49.6 -14.0 53.2 -16.7 Z M59.6 -22.9 Q60.2 -18.8 63.9 -16.8 Q63.2 -20.9 59.6 -22.9 Z M29.2 -22.3 Q24.7 -22.9 21.6 -19.7 Q26.0 -19.1 29.2 -22.3 Z M20.0 -24.6 Q19.9 -21.6 22.3 -19.7 Q22.4 -22.7 20.0 -24.6 Z M30.6 -23.6 Q29.0 -21.6 29.7 -19.2 Q31.2 -21.1 30.6 -23.6 Z M55.4 -20.5 Q52.8 -17.2 53.9 -13.0 Q56.5 -16.4 55.4 -20.5 Z M14.3 -13.3 Q15.3 -9.0 19.3 -7.2 Q18.3 -11.5 14.3 -13.3 Z M8.0 -20.6 Q5.8 -17.9 6.7 -14.5 Q8.9 -17.2 8.0 -20.6 Z M61.3 -14.2 Q64.6 -11.6 68.6 -12.7 Q65.3 -15.3 61.3 -14.2 Z M37.4 -9.9 Q39.1 -8.4 41.3 -8.9 Q39.6 -10.3 37.4 -9.9 Z M51.8 -7.9 Q50.0 -6.4 50.1 -4.2 Q51.9 -5.6 51.8 -7.9 Z M12.4 -13.0 Q13.6 -9.4 17.2 -8.3 Q15.9 -11.8 12.4 -13.0 Z M21.7 -12.1 Q18.4 -11.2 17.2 -8.0 Q20.5 -8.9 21.7 -12.1 Z M32.2 -26.4 Q28.3 -23.9 27.9 -19.3 Q31.8 -21.8 32.2 -26.4 Z M38.3 -19.7 Q34.7 -18.0 34.0 -14.1 Q37.5 -15.8 38.3 -19.7 Z M63.7 -24.0 Q60.2 -21.6 59.9 -17.4 Q63.5 -19.7 63.7 -24.0 Z M61.6 -10.1 Q57.4 -10.6 54.5 -7.5 Q58.7 -7.0 61.6 -10.1 Z M66.3 -16.2 Q63.2 -14.7 62.6 -11.4 Q65.6 -12.9 66.3 -16.2 Z M52.4 -21.6 Q54.3 -19.1 57.5 -19.1 Q55.6 -21.6 52.4 -21.6 Z M48.9 -4.6 Q50.5 -2.1 53.6 -1.9 Q51.9 -4.4 48.9 -4.6 Z M21.0 -20.5 Q18.3 -21.5 16.0 -20.0 Q18.6 -19.0 21.0 -20.5 Z M10.5 -25.6 Q8.7 -24.2 8.7 -21.9 Q10.5 -23.3 10.5 -25.6 Z M53.1 -29.6 Q52.4 -27.5 53.6 -25.7 Q54.3 -27.7 53.1 -29.6 Z M39.8 -6.4 Q41.3 -4.8 43.4 -5.1 Q41.9 -6.6 39.8 -6.4 Z M18.7 -28.3 Q16.3 -27.2 15.8 -24.6 Q18.2 -25.7 18.7 -28.3 Z M40.9 -28.0 Q41.4 -25.6 43.7 -24.5 Q43.1 -27.0 40.9 -28.0 Z M16.9 -12.8 Q15.3 -10.5 16.1 -7.8 Q17.8 -10.1 16.9 -12.8 Z M58.1 -19.5 Q55.4 -19.8 53.6 -17.8 Q56.3 -17.5 58.1 -19.5 Z M64.9 -23.2 Q61.6 -24.3 58.7 -22.3 Q62.0 -21.2 64.9 -23.2 Z M37.3 -26.7 Q35.3 -27.3 33.5 -26.1 Q35.6 -25.4 37.3 -26.7 Z M55.0 -24.5 Q53.4 -21.5 54.7 -18.4 Q56.4 -21.4 55.0 -24.5 Z M20.3 -5.6 Q21.6 -2.1 25.2 -1.0 Q23.9 -4.5 20.3 -5.6 Z M8.8 -20.4 Q5.9 -19.9 4.5 -17.2 Q7.5 -17.7 8.8 -20.4 Z M47.6 -15.8 Q49.0 -13.9 51.4 -13.8 Q50.0 -15.8 47.6 -15.8 Z M25.8 -29.1 Q23.7 -25.3 25.4 -21.3 Q27.6 -25.1 25.8 -29.1 Z M45.1 -5.6 Q43.6 -3.3 44.6 -0.8 Q46.1 -3.1 45.1 -5.6 Z M16.7 -10.8 Q14.7 -10.7 13.7 -8.9 Q15.7 -9.1 16.7 -10.8 Z M56.3 -9.8 Q56.9 -7.7 58.9 -6.8 Q58.4 -9.0 56.3 -9.8 Z M49.4 -33.0 Q48.2 -29.9 50.0 -27.1 Q51.2 -30.2 49.4 -33.0 Z M62.1 -18.5 Q62.7 -14.3 66.5 -12.3 Q65.9 -16.5 62.1 -18.5 Z M50.3 -21.6 Q53.6 -18.6 58.0 -19.4 Q54.7 -22.4 50.3 -21.6 Z M56.7 -29.8 Q54.9 -26.9 56.2 -23.7 Q58.0 -26.6 56.7 -29.8 Z M14.2 -10.1 Q14.6 -7.3 17.0 -5.9 Q16.7 -8.8 14.2 -10.1 Z M12.5 -26.1 Q9.5 -24.7 8.8 -21.5 Q11.8 -22.9 12.5 -26.1 Z M27.3 -14.3 Q27.0 -12.1 28.6 -10.4 Q28.9 -12.7 27.3 -14.3 Z M35.9 -7.3 Q32.5 -4.9 32.4 -0.6 Q35.8 -3.1 35.9 -7.3 Z M4.2 -24.1 Q5.6 -20.4 9.3 -19.3 Q7.9 -23.0 4.2 -24.1 Z M42.2 -19.3 Q40.4 -20.2 38.6 -19.2 Q40.4 -18.3 42.2 -19.3 Z M52.8 -29.4 Q53.5 -25.8 56.8 -24.2 Q56.1 -27.8 52.8 -29.4 Z M27.7 -19.0 Q27.8 -16.2 30.2 -14.6 Q30.0 -17.4 27.7 -19.0 Z M28.0 -14.4 Q29.2 -12.0 31.9 -11.6 Q30.6 -14.0 28.0 -14.4 Z M51.4 -27.1 Q48.6 -23.5 49.8 -19.1 Q52.6 -22.7 51.4 -27.1 Z M46.5 -24.1 Q49.6 -21.2 53.8 -22.0 Q50.7 -24.9 46.5 -24.1 Z M16.7 -32.9 Q13.2 -31.2 12.5 -27.4 Q15.9 -29.1 16.7 -32.9 Z M18.1 -24.6 Q15.1 -21.5 15.9 -17.3 Q18.8 -20.4 18.1 -24.6 Z M9.5 -27.0 Q11.1 -25.2 13.5 -25.4 Q11.9 -27.2 9.5 -27.0 Z M29.9 -34.7 Q28.9 -30.4 31.7 -26.9 Q32.8 -31.3 29.9 -34.7 Z M40.3 -15.5 Q36.2 -15.1 34.1 -11.6 Q38.2 -12.0 40.3 -15.5 Z M26.8 -23.2 Q29.5 -21.7 32.3 -22.9 Q29.6 -24.5 26.8 -23.2 Z M33.7 -14.6 Q29.2 -13.6 27.2 -9.5 Q31.7 -10.4 33.7 -14.6 Z M45.3 -16.3 Q45.5 -14.3 47.2 -13.2 Q47.1 -15.2 45.3 -16.3 Z " fill="#8e8e8e" stroke="#6a6a6a" stroke-width="0.6"/>
<path d="M33.2 -20.2 L34.0 -12.2 M8.1 -9.2 L15.0 -8.3 M17.4 -27.6 L17.8 -23.9 M69.2 -6.2 L64.5 -0.1 M63.0 -8.7 L65.9 -6.5 M14.3 -25.9 L8.3 -20.2 M18.6 -12.9 L16.7 -9.1 M20.5 -24.6 L17.2 -17.7 M24.6 -32.7 L23.6 -28.8 M20.5 -30.5 L13.8 -26.2 M33.6 -30.1 L29.8 -29.7 M13.0 -27.6 L7.4 -24.7 M32.3 -33.2 L34.1 -29.1 M16.3 -32.5 L12.8 -31.4 M14.0 -17.7 L7.2 -15.5 M32.3 -13.1 L30.6 -5.5 M51.3 -24.8 L49.5 -17.9 M51.8 -18.9 L45.4 -17.3 M34.2 -8.5 L31.7 -4.0 M17.7 -19.8 L10.9 -16.4 M46.4 -19.4 L41.9 -16.9 M23.2 -10.0 L26.5 -8.5 M48.1 -13.8 L40.7 -12.9 M22.8 -26.1 L22.4 -19.2 M17.1 -20.3 L10.8 -18.5 M52.1 -11.0 L47.9 -5.9 M57.8 -24.5 L58.6 -20.6 M24.5 -10.3 L28.3 -8.4 M21.2 -19.1 L17.9 -15.3 M19.0 -11.6 L18.4 -3.4 M30.3 -12.1 L30.5 -5.8 M17.3 -21.1 L10.2 -18.8 M16.0 -29.1 L19.7 -23.3 M37.6 -22.5 L39.1 -17.3 M61.2 -28.0 L55.3 -24.0 M18.3 -11.9 L22.9 -10.5 M43.8 -7.1 L51.5 -4.2 M36.8 -19.0 L42.5 -16.1 M33.9 -12.6 L34.5 -7.5 M49.1 -22.0 L53.1 -19.7 M46.0 -20.3 L39.2 -15.5 M47.3 -13.5 L49.4 -6.5 M18.5 -7.6 L21.8 -1.7 M68.0 -34.7 L63.6 -29.9 M40.4 -21.8 L38.7 -13.7 M15.7 -21.1 L15.8 -16.6 M47.5 -18.1 L44.4 -14.3 M55.8 -32.2 L47.5 -30.8 M37.6 -8.4 L38.3 -1.4 M39.7 -31.7 L36.8 -26.8 M52.7 -26.5 L48.8 -25.2 M54.3 -27.5 L49.6 -27.2 M40.1 -32.5 L38.0 -29.1 M12.0 -32.9 L9.1 -25.9 M29.3 -17.4 L22.4 -15.7 M44.2 -24.9 L51.4 -23.2 M25.3 -12.2 L30.3 -10.3 M29.2 -22.3 L21.6 -19.7 M55.4 -20.5 L53.9 -13.0 M61.3 -14.2 L68.6 -12.7 M12.4 -13.0 L17.2 -8.3 M38.3 -19.7 L34.0 -14.1 M66.3 -16.2 L62.6 -11.4 M21.0 -20.5 L16.0 -20.0 M39.8 -6.4 L43.4 -5.1 M16.9 -12.8 L16.1 -7.8 M37.3 -26.7 L33.5 -26.1 M8.8 -20.4 L4.5 -17.2 M45.1 -5.6 L44.6 -0.8 M49.4 -33.0 L50.0 -27.1 M56.7 -29.8 L56.2 -23.7 M27.3 -14.3 L28.6 -10.4 M42.2 -19.3 L38.6 -19.2 M28.0 -14.4 L31.9 -11.6 M16.7 -32.9 L12.5 -27.4 M29.9 -34.7 L31.7 -26.9 M33.7 -14.6 L27.2 -9.5 " fill="none" stroke="#555" stroke-width="0.7"/>
<path d="M40 -30 L46 -6 M30 -20 L56 -14 M34 -10 L52 -26 M33 -27 L53 -8" stroke="#666" stroke-width="0.9" fill="none"/>
<circle cx="15" cy="-14" r="2.4" fill="#2a2a2a"/><circle cx="11.5" cy="-19" r="1.5" fill="#333"/><circle cx="20" cy="-11" r="1.3" fill="#444"/>
<path d="M67 -29.5 L80.5 -29.5 L80.5 -4.5 L67 -4.5 Z" fill="#8a8a8a" stroke="#222" stroke-width="0.9"/>
<path d="M67 -22 L80 -29 M67 -14 L80 -24 M68 -6 L80 -17 M72 -5 L80 -11" stroke="#2a2a2a" stroke-width="1.6" fill="none"/>
<path d="M69 -27 L78 -8 M74 -28 L80 -16" stroke="#eee" stroke-width="0.9" fill="none"/>
<path d="M73 -12 L80 -12 L80 -5 L73 -5 Z" fill="#fff" stroke="#333" stroke-width="0.6"/>
<path d="M104 -4.5 q-3 0 -2.5 -3.5 q0 -3.5 4 -3.5 l10 -0.5 q2 -1.5 4.5 0 l3 0 q3 0.5 3 4 q0 3.5 -3.5 3.5 Z" fill="#fff" stroke="#333" stroke-width="0.8"/>
<path d="M151 -4.5 q-3 0 -2.5 -4 q0 -3 3 -3 q1 -3 5 -2.5 l5 0 q3.5 0.5 3.5 4.5 q0 4.5 -3.5 5 Z" fill="#fff" stroke="#333" stroke-width="0.8"/>
<path d="M128.5 -25 L147 -25 L147 -11 L128.5 -11 Z" fill="#1e1e1e"/>
<path d="M131 -22 L136 -22 M139 -22 L145 -22 M131 -18.5 L144 -18.5 M131 -15 L138 -15 M141 -14 L145 -14" stroke="#e4e4e4" stroke-width="1.1"/>
<path d="M128 -8 l3 -3 l3 3 l3 -3 l3 3 l3 -3 l3 3 l3 -3 l3 3 M112 -2 L166 -2" stroke="#444" stroke-width="0.7" fill="none"/>
<path d="M114 -2.2 L164 -2.2" stroke="#444" stroke-width="1.6" stroke-dasharray="0.6 1.6" fill="none"/>
<path d="M181 -20.5 L244 -20.5 L244 -10.5 L181 -10.5 Z" fill="#fff" stroke="#222" stroke-width="1"/>
<path d="M183.5 -15.5 L242 -15.5" stroke="#222" stroke-width="5.4" stroke-dasharray="2.6 1.5"/>
<path d="M183.5 -15.5 L242 -15.5" stroke="#fff" stroke-width="1.1" stroke-dasharray="0.9 3.2" stroke-dashoffset="-0.8"/>
</g>
<!-- sec_labels -->
<text x="300.7" y="190.8" font-size="24.8" fill="#c21f2a" stroke="#c21f2a" stroke-width="0.25" textLength="133.0" lengthAdjust="spacingAndGlyphs">MN0503-ND</text>
<text x="375.3" y="237.8" font-size="24.8" fill="#c21f2a" stroke="#c21f2a" stroke-width="0.25" textLength="149.6" lengthAdjust="spacingAndGlyphs">MN0359A-ND</text>
<text x="394.1" y="302.8" font-size="24.8" fill="#c21f2a" stroke="#c21f2a" stroke-width="0.25" textLength="134.0" lengthAdjust="spacingAndGlyphs">MN0118-ND</text>
<text x="443.7" y="341.2" font-size="24.8" fill="#c21f2a" stroke="#c21f2a" stroke-width="0.25" textLength="149.0" lengthAdjust="spacingAndGlyphs">MN0102C-ND</text>
<text x="1.9" y="261.4" font-size="24.8" fill="#c21f2a" stroke="#c21f2a" stroke-width="0.25" textLength="149.0" lengthAdjust="spacingAndGlyphs">MN0121C-ND</text>
<text x="336.9" y="569.9" font-size="24.8" fill="#c21f2a" stroke="#c21f2a" stroke-width="0.25" textLength="246.5" lengthAdjust="spacingAndGlyphs">MN0102C-DLOUHÝ-ND</text>
<text x="55.8" y="580.4" font-size="24.8" fill="#c21f2a" stroke="#c21f2a" stroke-width="0.25" textLength="120.0" lengthAdjust="spacingAndGlyphs">M952D-ND</text>
<text x="264.9" y="622.4" font-size="24.8" fill="#c21f2a" stroke="#c21f2a" stroke-width="0.25" textLength="96.0" lengthAdjust="spacingAndGlyphs">P146-ND</text>
<text x="-3.6" y="912.4" font-size="24.8" fill="#c21f2a" stroke="#c21f2a" stroke-width="0.25" textLength="105.5" lengthAdjust="spacingAndGlyphs">M952-ND</text>
<path d="M154.5 246.5 L181.5 233.6 M349.2 193.6 L316.2 232 M438.8 241.6 L338 281.6 M450 307.2 L374.8 331.2 M500.4 348 L448.4 378.4 M444.4 474.4 L455.5 543 M115.5 585 L126 612 M318 626 L364 670 M70.4 886.1 L104.2 869.2" stroke="#cf4a52" stroke-width="0.9" fill="none"/>
</svg>
</body></html>
